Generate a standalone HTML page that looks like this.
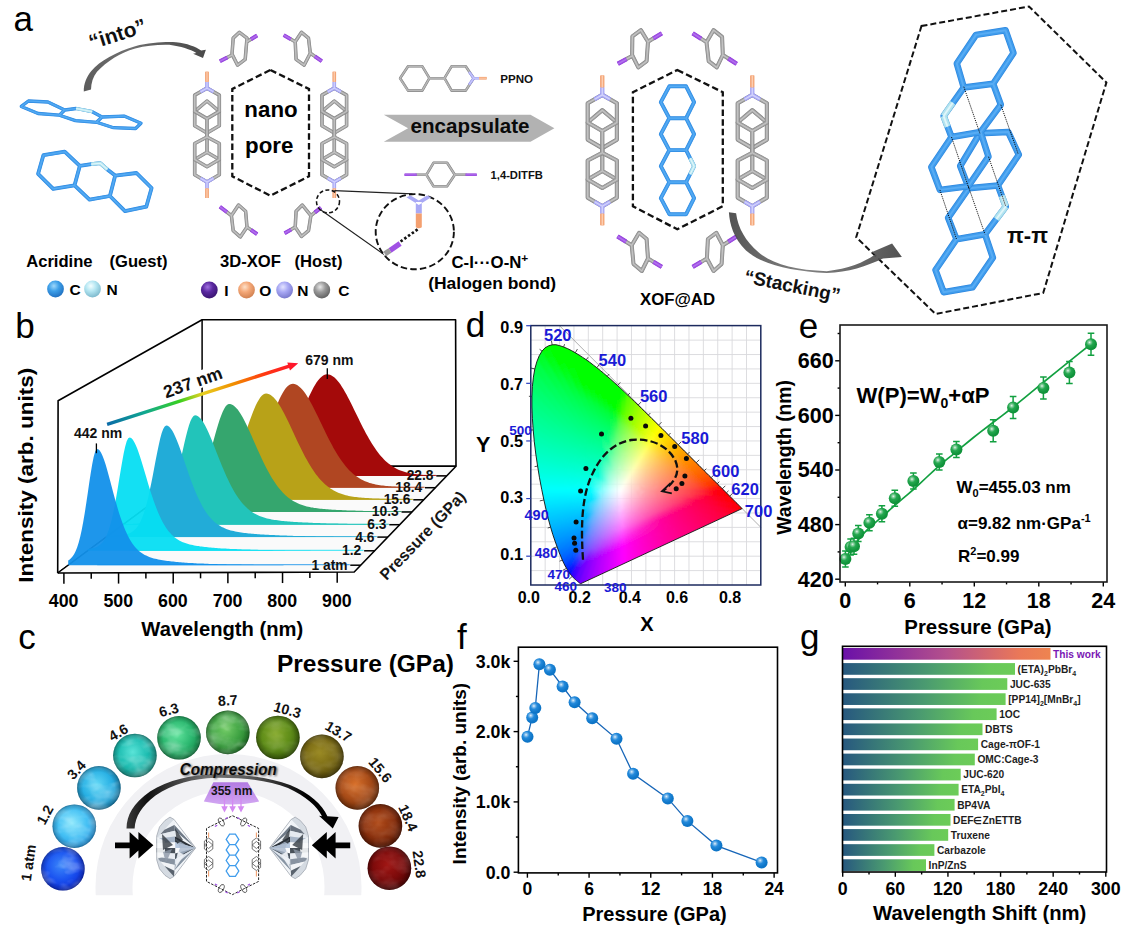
<!DOCTYPE html>
<html><head><meta charset="utf-8"><title>Figure</title><style>html,body{margin:0;padding:0;background:#fff}svg{display:block;font-family:'Liberation Sans', sans-serif}</style></head>
<body><svg width="1128" height="934" viewBox="0 0 1128 934" font-family="Liberation Sans, sans-serif">
<defs>
<radialGradient id="gb" cx="0.38" cy="0.34" r="0.55"><stop offset="0" stop-color="#fff" stop-opacity="0.9"/><stop offset="0.2" stop-color="#fff" stop-opacity="0.5"/><stop offset="0.5" stop-color="#fff" stop-opacity="0.08"/><stop offset="1" stop-color="#000" stop-opacity="0.08"/></radialGradient>
<linearGradient id="ag1" gradientUnits="userSpaceOnUse" x1="84" y1="90" x2="205" y2="52"><stop offset="0" stop-color="#5c5c5c"/><stop offset="0.45" stop-color="#707070"/><stop offset="0.8" stop-color="#555"/><stop offset="1" stop-color="#4a4a4a"/></linearGradient>
<radialGradient id="sC" cx="0.4" cy="0.32" r="0.7"><stop offset="0" stop-color="#9fd8fb"/><stop offset="0.45" stop-color="#3d9fe8"/><stop offset="1" stop-color="#1f6fc0"/></radialGradient>
<radialGradient id="sN" cx="0.4" cy="0.32" r="0.7"><stop offset="0" stop-color="#f4feff"/><stop offset="0.45" stop-color="#b4e6f2"/><stop offset="1" stop-color="#7cb8cc"/></radialGradient>
<radialGradient id="sI" cx="0.4" cy="0.32" r="0.7"><stop offset="0" stop-color="#a070e0"/><stop offset="0.45" stop-color="#5a28a0"/><stop offset="1" stop-color="#3a1470"/></radialGradient>
<radialGradient id="sO" cx="0.4" cy="0.32" r="0.7"><stop offset="0" stop-color="#fde0c8"/><stop offset="0.45" stop-color="#f4a878"/><stop offset="1" stop-color="#d08050"/></radialGradient>
<radialGradient id="sN2" cx="0.4" cy="0.32" r="0.7"><stop offset="0" stop-color="#e4e4ff"/><stop offset="0.45" stop-color="#a8a8f4"/><stop offset="1" stop-color="#7878cc"/></radialGradient>
<radialGradient id="sC2" cx="0.4" cy="0.32" r="0.7"><stop offset="0" stop-color="#e8e8e8"/><stop offset="0.45" stop-color="#9a9a9a"/><stop offset="1" stop-color="#606060"/></radialGradient>
<linearGradient id="ag2" gradientUnits="userSpaceOnUse" x1="729" y1="212" x2="900" y2="250"><stop offset="0" stop-color="#444"/><stop offset="0.5" stop-color="#777"/><stop offset="0.85" stop-color="#555"/><stop offset="1" stop-color="#444"/></linearGradient>
<linearGradient id="ba" gradientUnits="userSpaceOnUse" x1="107" y1="424.5" x2="298" y2="363.3"><stop offset="0" stop-color="#0a6aa8"/><stop offset="0.2" stop-color="#10a890"/><stop offset="0.38" stop-color="#38d020"/><stop offset="0.5" stop-color="#e8d020"/><stop offset="0.66" stop-color="#f09000"/><stop offset="0.82" stop-color="#ff3a10"/><stop offset="1" stop-color="#ff1030"/></linearGradient>
<clipPath id="cband"><rect x="80" y="740" width="300" height="155.2"/></clipPath>
<filter id="tx" x="0" y="0" width="1" height="1"><feTurbulence type="fractalNoise" baseFrequency="0.045 0.07" numOctaves="3" seed="7"/><feColorMatrix type="matrix" values="0 0 0 0 1  0 0 0 0 1  0 0 0 0 1  1.6 0 0 0 -0.62"/><feComposite in2="SourceGraphic" operator="in"/></filter>
<radialGradient id="brim" cx="0.5" cy="0.5" r="0.5"><stop offset="0.72" stop-color="#000" stop-opacity="0"/><stop offset="0.92" stop-color="#000" stop-opacity="0.16"/><stop offset="1" stop-color="#000" stop-opacity="0.34"/></radialGradient>
<radialGradient id="bl0" cx="0.45" cy="0.42" r="0.62"><stop offset="0" stop-color="#3a86fa"/><stop offset="0.55" stop-color="#1a52f0"/><stop offset="1" stop-color="#0c28d0"/></radialGradient>
<radialGradient id="bl1" cx="0.45" cy="0.42" r="0.62"><stop offset="0" stop-color="#8ee8fc"/><stop offset="0.55" stop-color="#44c0f4"/><stop offset="1" stop-color="#2090dc"/></radialGradient>
<radialGradient id="bl2" cx="0.45" cy="0.42" r="0.62"><stop offset="0" stop-color="#62d8f6"/><stop offset="0.55" stop-color="#28b0e4"/><stop offset="1" stop-color="#167eb0"/></radialGradient>
<radialGradient id="bl3" cx="0.45" cy="0.42" r="0.62"><stop offset="0" stop-color="#5ae4d8"/><stop offset="0.55" stop-color="#1cbcb0"/><stop offset="1" stop-color="#0e8478"/></radialGradient>
<radialGradient id="bl4" cx="0.45" cy="0.42" r="0.62"><stop offset="0" stop-color="#62e49e"/><stop offset="0.55" stop-color="#2cb870"/><stop offset="1" stop-color="#128244"/></radialGradient>
<radialGradient id="bl5" cx="0.45" cy="0.42" r="0.62"><stop offset="0" stop-color="#74cc68"/><stop offset="0.55" stop-color="#3ea242"/><stop offset="1" stop-color="#1c7024"/></radialGradient>
<radialGradient id="bl6" cx="0.45" cy="0.42" r="0.62"><stop offset="0" stop-color="#86aa2c"/><stop offset="0.55" stop-color="#5e8c18"/><stop offset="1" stop-color="#365808"/></radialGradient>
<radialGradient id="bl7" cx="0.45" cy="0.42" r="0.62"><stop offset="0" stop-color="#9a8a24"/><stop offset="0.55" stop-color="#7a6a14"/><stop offset="1" stop-color="#4a3e06"/></radialGradient>
<radialGradient id="bl8" cx="0.45" cy="0.42" r="0.62"><stop offset="0" stop-color="#d8702a"/><stop offset="0.55" stop-color="#a84c18"/><stop offset="1" stop-color="#6a2a06"/></radialGradient>
<radialGradient id="bl9" cx="0.45" cy="0.42" r="0.62"><stop offset="0" stop-color="#b04a18"/><stop offset="0.55" stop-color="#8a300c"/><stop offset="1" stop-color="#541604"/></radialGradient>
<radialGradient id="bl10" cx="0.45" cy="0.42" r="0.62"><stop offset="0" stop-color="#a01614"/><stop offset="0.55" stop-color="#7c0a0a"/><stop offset="1" stop-color="#4a0303"/></radialGradient>
<linearGradient id="cg" gradientUnits="userSpaceOnUse" x1="126" y1="0" x2="338" y2="0"><stop offset="0" stop-color="#3a3a3a"/><stop offset="0.1" stop-color="#111"/><stop offset="0.4" stop-color="#7a7a7a"/><stop offset="0.6" stop-color="#555"/><stop offset="0.85" stop-color="#000"/></linearGradient>
<filter id="sh" x="-10%" y="-30%" width="120%" height="170%"><feGaussianBlur stdDeviation="0.9"/></filter>
<linearGradient id="lp" x1="0" y1="0" x2="0" y2="1"><stop offset="0" stop-color="#b27ae2"/><stop offset="1" stop-color="#d2a6f2"/></linearGradient>
<clipPath id="cie"><polygon points="580.9,583.6 580.9,583.6 580.9,583.6 580.8,583.6 580.8,583.6 580.8,583.6 580.8,583.6 580.8,583.6 580.7,583.6 580.7,583.6 580.7,583.6 580.7,583.6 580.6,583.6 580.6,583.6 580.6,583.6 580.6,583.6 580.5,583.6 580.5,583.6 580.4,583.6 580.4,583.6 580.3,583.6 580.3,583.6 580.2,583.6 580.2,583.6 580.1,583.5 580.0,583.5 579.9,583.4 579.8,583.3 579.7,583.2 579.5,583.1 579.4,583.0 579.2,582.9 579.0,582.7 578.8,582.5 578.6,582.3 578.3,582.1 578.1,581.9 577.8,581.6 577.5,581.3 577.1,581.0 576.7,580.7 576.3,580.3 575.8,579.9 575.3,579.5 574.8,579.0 574.2,578.5 573.6,577.9 572.9,577.2 572.2,576.4 571.5,575.6 570.7,574.7 569.8,573.5 568.8,572.1 567.7,570.4 566.5,568.3 565.2,566.0 563.8,563.3 562.3,560.0 560.7,556.2 558.9,551.8 557.1,546.8 555.0,541.0 552.8,534.5 550.6,527.2 548.3,518.9 546.1,509.8 543.9,500.0 541.7,489.3 539.5,477.8 537.6,466.1 535.8,454.1 534.3,441.8 533.2,429.9 532.4,418.3 531.9,407.0 531.9,396.4 532.4,386.4 533.4,377.1 534.8,368.9 536.8,361.8 539.2,355.8 542.0,351.1 545.1,347.8 548.6,345.8 552.2,344.8 555.9,344.7 559.8,345.7 563.6,347.0 567.5,348.6 571.5,350.6 575.3,352.8 579.0,355.0 582.7,357.4 586.3,359.8 589.8,362.3 593.3,365.0 596.8,367.7 600.3,370.5 603.8,373.4 607.2,376.3 610.7,379.3 614.1,382.4 617.5,385.5 621.0,388.7 624.4,391.9 627.8,395.2 631.2,398.4 634.7,401.8 638.1,405.1 641.5,408.4 644.9,411.8 648.3,415.1 651.7,418.5 655.1,421.8 658.5,425.2 661.9,428.5 665.2,431.8 668.5,435.1 671.8,438.4 675.0,441.6 678.2,444.8 681.3,448.0 684.4,451.1 687.5,454.1 690.5,457.1 693.4,460.0 696.2,462.8 699.0,465.5 701.6,468.2 704.2,470.8 706.6,473.2 708.9,475.5 711.1,477.7 713.3,479.8 715.3,481.8 717.2,483.8 719.0,485.5 720.7,487.2 722.3,488.8 723.8,490.2 725.1,491.6 726.4,492.9 727.6,494.1 728.7,495.2 729.7,496.2 730.6,497.1 731.5,498.0 732.3,498.8 733.0,499.5 733.7,500.2 734.4,500.9 735.0,501.5 735.6,502.1 736.1,502.6 736.7,503.1 737.1,503.6 737.6,504.1 738.0,504.5 738.4,504.9 738.7,505.2 739.1,505.5 739.3,505.8 739.6,506.1 739.8,506.3 740.1,506.5 740.3,506.7 740.4,506.9 740.5,507.0 740.7,507.2 741.2,507.7 741.7,508.2 742.1,508.6"/></clipPath>
<filter id="cb" x="-5%" y="-5%" width="110%" height="110%"><feGaussianBlur stdDeviation="1.3"/></filter>
<linearGradient id="c0" gradientUnits="userSpaceOnUse" x1="620.7" y1="490.2" x2="736.0" y2="487.2"><stop offset="0.000" stop-color="#ffffff"/><stop offset="0.111" stop-color="#ffc8c7"/><stop offset="0.222" stop-color="#ffa4a2"/><stop offset="0.333" stop-color="#ff8784"/><stop offset="0.444" stop-color="#ff6f6b"/><stop offset="0.556" stop-color="#ff5953"/><stop offset="0.667" stop-color="#ff4238"/><stop offset="0.778" stop-color="#ff260e"/><stop offset="0.889" stop-color="#ff0000"/><stop offset="1.000" stop-color="#ff0000"/></linearGradient>
<linearGradient id="c1" gradientUnits="userSpaceOnUse" x1="620.7" y1="490.2" x2="730.5" y2="481.6"><stop offset="0.000" stop-color="#ffffff"/><stop offset="0.111" stop-color="#ffccc9"/><stop offset="0.222" stop-color="#ffaaa4"/><stop offset="0.333" stop-color="#ff8f86"/><stop offset="0.444" stop-color="#ff796c"/><stop offset="0.556" stop-color="#ff6653"/><stop offset="0.667" stop-color="#ff5338"/><stop offset="0.778" stop-color="#ff4006"/><stop offset="0.889" stop-color="#ff2900"/><stop offset="1.000" stop-color="#ff0000"/></linearGradient>
<linearGradient id="c2" gradientUnits="userSpaceOnUse" x1="620.7" y1="490.2" x2="725.4" y2="476.4"><stop offset="0.000" stop-color="#ffffff"/><stop offset="0.111" stop-color="#ffd0ca"/><stop offset="0.222" stop-color="#ffafa5"/><stop offset="0.333" stop-color="#ff9788"/><stop offset="0.444" stop-color="#ff826d"/><stop offset="0.556" stop-color="#ff7154"/><stop offset="0.667" stop-color="#ff6137"/><stop offset="0.778" stop-color="#ff5100"/><stop offset="0.889" stop-color="#ff4200"/><stop offset="1.000" stop-color="#ff3000"/></linearGradient>
<linearGradient id="c3" gradientUnits="userSpaceOnUse" x1="620.7" y1="490.2" x2="720.8" y2="471.6"><stop offset="0.000" stop-color="#ffffff"/><stop offset="0.111" stop-color="#ffd3cc"/><stop offset="0.222" stop-color="#ffb5a7"/><stop offset="0.333" stop-color="#ff9d89"/><stop offset="0.444" stop-color="#ff8b6e"/><stop offset="0.556" stop-color="#ff7b54"/><stop offset="0.667" stop-color="#ff6c36"/><stop offset="0.778" stop-color="#ff5f00"/><stop offset="0.889" stop-color="#ff5200"/><stop offset="1.000" stop-color="#ff4600"/></linearGradient>
<linearGradient id="c4" gradientUnits="userSpaceOnUse" x1="620.7" y1="490.2" x2="716.4" y2="467.2"><stop offset="0.000" stop-color="#ffffff"/><stop offset="0.111" stop-color="#ffd6cd"/><stop offset="0.222" stop-color="#ffbaa9"/><stop offset="0.333" stop-color="#ffa48b"/><stop offset="0.444" stop-color="#ff9270"/><stop offset="0.556" stop-color="#ff8455"/><stop offset="0.667" stop-color="#ff7735"/><stop offset="0.778" stop-color="#ff6b00"/><stop offset="0.889" stop-color="#ff6000"/><stop offset="1.000" stop-color="#ff5600"/></linearGradient>
<linearGradient id="c5" gradientUnits="userSpaceOnUse" x1="620.7" y1="490.2" x2="712.4" y2="463.0"><stop offset="0.000" stop-color="#ffffff"/><stop offset="0.111" stop-color="#ffd9cf"/><stop offset="0.222" stop-color="#ffbeab"/><stop offset="0.333" stop-color="#ffaa8c"/><stop offset="0.444" stop-color="#ff9a71"/><stop offset="0.556" stop-color="#ff8c55"/><stop offset="0.667" stop-color="#ff8034"/><stop offset="0.778" stop-color="#ff7600"/><stop offset="0.889" stop-color="#ff6c00"/><stop offset="1.000" stop-color="#ff6400"/></linearGradient>
<linearGradient id="c6" gradientUnits="userSpaceOnUse" x1="620.7" y1="490.2" x2="708.5" y2="459.1"><stop offset="0.000" stop-color="#ffffff"/><stop offset="0.111" stop-color="#ffdcd0"/><stop offset="0.222" stop-color="#ffc3ac"/><stop offset="0.333" stop-color="#ffb08e"/><stop offset="0.444" stop-color="#ffa172"/><stop offset="0.556" stop-color="#ff9456"/><stop offset="0.667" stop-color="#ff8934"/><stop offset="0.778" stop-color="#ff8000"/><stop offset="0.889" stop-color="#ff7700"/><stop offset="1.000" stop-color="#ff7000"/></linearGradient>
<linearGradient id="c7" gradientUnits="userSpaceOnUse" x1="620.7" y1="490.2" x2="704.8" y2="455.3"><stop offset="0.000" stop-color="#ffffff"/><stop offset="0.111" stop-color="#ffdfd1"/><stop offset="0.222" stop-color="#ffc8ae"/><stop offset="0.333" stop-color="#ffb690"/><stop offset="0.444" stop-color="#ffa873"/><stop offset="0.556" stop-color="#ff9c56"/><stop offset="0.667" stop-color="#ff9233"/><stop offset="0.778" stop-color="#ff8900"/><stop offset="0.889" stop-color="#ff8200"/><stop offset="1.000" stop-color="#ff7b00"/></linearGradient>
<linearGradient id="c8" gradientUnits="userSpaceOnUse" x1="620.7" y1="490.2" x2="701.3" y2="451.7"><stop offset="0.000" stop-color="#ffffff"/><stop offset="0.111" stop-color="#ffe1d3"/><stop offset="0.222" stop-color="#ffccb0"/><stop offset="0.333" stop-color="#ffbc91"/><stop offset="0.444" stop-color="#ffae75"/><stop offset="0.556" stop-color="#ffa457"/><stop offset="0.667" stop-color="#ff9a32"/><stop offset="0.778" stop-color="#ff9200"/><stop offset="0.889" stop-color="#ff8b00"/><stop offset="1.000" stop-color="#ff8500"/></linearGradient>
<linearGradient id="c9" gradientUnits="userSpaceOnUse" x1="620.7" y1="490.2" x2="697.9" y2="448.2"><stop offset="0.000" stop-color="#ffffff"/><stop offset="0.111" stop-color="#ffe4d4"/><stop offset="0.222" stop-color="#ffd0b1"/><stop offset="0.333" stop-color="#ffc193"/><stop offset="0.444" stop-color="#ffb576"/><stop offset="0.556" stop-color="#ffab58"/><stop offset="0.667" stop-color="#ffa331"/><stop offset="0.778" stop-color="#ff9b00"/><stop offset="0.889" stop-color="#ff9500"/><stop offset="1.000" stop-color="#ff8f00"/></linearGradient>
<linearGradient id="c10" gradientUnits="userSpaceOnUse" x1="620.7" y1="490.2" x2="694.6" y2="444.9"><stop offset="0.000" stop-color="#ffffff"/><stop offset="0.111" stop-color="#ffe7d5"/><stop offset="0.222" stop-color="#ffd5b3"/><stop offset="0.333" stop-color="#ffc794"/><stop offset="0.444" stop-color="#ffbc77"/><stop offset="0.556" stop-color="#ffb258"/><stop offset="0.667" stop-color="#ffab30"/><stop offset="0.778" stop-color="#ffa400"/><stop offset="0.889" stop-color="#ff9e00"/><stop offset="1.000" stop-color="#ff9900"/></linearGradient>
<linearGradient id="c11" gradientUnits="userSpaceOnUse" x1="620.7" y1="490.2" x2="691.3" y2="441.6"><stop offset="0.000" stop-color="#ffffff"/><stop offset="0.111" stop-color="#ffe9d6"/><stop offset="0.222" stop-color="#ffd9b5"/><stop offset="0.333" stop-color="#ffcc96"/><stop offset="0.444" stop-color="#ffc279"/><stop offset="0.556" stop-color="#ffba59"/><stop offset="0.667" stop-color="#ffb32f"/><stop offset="0.778" stop-color="#ffad00"/><stop offset="0.889" stop-color="#ffa700"/><stop offset="1.000" stop-color="#ffa300"/></linearGradient>
<linearGradient id="c12" gradientUnits="userSpaceOnUse" x1="620.7" y1="490.2" x2="688.2" y2="438.4"><stop offset="0.000" stop-color="#ffffff"/><stop offset="0.111" stop-color="#ffecd8"/><stop offset="0.222" stop-color="#ffddb6"/><stop offset="0.333" stop-color="#ffd298"/><stop offset="0.444" stop-color="#ffc97a"/><stop offset="0.556" stop-color="#ffc15a"/><stop offset="0.667" stop-color="#ffbb2e"/><stop offset="0.778" stop-color="#ffb500"/><stop offset="0.889" stop-color="#ffb100"/><stop offset="1.000" stop-color="#ffac00"/></linearGradient>
<linearGradient id="c13" gradientUnits="userSpaceOnUse" x1="620.7" y1="490.2" x2="685.0" y2="435.2"><stop offset="0.000" stop-color="#ffffff"/><stop offset="0.111" stop-color="#ffeed9"/><stop offset="0.222" stop-color="#ffe2b8"/><stop offset="0.333" stop-color="#ffd89a"/><stop offset="0.444" stop-color="#ffd07c"/><stop offset="0.556" stop-color="#ffc95b"/><stop offset="0.667" stop-color="#ffc32c"/><stop offset="0.778" stop-color="#ffbe00"/><stop offset="0.889" stop-color="#ffba00"/><stop offset="1.000" stop-color="#ffb600"/></linearGradient>
<linearGradient id="c14" gradientUnits="userSpaceOnUse" x1="620.7" y1="490.2" x2="681.9" y2="432.1"><stop offset="0.000" stop-color="#ffffff"/><stop offset="0.111" stop-color="#fff1da"/><stop offset="0.222" stop-color="#ffe6ba"/><stop offset="0.333" stop-color="#ffdd9c"/><stop offset="0.444" stop-color="#ffd67d"/><stop offset="0.556" stop-color="#ffd15c"/><stop offset="0.667" stop-color="#ffcc2b"/><stop offset="0.778" stop-color="#ffc700"/><stop offset="0.889" stop-color="#ffc400"/><stop offset="1.000" stop-color="#ffc000"/></linearGradient>
<linearGradient id="c15" gradientUnits="userSpaceOnUse" x1="620.7" y1="490.2" x2="678.8" y2="429.0"><stop offset="0.000" stop-color="#ffffff"/><stop offset="0.111" stop-color="#fff4dc"/><stop offset="0.222" stop-color="#ffebbc"/><stop offset="0.333" stop-color="#ffe39e"/><stop offset="0.444" stop-color="#ffde7f"/><stop offset="0.556" stop-color="#ffd95d"/><stop offset="0.667" stop-color="#ffd42a"/><stop offset="0.778" stop-color="#ffd100"/><stop offset="0.889" stop-color="#ffce00"/><stop offset="1.000" stop-color="#ffcb00"/></linearGradient>
<linearGradient id="c16" gradientUnits="userSpaceOnUse" x1="620.7" y1="490.2" x2="675.6" y2="425.8"><stop offset="0.000" stop-color="#ffffff"/><stop offset="0.111" stop-color="#fff6dd"/><stop offset="0.222" stop-color="#ffefbe"/><stop offset="0.333" stop-color="#ffeaa0"/><stop offset="0.444" stop-color="#ffe581"/><stop offset="0.556" stop-color="#ffe15e"/><stop offset="0.667" stop-color="#ffde28"/><stop offset="0.778" stop-color="#ffdb00"/><stop offset="0.889" stop-color="#ffd800"/><stop offset="1.000" stop-color="#ffd600"/></linearGradient>
<linearGradient id="c17" gradientUnits="userSpaceOnUse" x1="620.7" y1="490.2" x2="672.4" y2="422.7"><stop offset="0.000" stop-color="#ffffff"/><stop offset="0.111" stop-color="#fff9de"/><stop offset="0.222" stop-color="#fff4c0"/><stop offset="0.333" stop-color="#fff0a2"/><stop offset="0.444" stop-color="#ffed83"/><stop offset="0.556" stop-color="#ffea5f"/><stop offset="0.667" stop-color="#ffe826"/><stop offset="0.778" stop-color="#ffe600"/><stop offset="0.889" stop-color="#ffe400"/><stop offset="1.000" stop-color="#ffe200"/></linearGradient>
<linearGradient id="c18" gradientUnits="userSpaceOnUse" x1="620.7" y1="490.2" x2="669.2" y2="419.5"><stop offset="0.000" stop-color="#ffffff"/><stop offset="0.111" stop-color="#fffce0"/><stop offset="0.222" stop-color="#fff9c2"/><stop offset="0.333" stop-color="#fff7a4"/><stop offset="0.444" stop-color="#fff585"/><stop offset="0.556" stop-color="#fff460"/><stop offset="0.667" stop-color="#fff224"/><stop offset="0.778" stop-color="#fff100"/><stop offset="0.889" stop-color="#fff000"/><stop offset="1.000" stop-color="#ffef00"/></linearGradient>
<linearGradient id="c19" gradientUnits="userSpaceOnUse" x1="620.7" y1="490.2" x2="665.9" y2="416.3"><stop offset="0.000" stop-color="#ffffff"/><stop offset="0.111" stop-color="#ffffe1"/><stop offset="0.222" stop-color="#fffec4"/><stop offset="0.333" stop-color="#fffea7"/><stop offset="0.444" stop-color="#fffe88"/><stop offset="0.556" stop-color="#fffe62"/><stop offset="0.667" stop-color="#fffe21"/><stop offset="0.778" stop-color="#fffe00"/><stop offset="0.889" stop-color="#fffd00"/><stop offset="1.000" stop-color="#fffd00"/></linearGradient>
<linearGradient id="c20" gradientUnits="userSpaceOnUse" x1="620.7" y1="490.2" x2="662.6" y2="413.0"><stop offset="0.000" stop-color="#ffffff"/><stop offset="0.111" stop-color="#fcffe1"/><stop offset="0.222" stop-color="#faffc3"/><stop offset="0.333" stop-color="#f8ffa5"/><stop offset="0.444" stop-color="#f7ff86"/><stop offset="0.556" stop-color="#f5ff60"/><stop offset="0.667" stop-color="#f4ff1c"/><stop offset="0.778" stop-color="#f3ff00"/><stop offset="0.889" stop-color="#f2ff00"/><stop offset="1.000" stop-color="#f1ff00"/></linearGradient>
<linearGradient id="c21" gradientUnits="userSpaceOnUse" x1="620.7" y1="490.2" x2="659.1" y2="409.6"><stop offset="0.000" stop-color="#ffffff"/><stop offset="0.111" stop-color="#f9ffdf"/><stop offset="0.222" stop-color="#f4ffc1"/><stop offset="0.333" stop-color="#f0ffa3"/><stop offset="0.444" stop-color="#edff83"/><stop offset="0.556" stop-color="#eaff5d"/><stop offset="0.667" stop-color="#e8ff17"/><stop offset="0.778" stop-color="#e6ff00"/><stop offset="0.889" stop-color="#e4ff00"/><stop offset="1.000" stop-color="#e2ff00"/></linearGradient>
<linearGradient id="c22" gradientUnits="userSpaceOnUse" x1="620.7" y1="490.2" x2="655.5" y2="406.2"><stop offset="0.000" stop-color="#ffffff"/><stop offset="0.111" stop-color="#f6ffde"/><stop offset="0.222" stop-color="#efffbf"/><stop offset="0.333" stop-color="#e9ffa1"/><stop offset="0.444" stop-color="#e3ff81"/><stop offset="0.556" stop-color="#dfff5a"/><stop offset="0.667" stop-color="#dbff10"/><stop offset="0.778" stop-color="#d8ff00"/><stop offset="0.889" stop-color="#d5ff00"/><stop offset="1.000" stop-color="#d2ff00"/></linearGradient>
<linearGradient id="c23" gradientUnits="userSpaceOnUse" x1="620.7" y1="490.2" x2="651.7" y2="402.5"><stop offset="0.000" stop-color="#ffffff"/><stop offset="0.111" stop-color="#f3ffdd"/><stop offset="0.222" stop-color="#e9ffbe"/><stop offset="0.333" stop-color="#e0ff9f"/><stop offset="0.444" stop-color="#d9ff7e"/><stop offset="0.556" stop-color="#d3ff58"/><stop offset="0.667" stop-color="#ceff07"/><stop offset="0.778" stop-color="#c9ff00"/><stop offset="0.889" stop-color="#c5ff00"/><stop offset="1.000" stop-color="#c1ff00"/></linearGradient>
<linearGradient id="c24" gradientUnits="userSpaceOnUse" x1="620.7" y1="490.2" x2="647.8" y2="398.8"><stop offset="0.000" stop-color="#ffffff"/><stop offset="0.111" stop-color="#efffdc"/><stop offset="0.222" stop-color="#e2ffbc"/><stop offset="0.333" stop-color="#d8ff9c"/><stop offset="0.444" stop-color="#cfff7c"/><stop offset="0.556" stop-color="#c7ff55"/><stop offset="0.667" stop-color="#c0ff00"/><stop offset="0.778" stop-color="#baff00"/><stop offset="0.889" stop-color="#b4ff00"/><stop offset="1.000" stop-color="#afff00"/></linearGradient>
<linearGradient id="c25" gradientUnits="userSpaceOnUse" x1="620.7" y1="490.2" x2="643.6" y2="394.8"><stop offset="0.000" stop-color="#ffffff"/><stop offset="0.111" stop-color="#ecffdb"/><stop offset="0.222" stop-color="#dcffba"/><stop offset="0.333" stop-color="#cfff9a"/><stop offset="0.444" stop-color="#c3ff79"/><stop offset="0.556" stop-color="#b9ff52"/><stop offset="0.667" stop-color="#b1ff00"/><stop offset="0.778" stop-color="#a9ff00"/><stop offset="0.889" stop-color="#a2ff00"/><stop offset="1.000" stop-color="#9bff00"/></linearGradient>
<linearGradient id="c26" gradientUnits="userSpaceOnUse" x1="620.7" y1="490.2" x2="639.2" y2="390.6"><stop offset="0.000" stop-color="#ffffff"/><stop offset="0.111" stop-color="#e8ffd9"/><stop offset="0.222" stop-color="#d5ffb8"/><stop offset="0.333" stop-color="#c5ff98"/><stop offset="0.444" stop-color="#b7ff77"/><stop offset="0.556" stop-color="#abff4f"/><stop offset="0.667" stop-color="#a0ff00"/><stop offset="0.778" stop-color="#96ff00"/><stop offset="0.889" stop-color="#8dff00"/><stop offset="1.000" stop-color="#85ff00"/></linearGradient>
<linearGradient id="c27" gradientUnits="userSpaceOnUse" x1="620.7" y1="490.2" x2="634.4" y2="386.1"><stop offset="0.000" stop-color="#ffffff"/><stop offset="0.111" stop-color="#e4ffd8"/><stop offset="0.222" stop-color="#cdffb6"/><stop offset="0.333" stop-color="#baff95"/><stop offset="0.444" stop-color="#aaff74"/><stop offset="0.556" stop-color="#9bff4d"/><stop offset="0.667" stop-color="#8dff00"/><stop offset="0.778" stop-color="#80ff00"/><stop offset="0.889" stop-color="#74ff00"/><stop offset="1.000" stop-color="#68ff00"/></linearGradient>
<linearGradient id="c28" gradientUnits="userSpaceOnUse" x1="620.7" y1="490.2" x2="629.3" y2="381.3"><stop offset="0.000" stop-color="#ffffff"/><stop offset="0.111" stop-color="#dfffd7"/><stop offset="0.222" stop-color="#c5ffb4"/><stop offset="0.333" stop-color="#afff93"/><stop offset="0.444" stop-color="#9bff71"/><stop offset="0.556" stop-color="#88ff4a"/><stop offset="0.667" stop-color="#77ff00"/><stop offset="0.778" stop-color="#65ff00"/><stop offset="0.889" stop-color="#53ff00"/><stop offset="1.000" stop-color="#3eff00"/></linearGradient>
<linearGradient id="c29" gradientUnits="userSpaceOnUse" x1="620.7" y1="490.2" x2="623.7" y2="376.2"><stop offset="0.000" stop-color="#ffffff"/><stop offset="0.111" stop-color="#daffd5"/><stop offset="0.222" stop-color="#bcffb1"/><stop offset="0.333" stop-color="#a2ff90"/><stop offset="0.444" stop-color="#8aff6f"/><stop offset="0.556" stop-color="#72ff47"/><stop offset="0.667" stop-color="#59ff00"/><stop offset="0.778" stop-color="#3bff00"/><stop offset="0.889" stop-color="#00ff00"/><stop offset="1.000" stop-color="#00ff00"/></linearGradient>
<linearGradient id="c30" gradientUnits="userSpaceOnUse" x1="620.7" y1="490.2" x2="617.6" y2="370.6"><stop offset="0.000" stop-color="#ffffff"/><stop offset="0.111" stop-color="#d5ffd4"/><stop offset="0.222" stop-color="#b2ffaf"/><stop offset="0.333" stop-color="#93ff8e"/><stop offset="0.444" stop-color="#75ff6c"/><stop offset="0.556" stop-color="#54ff44"/><stop offset="0.667" stop-color="#23ff00"/><stop offset="0.778" stop-color="#00ff00"/><stop offset="0.889" stop-color="#00ff00"/><stop offset="1.000" stop-color="#00ff00"/></linearGradient>
<linearGradient id="c31" gradientUnits="userSpaceOnUse" x1="620.7" y1="490.2" x2="610.9" y2="364.7"><stop offset="0.000" stop-color="#ffffff"/><stop offset="0.111" stop-color="#cfffd2"/><stop offset="0.222" stop-color="#a7ffad"/><stop offset="0.333" stop-color="#82ff8b"/><stop offset="0.444" stop-color="#5aff6a"/><stop offset="0.556" stop-color="#16ff42"/><stop offset="0.667" stop-color="#00ff00"/><stop offset="0.778" stop-color="#00ff00"/><stop offset="0.889" stop-color="#00ff00"/><stop offset="1.000" stop-color="#00ff00"/></linearGradient>
<linearGradient id="c32" gradientUnits="userSpaceOnUse" x1="620.7" y1="490.2" x2="603.4" y2="358.3"><stop offset="0.000" stop-color="#ffffff"/><stop offset="0.111" stop-color="#c9ffd0"/><stop offset="0.222" stop-color="#9bffaa"/><stop offset="0.333" stop-color="#6cff89"/><stop offset="0.444" stop-color="#2bff67"/><stop offset="0.556" stop-color="#00ff3f"/><stop offset="0.667" stop-color="#00ff00"/><stop offset="0.778" stop-color="#00ff00"/><stop offset="0.889" stop-color="#00ff00"/><stop offset="1.000" stop-color="#00ff00"/></linearGradient>
<linearGradient id="c33" gradientUnits="userSpaceOnUse" x1="620.7" y1="490.2" x2="595.1" y2="351.5"><stop offset="0.000" stop-color="#ffffff"/><stop offset="0.111" stop-color="#c2ffcf"/><stop offset="0.222" stop-color="#8cffa8"/><stop offset="0.333" stop-color="#4fff86"/><stop offset="0.444" stop-color="#00ff65"/><stop offset="0.556" stop-color="#00ff3e"/><stop offset="0.667" stop-color="#00ff00"/><stop offset="0.778" stop-color="#00ff00"/><stop offset="0.889" stop-color="#00ff00"/><stop offset="1.000" stop-color="#00ff00"/></linearGradient>
<linearGradient id="c34" gradientUnits="userSpaceOnUse" x1="620.7" y1="490.2" x2="585.8" y2="344.6"><stop offset="0.000" stop-color="#ffffff"/><stop offset="0.111" stop-color="#bbffcd"/><stop offset="0.222" stop-color="#7bffa6"/><stop offset="0.333" stop-color="#0dff84"/><stop offset="0.444" stop-color="#00ff63"/><stop offset="0.556" stop-color="#00ff3d"/><stop offset="0.667" stop-color="#00ff00"/><stop offset="0.778" stop-color="#00ff00"/><stop offset="0.889" stop-color="#00ff00"/><stop offset="1.000" stop-color="#00ff00"/></linearGradient>
<linearGradient id="c35" gradientUnits="userSpaceOnUse" x1="620.7" y1="490.2" x2="575.7" y2="337.8"><stop offset="0.000" stop-color="#ffffff"/><stop offset="0.111" stop-color="#b2ffcb"/><stop offset="0.222" stop-color="#66ffa4"/><stop offset="0.333" stop-color="#00ff83"/><stop offset="0.444" stop-color="#00ff62"/><stop offset="0.556" stop-color="#00ff3e"/><stop offset="0.667" stop-color="#00ff00"/><stop offset="0.778" stop-color="#00ff00"/><stop offset="0.889" stop-color="#00ff00"/><stop offset="1.000" stop-color="#00ff00"/></linearGradient>
<linearGradient id="c36" gradientUnits="userSpaceOnUse" x1="620.7" y1="490.2" x2="564.6" y2="331.5"><stop offset="0.000" stop-color="#ffffff"/><stop offset="0.111" stop-color="#a9ffca"/><stop offset="0.222" stop-color="#49ffa3"/><stop offset="0.333" stop-color="#00ff82"/><stop offset="0.444" stop-color="#00ff63"/><stop offset="0.556" stop-color="#00ff40"/><stop offset="0.667" stop-color="#00ff00"/><stop offset="0.778" stop-color="#00ff00"/><stop offset="0.889" stop-color="#00ff00"/><stop offset="1.000" stop-color="#00ff00"/></linearGradient>
<linearGradient id="c37" gradientUnits="userSpaceOnUse" x1="620.7" y1="490.2" x2="553.1" y2="326.6"><stop offset="0.000" stop-color="#ffffff"/><stop offset="0.111" stop-color="#a0ffc9"/><stop offset="0.222" stop-color="#0dffa2"/><stop offset="0.333" stop-color="#00ff82"/><stop offset="0.444" stop-color="#00ff64"/><stop offset="0.556" stop-color="#00ff45"/><stop offset="0.667" stop-color="#00ff15"/><stop offset="0.778" stop-color="#00ff00"/><stop offset="0.889" stop-color="#00ff00"/><stop offset="1.000" stop-color="#00ff00"/></linearGradient>
<linearGradient id="c38" gradientUnits="userSpaceOnUse" x1="620.7" y1="490.2" x2="542.1" y2="325.1"><stop offset="0.000" stop-color="#ffffff"/><stop offset="0.111" stop-color="#98ffc9"/><stop offset="0.222" stop-color="#00ffa3"/><stop offset="0.333" stop-color="#00ff84"/><stop offset="0.444" stop-color="#00ff69"/><stop offset="0.556" stop-color="#00ff4d"/><stop offset="0.667" stop-color="#00ff2b"/><stop offset="0.778" stop-color="#00ff00"/><stop offset="0.889" stop-color="#00ff00"/><stop offset="1.000" stop-color="#00ff00"/></linearGradient>
<linearGradient id="c39" gradientUnits="userSpaceOnUse" x1="620.7" y1="490.2" x2="534.0" y2="330.1"><stop offset="0.000" stop-color="#ffffff"/><stop offset="0.111" stop-color="#93ffcb"/><stop offset="0.222" stop-color="#00ffa7"/><stop offset="0.333" stop-color="#00ff8a"/><stop offset="0.444" stop-color="#00ff71"/><stop offset="0.556" stop-color="#00ff59"/><stop offset="0.667" stop-color="#00ff41"/><stop offset="0.778" stop-color="#00ff1f"/><stop offset="0.889" stop-color="#00ff00"/><stop offset="1.000" stop-color="#00ff00"/></linearGradient>
<linearGradient id="c40" gradientUnits="userSpaceOnUse" x1="620.7" y1="490.2" x2="528.2" y2="338.9"><stop offset="0.000" stop-color="#ffffff"/><stop offset="0.111" stop-color="#91ffce"/><stop offset="0.222" stop-color="#00ffac"/><stop offset="0.333" stop-color="#00ff91"/><stop offset="0.444" stop-color="#00ff7b"/><stop offset="0.556" stop-color="#00ff66"/><stop offset="0.667" stop-color="#00ff53"/><stop offset="0.778" stop-color="#00ff3e"/><stop offset="0.889" stop-color="#00ff25"/><stop offset="1.000" stop-color="#00ff00"/></linearGradient>
<linearGradient id="c41" gradientUnits="userSpaceOnUse" x1="620.7" y1="490.2" x2="524.0" y2="349.2"><stop offset="0.000" stop-color="#ffffff"/><stop offset="0.111" stop-color="#91ffd1"/><stop offset="0.222" stop-color="#00ffb1"/><stop offset="0.333" stop-color="#00ff99"/><stop offset="0.444" stop-color="#00ff84"/><stop offset="0.556" stop-color="#00ff73"/><stop offset="0.667" stop-color="#00ff62"/><stop offset="0.778" stop-color="#00ff53"/><stop offset="0.889" stop-color="#00ff43"/><stop offset="1.000" stop-color="#00ff31"/></linearGradient>
<linearGradient id="c42" gradientUnits="userSpaceOnUse" x1="620.7" y1="490.2" x2="521.8" y2="361.0"><stop offset="0.000" stop-color="#ffffff"/><stop offset="0.111" stop-color="#93ffd5"/><stop offset="0.222" stop-color="#00ffb7"/><stop offset="0.333" stop-color="#00ffa1"/><stop offset="0.444" stop-color="#00ff8e"/><stop offset="0.556" stop-color="#00ff7f"/><stop offset="0.667" stop-color="#00ff71"/><stop offset="0.778" stop-color="#00ff64"/><stop offset="0.889" stop-color="#00ff58"/><stop offset="1.000" stop-color="#00ff4c"/></linearGradient>
<linearGradient id="c43" gradientUnits="userSpaceOnUse" x1="620.7" y1="490.2" x2="520.5" y2="372.6"><stop offset="0.000" stop-color="#ffffff"/><stop offset="0.111" stop-color="#96ffd8"/><stop offset="0.222" stop-color="#00ffbd"/><stop offset="0.333" stop-color="#00ffa8"/><stop offset="0.444" stop-color="#00ff98"/><stop offset="0.556" stop-color="#00ff89"/><stop offset="0.667" stop-color="#00ff7d"/><stop offset="0.778" stop-color="#00ff72"/><stop offset="0.889" stop-color="#00ff68"/><stop offset="1.000" stop-color="#00ff5f"/></linearGradient>
<linearGradient id="c44" gradientUnits="userSpaceOnUse" x1="620.7" y1="490.2" x2="519.3" y2="383.1"><stop offset="0.000" stop-color="#ffffff"/><stop offset="0.111" stop-color="#98ffdb"/><stop offset="0.222" stop-color="#00ffc2"/><stop offset="0.333" stop-color="#00ffaf"/><stop offset="0.444" stop-color="#00ffa0"/><stop offset="0.556" stop-color="#00ff93"/><stop offset="0.667" stop-color="#00ff88"/><stop offset="0.778" stop-color="#00ff7f"/><stop offset="0.889" stop-color="#00ff76"/><stop offset="1.000" stop-color="#00ff6e"/></linearGradient>
<linearGradient id="c45" gradientUnits="userSpaceOnUse" x1="620.7" y1="490.2" x2="519.6" y2="394.1"><stop offset="0.000" stop-color="#ffffff"/><stop offset="0.111" stop-color="#9cffdf"/><stop offset="0.222" stop-color="#00ffc8"/><stop offset="0.333" stop-color="#00ffb6"/><stop offset="0.444" stop-color="#00ffa8"/><stop offset="0.556" stop-color="#00ff9d"/><stop offset="0.667" stop-color="#00ff93"/><stop offset="0.778" stop-color="#00ff8a"/><stop offset="0.889" stop-color="#00ff83"/><stop offset="1.000" stop-color="#00ff7c"/></linearGradient>
<linearGradient id="c46" gradientUnits="userSpaceOnUse" x1="620.7" y1="490.2" x2="519.8" y2="403.9"><stop offset="0.000" stop-color="#ffffff"/><stop offset="0.111" stop-color="#9fffe2"/><stop offset="0.222" stop-color="#00ffcd"/><stop offset="0.333" stop-color="#00ffbd"/><stop offset="0.444" stop-color="#00ffb0"/><stop offset="0.556" stop-color="#00ffa5"/><stop offset="0.667" stop-color="#00ff9c"/><stop offset="0.778" stop-color="#00ff95"/><stop offset="0.889" stop-color="#00ff8e"/><stop offset="1.000" stop-color="#00ff88"/></linearGradient>
<linearGradient id="c47" gradientUnits="userSpaceOnUse" x1="620.7" y1="490.2" x2="520.1" y2="412.8"><stop offset="0.000" stop-color="#ffffff"/><stop offset="0.111" stop-color="#a2ffe5"/><stop offset="0.222" stop-color="#00ffd2"/><stop offset="0.333" stop-color="#00ffc3"/><stop offset="0.444" stop-color="#00ffb7"/><stop offset="0.556" stop-color="#00ffad"/><stop offset="0.667" stop-color="#00ffa5"/><stop offset="0.778" stop-color="#00ff9e"/><stop offset="0.889" stop-color="#00ff98"/><stop offset="1.000" stop-color="#00ff93"/></linearGradient>
<linearGradient id="c48" gradientUnits="userSpaceOnUse" x1="620.7" y1="490.2" x2="520.3" y2="421.1"><stop offset="0.000" stop-color="#ffffff"/><stop offset="0.111" stop-color="#a5ffe7"/><stop offset="0.222" stop-color="#00ffd6"/><stop offset="0.333" stop-color="#00ffc9"/><stop offset="0.444" stop-color="#00ffbe"/><stop offset="0.556" stop-color="#00ffb5"/><stop offset="0.667" stop-color="#00ffad"/><stop offset="0.778" stop-color="#00ffa7"/><stop offset="0.889" stop-color="#00ffa1"/><stop offset="1.000" stop-color="#00ff9d"/></linearGradient>
<linearGradient id="c49" gradientUnits="userSpaceOnUse" x1="620.7" y1="490.2" x2="521.2" y2="429.1"><stop offset="0.000" stop-color="#ffffff"/><stop offset="0.111" stop-color="#a8ffea"/><stop offset="0.222" stop-color="#00ffda"/><stop offset="0.333" stop-color="#00ffce"/><stop offset="0.444" stop-color="#00ffc4"/><stop offset="0.556" stop-color="#00ffbc"/><stop offset="0.667" stop-color="#00ffb5"/><stop offset="0.778" stop-color="#00ffb0"/><stop offset="0.889" stop-color="#00ffab"/><stop offset="1.000" stop-color="#00ffa6"/></linearGradient>
<linearGradient id="c50" gradientUnits="userSpaceOnUse" x1="620.7" y1="490.2" x2="522.0" y2="436.5"><stop offset="0.000" stop-color="#ffffff"/><stop offset="0.111" stop-color="#abffec"/><stop offset="0.222" stop-color="#04ffde"/><stop offset="0.333" stop-color="#00ffd3"/><stop offset="0.444" stop-color="#00ffcb"/><stop offset="0.556" stop-color="#00ffc3"/><stop offset="0.667" stop-color="#00ffbd"/><stop offset="0.778" stop-color="#00ffb8"/><stop offset="0.889" stop-color="#00ffb3"/><stop offset="1.000" stop-color="#00ffaf"/></linearGradient>
<linearGradient id="c51" gradientUnits="userSpaceOnUse" x1="620.7" y1="490.2" x2="522.7" y2="443.4"><stop offset="0.000" stop-color="#ffffff"/><stop offset="0.111" stop-color="#aeffef"/><stop offset="0.222" stop-color="#24ffe2"/><stop offset="0.333" stop-color="#00ffd8"/><stop offset="0.444" stop-color="#00ffd0"/><stop offset="0.556" stop-color="#00ffca"/><stop offset="0.667" stop-color="#00ffc4"/><stop offset="0.778" stop-color="#00ffc0"/><stop offset="0.889" stop-color="#00ffbc"/><stop offset="1.000" stop-color="#00ffb8"/></linearGradient>
<linearGradient id="c52" gradientUnits="userSpaceOnUse" x1="620.7" y1="490.2" x2="523.4" y2="449.8"><stop offset="0.000" stop-color="#ffffff"/><stop offset="0.111" stop-color="#b0fff1"/><stop offset="0.222" stop-color="#33ffe6"/><stop offset="0.333" stop-color="#00ffdd"/><stop offset="0.444" stop-color="#00ffd6"/><stop offset="0.556" stop-color="#00ffd0"/><stop offset="0.667" stop-color="#00ffcb"/><stop offset="0.778" stop-color="#00ffc7"/><stop offset="0.889" stop-color="#00ffc4"/><stop offset="1.000" stop-color="#00ffc0"/></linearGradient>
<linearGradient id="c53" gradientUnits="userSpaceOnUse" x1="620.7" y1="490.2" x2="524.1" y2="455.9"><stop offset="0.000" stop-color="#ffffff"/><stop offset="0.111" stop-color="#b3fff3"/><stop offset="0.222" stop-color="#3fffe9"/><stop offset="0.333" stop-color="#00ffe2"/><stop offset="0.444" stop-color="#00ffdc"/><stop offset="0.556" stop-color="#00ffd7"/><stop offset="0.667" stop-color="#00ffd2"/><stop offset="0.778" stop-color="#00ffcf"/><stop offset="0.889" stop-color="#00ffcb"/><stop offset="1.000" stop-color="#00ffc9"/></linearGradient>
<linearGradient id="c54" gradientUnits="userSpaceOnUse" x1="620.7" y1="490.2" x2="524.7" y2="461.7"><stop offset="0.000" stop-color="#ffffff"/><stop offset="0.111" stop-color="#b5fff5"/><stop offset="0.222" stop-color="#48ffed"/><stop offset="0.333" stop-color="#00ffe6"/><stop offset="0.444" stop-color="#00ffe1"/><stop offset="0.556" stop-color="#00ffdd"/><stop offset="0.667" stop-color="#00ffd9"/><stop offset="0.778" stop-color="#00ffd6"/><stop offset="0.889" stop-color="#00ffd3"/><stop offset="1.000" stop-color="#00ffd1"/></linearGradient>
<linearGradient id="c55" gradientUnits="userSpaceOnUse" x1="620.7" y1="490.2" x2="525.7" y2="467.4"><stop offset="0.000" stop-color="#ffffff"/><stop offset="0.111" stop-color="#b8fff7"/><stop offset="0.222" stop-color="#51fff0"/><stop offset="0.333" stop-color="#00ffeb"/><stop offset="0.444" stop-color="#00ffe7"/><stop offset="0.556" stop-color="#00ffe3"/><stop offset="0.667" stop-color="#00ffe0"/><stop offset="0.778" stop-color="#00ffdd"/><stop offset="0.889" stop-color="#00ffdb"/><stop offset="1.000" stop-color="#00ffd9"/></linearGradient>
<linearGradient id="c56" gradientUnits="userSpaceOnUse" x1="620.7" y1="490.2" x2="526.6" y2="472.7"><stop offset="0.000" stop-color="#ffffff"/><stop offset="0.111" stop-color="#bafff9"/><stop offset="0.222" stop-color="#59fff4"/><stop offset="0.333" stop-color="#00ffef"/><stop offset="0.444" stop-color="#00ffec"/><stop offset="0.556" stop-color="#00ffe9"/><stop offset="0.667" stop-color="#00ffe7"/><stop offset="0.778" stop-color="#00ffe4"/><stop offset="0.889" stop-color="#00ffe3"/><stop offset="1.000" stop-color="#00ffe1"/></linearGradient>
<linearGradient id="c57" gradientUnits="userSpaceOnUse" x1="620.7" y1="490.2" x2="527.5" y2="477.9"><stop offset="0.000" stop-color="#ffffff"/><stop offset="0.111" stop-color="#bdfffa"/><stop offset="0.222" stop-color="#61fff7"/><stop offset="0.333" stop-color="#00fff4"/><stop offset="0.444" stop-color="#00fff1"/><stop offset="0.556" stop-color="#00ffef"/><stop offset="0.667" stop-color="#00ffed"/><stop offset="0.778" stop-color="#00ffec"/><stop offset="0.889" stop-color="#00ffea"/><stop offset="1.000" stop-color="#00ffe9"/></linearGradient>
<linearGradient id="c58" gradientUnits="userSpaceOnUse" x1="620.7" y1="490.2" x2="528.4" y2="482.9"><stop offset="0.000" stop-color="#ffffff"/><stop offset="0.111" stop-color="#bffffc"/><stop offset="0.222" stop-color="#68fffa"/><stop offset="0.333" stop-color="#00fff8"/><stop offset="0.444" stop-color="#00fff7"/><stop offset="0.556" stop-color="#00fff5"/><stop offset="0.667" stop-color="#00fff4"/><stop offset="0.778" stop-color="#00fff3"/><stop offset="0.889" stop-color="#00fff2"/><stop offset="1.000" stop-color="#00fff2"/></linearGradient>
<linearGradient id="c59" gradientUnits="userSpaceOnUse" x1="620.7" y1="490.2" x2="529.3" y2="487.8"><stop offset="0.000" stop-color="#ffffff"/><stop offset="0.111" stop-color="#c1fffe"/><stop offset="0.222" stop-color="#6efffd"/><stop offset="0.333" stop-color="#00fffd"/><stop offset="0.444" stop-color="#00fffc"/><stop offset="0.556" stop-color="#00fffc"/><stop offset="0.667" stop-color="#00fffb"/><stop offset="0.778" stop-color="#00fffb"/><stop offset="0.889" stop-color="#00fffa"/><stop offset="1.000" stop-color="#00fffa"/></linearGradient>
<linearGradient id="c60" gradientUnits="userSpaceOnUse" x1="620.7" y1="490.2" x2="530.1" y2="492.6"><stop offset="0.000" stop-color="#ffffff"/><stop offset="0.111" stop-color="#c3feff"/><stop offset="0.222" stop-color="#73feff"/><stop offset="0.333" stop-color="#00fdff"/><stop offset="0.444" stop-color="#00fdff"/><stop offset="0.556" stop-color="#00fcff"/><stop offset="0.667" stop-color="#00fcff"/><stop offset="0.778" stop-color="#00fcff"/><stop offset="0.889" stop-color="#00fbff"/><stop offset="1.000" stop-color="#00fbff"/></linearGradient>
<linearGradient id="c61" gradientUnits="userSpaceOnUse" x1="620.7" y1="490.2" x2="531.0" y2="497.3"><stop offset="0.000" stop-color="#ffffff"/><stop offset="0.111" stop-color="#c4fdff"/><stop offset="0.222" stop-color="#77faff"/><stop offset="0.333" stop-color="#00f9ff"/><stop offset="0.444" stop-color="#00f7ff"/><stop offset="0.556" stop-color="#00f6ff"/><stop offset="0.667" stop-color="#00f5ff"/><stop offset="0.778" stop-color="#00f4ff"/><stop offset="0.889" stop-color="#00f3ff"/><stop offset="1.000" stop-color="#00f2ff"/></linearGradient>
<linearGradient id="c62" gradientUnits="userSpaceOnUse" x1="620.7" y1="490.2" x2="531.9" y2="501.9"><stop offset="0.000" stop-color="#ffffff"/><stop offset="0.111" stop-color="#c5fbff"/><stop offset="0.222" stop-color="#7bf7ff"/><stop offset="0.333" stop-color="#00f4ff"/><stop offset="0.444" stop-color="#00f2ff"/><stop offset="0.556" stop-color="#00f0ff"/><stop offset="0.667" stop-color="#00eeff"/><stop offset="0.778" stop-color="#00edff"/><stop offset="0.889" stop-color="#00ebff"/><stop offset="1.000" stop-color="#00eaff"/></linearGradient>
<linearGradient id="c63" gradientUnits="userSpaceOnUse" x1="620.7" y1="490.2" x2="533.0" y2="506.5"><stop offset="0.000" stop-color="#ffffff"/><stop offset="0.111" stop-color="#c6f9ff"/><stop offset="0.222" stop-color="#80f4ff"/><stop offset="0.333" stop-color="#00f0ff"/><stop offset="0.444" stop-color="#00edff"/><stop offset="0.556" stop-color="#00eaff"/><stop offset="0.667" stop-color="#00e7ff"/><stop offset="0.778" stop-color="#00e5ff"/><stop offset="0.889" stop-color="#00e3ff"/><stop offset="1.000" stop-color="#00e1ff"/></linearGradient>
<linearGradient id="c64" gradientUnits="userSpaceOnUse" x1="620.7" y1="490.2" x2="534.1" y2="511.0"><stop offset="0.000" stop-color="#ffffff"/><stop offset="0.111" stop-color="#c7f7ff"/><stop offset="0.222" stop-color="#84f1ff"/><stop offset="0.333" stop-color="#00ecff"/><stop offset="0.444" stop-color="#00e8ff"/><stop offset="0.556" stop-color="#00e4ff"/><stop offset="0.667" stop-color="#00e1ff"/><stop offset="0.778" stop-color="#00deff"/><stop offset="0.889" stop-color="#00dbff"/><stop offset="1.000" stop-color="#00d9ff"/></linearGradient>
<linearGradient id="c65" gradientUnits="userSpaceOnUse" x1="620.7" y1="490.2" x2="535.2" y2="515.6"><stop offset="0.000" stop-color="#ffffff"/><stop offset="0.111" stop-color="#c8f6ff"/><stop offset="0.222" stop-color="#87eeff"/><stop offset="0.333" stop-color="#00e8ff"/><stop offset="0.444" stop-color="#00e3ff"/><stop offset="0.556" stop-color="#00deff"/><stop offset="0.667" stop-color="#00daff"/><stop offset="0.778" stop-color="#00d6ff"/><stop offset="0.889" stop-color="#00d3ff"/><stop offset="1.000" stop-color="#00d1ff"/></linearGradient>
<linearGradient id="c66" gradientUnits="userSpaceOnUse" x1="620.7" y1="490.2" x2="536.4" y2="520.1"><stop offset="0.000" stop-color="#ffffff"/><stop offset="0.111" stop-color="#c9f4ff"/><stop offset="0.222" stop-color="#8bebff"/><stop offset="0.333" stop-color="#00e4ff"/><stop offset="0.444" stop-color="#00ddff"/><stop offset="0.556" stop-color="#00d8ff"/><stop offset="0.667" stop-color="#00d3ff"/><stop offset="0.778" stop-color="#00cfff"/><stop offset="0.889" stop-color="#00cbff"/><stop offset="1.000" stop-color="#00c8ff"/></linearGradient>
<linearGradient id="c67" gradientUnits="userSpaceOnUse" x1="620.7" y1="490.2" x2="537.5" y2="524.7"><stop offset="0.000" stop-color="#ffffff"/><stop offset="0.111" stop-color="#caf2ff"/><stop offset="0.222" stop-color="#8ee8ff"/><stop offset="0.333" stop-color="#27e0ff"/><stop offset="0.444" stop-color="#00d8ff"/><stop offset="0.556" stop-color="#00d2ff"/><stop offset="0.667" stop-color="#00ccff"/><stop offset="0.778" stop-color="#00c7ff"/><stop offset="0.889" stop-color="#00c3ff"/><stop offset="1.000" stop-color="#00bfff"/></linearGradient>
<linearGradient id="c68" gradientUnits="userSpaceOnUse" x1="620.7" y1="490.2" x2="538.7" y2="529.4"><stop offset="0.000" stop-color="#ffffff"/><stop offset="0.111" stop-color="#cbf1ff"/><stop offset="0.222" stop-color="#92e5ff"/><stop offset="0.333" stop-color="#3adbff"/><stop offset="0.444" stop-color="#00d3ff"/><stop offset="0.556" stop-color="#00ccff"/><stop offset="0.667" stop-color="#00c5ff"/><stop offset="0.778" stop-color="#00c0ff"/><stop offset="0.889" stop-color="#00bbff"/><stop offset="1.000" stop-color="#00b6ff"/></linearGradient>
<linearGradient id="c69" gradientUnits="userSpaceOnUse" x1="620.7" y1="490.2" x2="540.0" y2="534.1"><stop offset="0.000" stop-color="#ffffff"/><stop offset="0.111" stop-color="#ccefff"/><stop offset="0.222" stop-color="#95e2ff"/><stop offset="0.333" stop-color="#48d7ff"/><stop offset="0.444" stop-color="#00cdff"/><stop offset="0.556" stop-color="#00c5ff"/><stop offset="0.667" stop-color="#00beff"/><stop offset="0.778" stop-color="#00b8ff"/><stop offset="0.889" stop-color="#00b2ff"/><stop offset="1.000" stop-color="#00acff"/></linearGradient>
<linearGradient id="c70" gradientUnits="userSpaceOnUse" x1="620.7" y1="490.2" x2="541.6" y2="538.8"><stop offset="0.000" stop-color="#ffffff"/><stop offset="0.111" stop-color="#cdedff"/><stop offset="0.222" stop-color="#99dfff"/><stop offset="0.333" stop-color="#55d2ff"/><stop offset="0.444" stop-color="#00c8ff"/><stop offset="0.556" stop-color="#00bfff"/><stop offset="0.667" stop-color="#00b7ff"/><stop offset="0.778" stop-color="#00afff"/><stop offset="0.889" stop-color="#00a9ff"/><stop offset="1.000" stop-color="#00a3ff"/></linearGradient>
<linearGradient id="c71" gradientUnits="userSpaceOnUse" x1="620.7" y1="490.2" x2="543.2" y2="543.6"><stop offset="0.000" stop-color="#ffffff"/><stop offset="0.111" stop-color="#ceecff"/><stop offset="0.222" stop-color="#9ddcff"/><stop offset="0.333" stop-color="#5fceff"/><stop offset="0.444" stop-color="#00c2ff"/><stop offset="0.556" stop-color="#00b8ff"/><stop offset="0.667" stop-color="#00afff"/><stop offset="0.778" stop-color="#00a6ff"/><stop offset="0.889" stop-color="#009fff"/><stop offset="1.000" stop-color="#0098ff"/></linearGradient>
<linearGradient id="c72" gradientUnits="userSpaceOnUse" x1="620.7" y1="490.2" x2="544.9" y2="548.5"><stop offset="0.000" stop-color="#ffffff"/><stop offset="0.111" stop-color="#d0eaff"/><stop offset="0.222" stop-color="#a0d8ff"/><stop offset="0.333" stop-color="#69c9ff"/><stop offset="0.444" stop-color="#00bcff"/><stop offset="0.556" stop-color="#00b1ff"/><stop offset="0.667" stop-color="#00a7ff"/><stop offset="0.778" stop-color="#009dff"/><stop offset="0.889" stop-color="#0095ff"/><stop offset="1.000" stop-color="#008dff"/></linearGradient>
<linearGradient id="c73" gradientUnits="userSpaceOnUse" x1="620.7" y1="490.2" x2="546.6" y2="553.6"><stop offset="0.000" stop-color="#ffffff"/><stop offset="0.111" stop-color="#d1e8ff"/><stop offset="0.222" stop-color="#a4d5ff"/><stop offset="0.333" stop-color="#71c4ff"/><stop offset="0.444" stop-color="#0db6ff"/><stop offset="0.556" stop-color="#00a9ff"/><stop offset="0.667" stop-color="#009eff"/><stop offset="0.778" stop-color="#0093ff"/><stop offset="0.889" stop-color="#0089ff"/><stop offset="1.000" stop-color="#0080ff"/></linearGradient>
<linearGradient id="c74" gradientUnits="userSpaceOnUse" x1="620.7" y1="490.2" x2="548.6" y2="558.8"><stop offset="0.000" stop-color="#ffffff"/><stop offset="0.111" stop-color="#d2e6ff"/><stop offset="0.222" stop-color="#a7d1ff"/><stop offset="0.333" stop-color="#79bfff"/><stop offset="0.444" stop-color="#37b0ff"/><stop offset="0.556" stop-color="#00a1ff"/><stop offset="0.667" stop-color="#0094ff"/><stop offset="0.778" stop-color="#0088ff"/><stop offset="0.889" stop-color="#007cff"/><stop offset="1.000" stop-color="#0071ff"/></linearGradient>
<linearGradient id="c75" gradientUnits="userSpaceOnUse" x1="620.7" y1="490.2" x2="550.8" y2="564.1"><stop offset="0.000" stop-color="#ffffff"/><stop offset="0.111" stop-color="#d4e4ff"/><stop offset="0.222" stop-color="#abcdff"/><stop offset="0.333" stop-color="#81baff"/><stop offset="0.444" stop-color="#4da9ff"/><stop offset="0.556" stop-color="#0099ff"/><stop offset="0.667" stop-color="#008aff"/><stop offset="0.778" stop-color="#007cff"/><stop offset="0.889" stop-color="#006eff"/><stop offset="1.000" stop-color="#0060ff"/></linearGradient>
<linearGradient id="c76" gradientUnits="userSpaceOnUse" x1="620.7" y1="490.2" x2="553.1" y2="569.6"><stop offset="0.000" stop-color="#ffffff"/><stop offset="0.111" stop-color="#d5e2ff"/><stop offset="0.222" stop-color="#afcaff"/><stop offset="0.333" stop-color="#89b4ff"/><stop offset="0.444" stop-color="#5da1ff"/><stop offset="0.556" stop-color="#008fff"/><stop offset="0.667" stop-color="#007eff"/><stop offset="0.778" stop-color="#006eff"/><stop offset="0.889" stop-color="#005cff"/><stop offset="1.000" stop-color="#0049ff"/></linearGradient>
<linearGradient id="c77" gradientUnits="userSpaceOnUse" x1="620.7" y1="490.2" x2="555.8" y2="575.0"><stop offset="0.000" stop-color="#ffffff"/><stop offset="0.111" stop-color="#d7e0ff"/><stop offset="0.222" stop-color="#b3c6ff"/><stop offset="0.333" stop-color="#91afff"/><stop offset="0.444" stop-color="#6c99ff"/><stop offset="0.556" stop-color="#3c85ff"/><stop offset="0.667" stop-color="#0071ff"/><stop offset="0.778" stop-color="#005dff"/><stop offset="0.889" stop-color="#0045ff"/><stop offset="1.000" stop-color="#0025ff"/></linearGradient>
<linearGradient id="c78" gradientUnits="userSpaceOnUse" x1="620.7" y1="490.2" x2="558.7" y2="580.6"><stop offset="0.000" stop-color="#ffffff"/><stop offset="0.111" stop-color="#d9deff"/><stop offset="0.222" stop-color="#b8c2ff"/><stop offset="0.333" stop-color="#99a8ff"/><stop offset="0.444" stop-color="#7991ff"/><stop offset="0.556" stop-color="#567aff"/><stop offset="0.667" stop-color="#1c62ff"/><stop offset="0.778" stop-color="#0047ff"/><stop offset="0.889" stop-color="#001eff"/><stop offset="1.000" stop-color="#0000ff"/></linearGradient>
<linearGradient id="c79" gradientUnits="userSpaceOnUse" x1="620.7" y1="490.2" x2="562.2" y2="586.0"><stop offset="0.000" stop-color="#ffffff"/><stop offset="0.111" stop-color="#dbdcff"/><stop offset="0.222" stop-color="#bcbdff"/><stop offset="0.333" stop-color="#a1a2ff"/><stop offset="0.444" stop-color="#8688ff"/><stop offset="0.556" stop-color="#6a6eff"/><stop offset="0.667" stop-color="#4a50ff"/><stop offset="0.778" stop-color="#1325ff"/><stop offset="0.889" stop-color="#0000ff"/><stop offset="1.000" stop-color="#0000ff"/></linearGradient>
<linearGradient id="c80" gradientUnits="userSpaceOnUse" x1="620.7" y1="490.2" x2="566.3" y2="590.6"><stop offset="0.000" stop-color="#ffffff"/><stop offset="0.111" stop-color="#dedaff"/><stop offset="0.222" stop-color="#c2baff"/><stop offset="0.333" stop-color="#a99cff"/><stop offset="0.444" stop-color="#927fff"/><stop offset="0.556" stop-color="#7c60ff"/><stop offset="0.667" stop-color="#6639ff"/><stop offset="0.778" stop-color="#4d00ff"/><stop offset="0.889" stop-color="#2b00ff"/><stop offset="1.000" stop-color="#0000ff"/></linearGradient>
<linearGradient id="c81" gradientUnits="userSpaceOnUse" x1="620.7" y1="490.2" x2="570.9" y2="594.8"><stop offset="0.000" stop-color="#ffffff"/><stop offset="0.111" stop-color="#e0d8ff"/><stop offset="0.222" stop-color="#c7b6ff"/><stop offset="0.333" stop-color="#b296ff"/><stop offset="0.444" stop-color="#9e76ff"/><stop offset="0.556" stop-color="#8c51ff"/><stop offset="0.667" stop-color="#7b08ff"/><stop offset="0.778" stop-color="#6a00ff"/><stop offset="0.889" stop-color="#5900ff"/><stop offset="1.000" stop-color="#2c00ff"/></linearGradient>
<linearGradient id="c82" gradientUnits="userSpaceOnUse" x1="620.7" y1="490.2" x2="576.7" y2="596.6"><stop offset="0.000" stop-color="#ffffff"/><stop offset="0.111" stop-color="#e4d7ff"/><stop offset="0.222" stop-color="#ceb4ff"/><stop offset="0.333" stop-color="#bb92ff"/><stop offset="0.444" stop-color="#ab6fff"/><stop offset="0.556" stop-color="#9c44ff"/><stop offset="0.667" stop-color="#8f00ff"/><stop offset="0.778" stop-color="#8200ff"/><stop offset="0.889" stop-color="#7700ff"/><stop offset="1.000" stop-color="#5d00ff"/></linearGradient>
<linearGradient id="c83" gradientUnits="userSpaceOnUse" x1="620.7" y1="490.2" x2="584.3" y2="593.2"><stop offset="0.000" stop-color="#ffffff"/><stop offset="0.111" stop-color="#e8d8ff"/><stop offset="0.222" stop-color="#d6b5ff"/><stop offset="0.333" stop-color="#c693ff"/><stop offset="0.444" stop-color="#b970ff"/><stop offset="0.556" stop-color="#ad42ff"/><stop offset="0.667" stop-color="#a300ff"/><stop offset="0.778" stop-color="#9900ff"/><stop offset="0.889" stop-color="#9100ff"/><stop offset="1.000" stop-color="#8300ff"/></linearGradient>
<linearGradient id="c84" gradientUnits="userSpaceOnUse" x1="620.7" y1="490.2" x2="591.2" y2="590.1"><stop offset="0.000" stop-color="#ffffff"/><stop offset="0.111" stop-color="#ecd9ff"/><stop offset="0.222" stop-color="#ddb6ff"/><stop offset="0.333" stop-color="#d094ff"/><stop offset="0.444" stop-color="#c570ff"/><stop offset="0.556" stop-color="#bc41ff"/><stop offset="0.667" stop-color="#b400ff"/><stop offset="0.778" stop-color="#ac00ff"/><stop offset="0.889" stop-color="#a600ff"/><stop offset="1.000" stop-color="#9d00ff"/></linearGradient>
<linearGradient id="c85" gradientUnits="userSpaceOnUse" x1="620.7" y1="490.2" x2="597.5" y2="587.3"><stop offset="0.000" stop-color="#ffffff"/><stop offset="0.111" stop-color="#f0daff"/><stop offset="0.222" stop-color="#e3b7ff"/><stop offset="0.333" stop-color="#d995ff"/><stop offset="0.444" stop-color="#d071ff"/><stop offset="0.556" stop-color="#c940ff"/><stop offset="0.667" stop-color="#c200ff"/><stop offset="0.778" stop-color="#bd00ff"/><stop offset="0.889" stop-color="#b800ff"/><stop offset="1.000" stop-color="#b200ff"/></linearGradient>
<linearGradient id="c86" gradientUnits="userSpaceOnUse" x1="620.7" y1="490.2" x2="603.2" y2="584.7"><stop offset="0.000" stop-color="#ffffff"/><stop offset="0.111" stop-color="#f3daff"/><stop offset="0.222" stop-color="#e9b8ff"/><stop offset="0.333" stop-color="#e196ff"/><stop offset="0.444" stop-color="#da71ff"/><stop offset="0.556" stop-color="#d43eff"/><stop offset="0.667" stop-color="#cf00ff"/><stop offset="0.778" stop-color="#cb00ff"/><stop offset="0.889" stop-color="#c700ff"/><stop offset="1.000" stop-color="#c400ff"/></linearGradient>
<linearGradient id="c87" gradientUnits="userSpaceOnUse" x1="620.7" y1="490.2" x2="608.6" y2="582.3"><stop offset="0.000" stop-color="#ffffff"/><stop offset="0.111" stop-color="#f6dbff"/><stop offset="0.222" stop-color="#efb9ff"/><stop offset="0.333" stop-color="#e997ff"/><stop offset="0.444" stop-color="#e371ff"/><stop offset="0.556" stop-color="#df3dff"/><stop offset="0.667" stop-color="#db00ff"/><stop offset="0.778" stop-color="#d800ff"/><stop offset="0.889" stop-color="#d500ff"/><stop offset="1.000" stop-color="#d300ff"/></linearGradient>
<linearGradient id="c88" gradientUnits="userSpaceOnUse" x1="620.7" y1="490.2" x2="613.7" y2="580.0"><stop offset="0.000" stop-color="#ffffff"/><stop offset="0.111" stop-color="#f9dcff"/><stop offset="0.222" stop-color="#f4baff"/><stop offset="0.333" stop-color="#f098ff"/><stop offset="0.444" stop-color="#ec72ff"/><stop offset="0.556" stop-color="#e93cff"/><stop offset="0.667" stop-color="#e700ff"/><stop offset="0.778" stop-color="#e400ff"/><stop offset="0.889" stop-color="#e200ff"/><stop offset="1.000" stop-color="#e100ff"/></linearGradient>
<linearGradient id="c89" gradientUnits="userSpaceOnUse" x1="620.7" y1="490.2" x2="618.4" y2="577.9"><stop offset="0.000" stop-color="#ffffff"/><stop offset="0.111" stop-color="#fbdcff"/><stop offset="0.222" stop-color="#f9bbff"/><stop offset="0.333" stop-color="#f699ff"/><stop offset="0.444" stop-color="#f472ff"/><stop offset="0.556" stop-color="#f33aff"/><stop offset="0.667" stop-color="#f100ff"/><stop offset="0.778" stop-color="#f000ff"/><stop offset="0.889" stop-color="#ef00ff"/><stop offset="1.000" stop-color="#ee00ff"/></linearGradient>
<linearGradient id="c90" gradientUnits="userSpaceOnUse" x1="620.7" y1="490.2" x2="623.0" y2="575.9"><stop offset="0.000" stop-color="#ffffff"/><stop offset="0.111" stop-color="#feddff"/><stop offset="0.222" stop-color="#fdbcff"/><stop offset="0.333" stop-color="#fd99ff"/><stop offset="0.444" stop-color="#fc72ff"/><stop offset="0.556" stop-color="#fc39ff"/><stop offset="0.667" stop-color="#fb00ff"/><stop offset="0.778" stop-color="#fb00ff"/><stop offset="0.889" stop-color="#fa00ff"/><stop offset="1.000" stop-color="#fa00ff"/></linearGradient>
<linearGradient id="c91" gradientUnits="userSpaceOnUse" x1="620.7" y1="490.2" x2="627.3" y2="573.9"><stop offset="0.000" stop-color="#ffffff"/><stop offset="0.111" stop-color="#ffdcfe"/><stop offset="0.222" stop-color="#ffbbfc"/><stop offset="0.333" stop-color="#ff98fb"/><stop offset="0.444" stop-color="#ff70fb"/><stop offset="0.556" stop-color="#ff36fa"/><stop offset="0.667" stop-color="#ff00f9"/><stop offset="0.778" stop-color="#ff00f9"/><stop offset="0.889" stop-color="#ff00f8"/><stop offset="1.000" stop-color="#ff00f8"/></linearGradient>
<linearGradient id="c92" gradientUnits="userSpaceOnUse" x1="620.7" y1="490.2" x2="631.5" y2="572.0"><stop offset="0.000" stop-color="#ffffff"/><stop offset="0.111" stop-color="#ffdbfb"/><stop offset="0.222" stop-color="#ffb8f8"/><stop offset="0.333" stop-color="#ff95f6"/><stop offset="0.444" stop-color="#ff6ef4"/><stop offset="0.556" stop-color="#ff33f2"/><stop offset="0.667" stop-color="#ff00f1"/><stop offset="0.778" stop-color="#ff00ef"/><stop offset="0.889" stop-color="#ff00ee"/><stop offset="1.000" stop-color="#ff00ed"/></linearGradient>
<linearGradient id="c93" gradientUnits="userSpaceOnUse" x1="620.7" y1="490.2" x2="635.5" y2="570.2"><stop offset="0.000" stop-color="#ffffff"/><stop offset="0.111" stop-color="#ffd9f9"/><stop offset="0.222" stop-color="#ffb6f4"/><stop offset="0.333" stop-color="#ff93f1"/><stop offset="0.444" stop-color="#ff6bee"/><stop offset="0.556" stop-color="#ff2feb"/><stop offset="0.667" stop-color="#ff00e9"/><stop offset="0.778" stop-color="#ff00e7"/><stop offset="0.889" stop-color="#ff00e5"/><stop offset="1.000" stop-color="#ff00e4"/></linearGradient>
<linearGradient id="c94" gradientUnits="userSpaceOnUse" x1="620.7" y1="490.2" x2="639.5" y2="568.4"><stop offset="0.000" stop-color="#ffffff"/><stop offset="0.111" stop-color="#ffd8f7"/><stop offset="0.222" stop-color="#ffb4f1"/><stop offset="0.333" stop-color="#ff90ec"/><stop offset="0.444" stop-color="#ff68e8"/><stop offset="0.556" stop-color="#ff2ce4"/><stop offset="0.667" stop-color="#ff00e1"/><stop offset="0.778" stop-color="#ff00df"/><stop offset="0.889" stop-color="#ff00dd"/><stop offset="1.000" stop-color="#ff00db"/></linearGradient>
<linearGradient id="c95" gradientUnits="userSpaceOnUse" x1="620.7" y1="490.2" x2="643.3" y2="566.6"><stop offset="0.000" stop-color="#ffffff"/><stop offset="0.111" stop-color="#ffd7f5"/><stop offset="0.222" stop-color="#ffb2ed"/><stop offset="0.333" stop-color="#ff8ee7"/><stop offset="0.444" stop-color="#ff66e2"/><stop offset="0.556" stop-color="#ff2ade"/><stop offset="0.667" stop-color="#ff00db"/><stop offset="0.778" stop-color="#ff00d8"/><stop offset="0.889" stop-color="#ff00d5"/><stop offset="1.000" stop-color="#ff00d3"/></linearGradient>
<linearGradient id="c96" gradientUnits="userSpaceOnUse" x1="620.7" y1="490.2" x2="647.1" y2="564.9"><stop offset="0.000" stop-color="#ffffff"/><stop offset="0.111" stop-color="#ffd6f3"/><stop offset="0.222" stop-color="#ffb0ea"/><stop offset="0.333" stop-color="#ff8ce2"/><stop offset="0.444" stop-color="#ff64dd"/><stop offset="0.556" stop-color="#ff27d8"/><stop offset="0.667" stop-color="#ff00d4"/><stop offset="0.778" stop-color="#ff00d1"/><stop offset="0.889" stop-color="#ff00ce"/><stop offset="1.000" stop-color="#ff00cb"/></linearGradient>
<linearGradient id="c97" gradientUnits="userSpaceOnUse" x1="620.7" y1="490.2" x2="650.9" y2="563.1"><stop offset="0.000" stop-color="#ffffff"/><stop offset="0.111" stop-color="#ffd4f1"/><stop offset="0.222" stop-color="#ffafe6"/><stop offset="0.333" stop-color="#ff8ade"/><stop offset="0.444" stop-color="#ff62d8"/><stop offset="0.556" stop-color="#ff24d2"/><stop offset="0.667" stop-color="#ff00ce"/><stop offset="0.778" stop-color="#ff00ca"/><stop offset="0.889" stop-color="#ff00c7"/><stop offset="1.000" stop-color="#ff00c4"/></linearGradient>
<linearGradient id="c98" gradientUnits="userSpaceOnUse" x1="620.7" y1="490.2" x2="654.6" y2="561.4"><stop offset="0.000" stop-color="#ffffff"/><stop offset="0.111" stop-color="#ffd3ef"/><stop offset="0.222" stop-color="#ffade3"/><stop offset="0.333" stop-color="#ff88da"/><stop offset="0.444" stop-color="#ff60d3"/><stop offset="0.556" stop-color="#ff21cd"/><stop offset="0.667" stop-color="#ff00c8"/><stop offset="0.778" stop-color="#ff00c4"/><stop offset="0.889" stop-color="#ff00c0"/><stop offset="1.000" stop-color="#ff00bd"/></linearGradient>
<linearGradient id="c99" gradientUnits="userSpaceOnUse" x1="620.7" y1="490.2" x2="658.4" y2="559.7"><stop offset="0.000" stop-color="#ffffff"/><stop offset="0.111" stop-color="#ffd2ed"/><stop offset="0.222" stop-color="#ffabe0"/><stop offset="0.333" stop-color="#ff86d6"/><stop offset="0.444" stop-color="#ff5ece"/><stop offset="0.556" stop-color="#ff1fc8"/><stop offset="0.667" stop-color="#ff00c2"/><stop offset="0.778" stop-color="#ff00be"/><stop offset="0.889" stop-color="#ff00ba"/><stop offset="1.000" stop-color="#ff00b6"/></linearGradient>
<linearGradient id="c100" gradientUnits="userSpaceOnUse" x1="620.7" y1="490.2" x2="662.1" y2="557.9"><stop offset="0.000" stop-color="#ffffff"/><stop offset="0.111" stop-color="#ffd1eb"/><stop offset="0.222" stop-color="#ffaadd"/><stop offset="0.333" stop-color="#ff84d2"/><stop offset="0.444" stop-color="#ff5cc9"/><stop offset="0.556" stop-color="#ff1cc2"/><stop offset="0.667" stop-color="#ff00bd"/><stop offset="0.778" stop-color="#ff00b8"/><stop offset="0.889" stop-color="#ff00b3"/><stop offset="1.000" stop-color="#ff00b0"/></linearGradient>
<linearGradient id="c101" gradientUnits="userSpaceOnUse" x1="620.7" y1="490.2" x2="665.9" y2="556.1"><stop offset="0.000" stop-color="#ffffff"/><stop offset="0.111" stop-color="#ffd0e9"/><stop offset="0.222" stop-color="#ffa8da"/><stop offset="0.333" stop-color="#ff83ce"/><stop offset="0.444" stop-color="#ff5bc5"/><stop offset="0.556" stop-color="#ff19bd"/><stop offset="0.667" stop-color="#ff00b7"/><stop offset="0.778" stop-color="#ff00b2"/><stop offset="0.889" stop-color="#ff00ad"/><stop offset="1.000" stop-color="#ff00a9"/></linearGradient>
<linearGradient id="c102" gradientUnits="userSpaceOnUse" x1="620.7" y1="490.2" x2="669.8" y2="554.3"><stop offset="0.000" stop-color="#ffffff"/><stop offset="0.111" stop-color="#ffcfe7"/><stop offset="0.222" stop-color="#ffa6d7"/><stop offset="0.333" stop-color="#ff81ca"/><stop offset="0.444" stop-color="#ff59c0"/><stop offset="0.556" stop-color="#ff16b8"/><stop offset="0.667" stop-color="#ff00b2"/><stop offset="0.778" stop-color="#ff00ac"/><stop offset="0.889" stop-color="#ff00a7"/><stop offset="1.000" stop-color="#ff00a3"/></linearGradient>
<linearGradient id="c103" gradientUnits="userSpaceOnUse" x1="620.7" y1="490.2" x2="673.7" y2="552.4"><stop offset="0.000" stop-color="#ffffff"/><stop offset="0.111" stop-color="#ffcee5"/><stop offset="0.222" stop-color="#ffa5d4"/><stop offset="0.333" stop-color="#ff7fc6"/><stop offset="0.444" stop-color="#ff57bc"/><stop offset="0.556" stop-color="#ff13b3"/><stop offset="0.667" stop-color="#ff00ac"/><stop offset="0.778" stop-color="#ff00a6"/><stop offset="0.889" stop-color="#ff00a1"/><stop offset="1.000" stop-color="#ff009d"/></linearGradient>
<linearGradient id="c104" gradientUnits="userSpaceOnUse" x1="620.7" y1="490.2" x2="677.8" y2="550.5"><stop offset="0.000" stop-color="#ffffff"/><stop offset="0.111" stop-color="#ffcce4"/><stop offset="0.222" stop-color="#ffa3d0"/><stop offset="0.333" stop-color="#ff7ec2"/><stop offset="0.444" stop-color="#ff55b7"/><stop offset="0.556" stop-color="#ff10ae"/><stop offset="0.667" stop-color="#ff00a7"/><stop offset="0.778" stop-color="#ff00a0"/><stop offset="0.889" stop-color="#ff009b"/><stop offset="1.000" stop-color="#ff0096"/></linearGradient>
<linearGradient id="c105" gradientUnits="userSpaceOnUse" x1="620.7" y1="490.2" x2="682.0" y2="548.5"><stop offset="0.000" stop-color="#ffffff"/><stop offset="0.111" stop-color="#ffcbe2"/><stop offset="0.222" stop-color="#ffa2cd"/><stop offset="0.333" stop-color="#ff7cbe"/><stop offset="0.444" stop-color="#ff54b2"/><stop offset="0.556" stop-color="#ff0da9"/><stop offset="0.667" stop-color="#ff00a1"/><stop offset="0.778" stop-color="#ff009a"/><stop offset="0.889" stop-color="#ff0095"/><stop offset="1.000" stop-color="#ff0090"/></linearGradient>
<linearGradient id="c106" gradientUnits="userSpaceOnUse" x1="620.7" y1="490.2" x2="686.4" y2="546.4"><stop offset="0.000" stop-color="#ffffff"/><stop offset="0.111" stop-color="#ffcadf"/><stop offset="0.222" stop-color="#ffa0ca"/><stop offset="0.333" stop-color="#ff7aba"/><stop offset="0.444" stop-color="#ff52ae"/><stop offset="0.556" stop-color="#ff08a4"/><stop offset="0.667" stop-color="#ff009b"/><stop offset="0.778" stop-color="#ff0094"/><stop offset="0.889" stop-color="#ff008e"/><stop offset="1.000" stop-color="#ff0089"/></linearGradient>
<linearGradient id="c107" gradientUnits="userSpaceOnUse" x1="620.7" y1="490.2" x2="690.9" y2="544.2"><stop offset="0.000" stop-color="#ffffff"/><stop offset="0.111" stop-color="#ffc9dd"/><stop offset="0.222" stop-color="#ff9ec7"/><stop offset="0.333" stop-color="#ff79b6"/><stop offset="0.444" stop-color="#ff51a9"/><stop offset="0.556" stop-color="#ff049e"/><stop offset="0.667" stop-color="#ff0096"/><stop offset="0.778" stop-color="#ff008e"/><stop offset="0.889" stop-color="#ff0088"/><stop offset="1.000" stop-color="#ff0082"/></linearGradient>
<linearGradient id="c108" gradientUnits="userSpaceOnUse" x1="620.7" y1="490.2" x2="695.7" y2="541.8"><stop offset="0.000" stop-color="#ffffff"/><stop offset="0.111" stop-color="#ffc8db"/><stop offset="0.222" stop-color="#ff9dc3"/><stop offset="0.333" stop-color="#ff77b2"/><stop offset="0.444" stop-color="#ff4fa4"/><stop offset="0.556" stop-color="#ff0099"/><stop offset="0.667" stop-color="#ff0090"/><stop offset="0.778" stop-color="#ff0088"/><stop offset="0.889" stop-color="#ff0081"/><stop offset="1.000" stop-color="#ff007b"/></linearGradient>
<linearGradient id="c109" gradientUnits="userSpaceOnUse" x1="620.7" y1="490.2" x2="700.8" y2="539.4"><stop offset="0.000" stop-color="#ffffff"/><stop offset="0.111" stop-color="#ffc6d9"/><stop offset="0.222" stop-color="#ff9bc0"/><stop offset="0.333" stop-color="#ff75ad"/><stop offset="0.444" stop-color="#ff4d9f"/><stop offset="0.556" stop-color="#ff0093"/><stop offset="0.667" stop-color="#ff0089"/><stop offset="0.778" stop-color="#ff0081"/><stop offset="0.889" stop-color="#ff007a"/><stop offset="1.000" stop-color="#ff0073"/></linearGradient>
<linearGradient id="c110" gradientUnits="userSpaceOnUse" x1="620.7" y1="490.2" x2="706.3" y2="536.7"><stop offset="0.000" stop-color="#ffffff"/><stop offset="0.111" stop-color="#ffc5d7"/><stop offset="0.222" stop-color="#ff99bc"/><stop offset="0.333" stop-color="#ff73a8"/><stop offset="0.444" stop-color="#ff4b99"/><stop offset="0.556" stop-color="#ff008d"/><stop offset="0.667" stop-color="#ff0083"/><stop offset="0.778" stop-color="#ff007a"/><stop offset="0.889" stop-color="#ff0072"/><stop offset="1.000" stop-color="#ff006b"/></linearGradient>
<linearGradient id="c111" gradientUnits="userSpaceOnUse" x1="620.7" y1="490.2" x2="712.2" y2="533.9"><stop offset="0.000" stop-color="#ffffff"/><stop offset="0.111" stop-color="#ffc3d4"/><stop offset="0.222" stop-color="#ff98b8"/><stop offset="0.333" stop-color="#ff71a3"/><stop offset="0.444" stop-color="#ff4993"/><stop offset="0.556" stop-color="#ff0086"/><stop offset="0.667" stop-color="#ff007b"/><stop offset="0.778" stop-color="#ff0072"/><stop offset="0.889" stop-color="#ff0069"/><stop offset="1.000" stop-color="#ff0061"/></linearGradient>
<linearGradient id="c112" gradientUnits="userSpaceOnUse" x1="620.7" y1="490.2" x2="718.6" y2="530.8"><stop offset="0.000" stop-color="#ffffff"/><stop offset="0.111" stop-color="#ffc2d1"/><stop offset="0.222" stop-color="#ff96b4"/><stop offset="0.333" stop-color="#ff6f9e"/><stop offset="0.444" stop-color="#ff488d"/><stop offset="0.556" stop-color="#ff007f"/><stop offset="0.667" stop-color="#ff0073"/><stop offset="0.778" stop-color="#ff0069"/><stop offset="0.889" stop-color="#ff0060"/><stop offset="1.000" stop-color="#ff0057"/></linearGradient>
<linearGradient id="c113" gradientUnits="userSpaceOnUse" x1="620.7" y1="490.2" x2="725.6" y2="527.4"><stop offset="0.000" stop-color="#ffffff"/><stop offset="0.111" stop-color="#ffc0ce"/><stop offset="0.222" stop-color="#ff93af"/><stop offset="0.333" stop-color="#ff6d98"/><stop offset="0.444" stop-color="#ff4587"/><stop offset="0.556" stop-color="#ff0078"/><stop offset="0.667" stop-color="#ff006b"/><stop offset="0.778" stop-color="#ff005f"/><stop offset="0.889" stop-color="#ff0055"/><stop offset="1.000" stop-color="#ff004a"/></linearGradient>
<linearGradient id="c114" gradientUnits="userSpaceOnUse" x1="620.7" y1="490.2" x2="733.5" y2="523.7"><stop offset="0.000" stop-color="#ffffff"/><stop offset="0.111" stop-color="#ffbecb"/><stop offset="0.222" stop-color="#ff91aa"/><stop offset="0.333" stop-color="#ff6b92"/><stop offset="0.444" stop-color="#ff437f"/><stop offset="0.556" stop-color="#ff006f"/><stop offset="0.667" stop-color="#ff0061"/><stop offset="0.778" stop-color="#ff0054"/><stop offset="0.889" stop-color="#ff0047"/><stop offset="1.000" stop-color="#ff003b"/></linearGradient>
<linearGradient id="c115" gradientUnits="userSpaceOnUse" x1="620.7" y1="490.2" x2="742.3" y2="519.4"><stop offset="0.000" stop-color="#ffffff"/><stop offset="0.111" stop-color="#ffbcc7"/><stop offset="0.222" stop-color="#ff8fa5"/><stop offset="0.333" stop-color="#ff698b"/><stop offset="0.444" stop-color="#ff4177"/><stop offset="0.556" stop-color="#ff0065"/><stop offset="0.667" stop-color="#ff0055"/><stop offset="0.778" stop-color="#ff0046"/><stop offset="0.889" stop-color="#ff0036"/><stop offset="1.000" stop-color="#ff0023"/></linearGradient>
<linearGradient id="c116" gradientUnits="userSpaceOnUse" x1="620.7" y1="490.2" x2="752.3" y2="514.6"><stop offset="0.000" stop-color="#ffffff"/><stop offset="0.111" stop-color="#ffbac3"/><stop offset="0.222" stop-color="#ff8c9f"/><stop offset="0.333" stop-color="#ff6683"/><stop offset="0.444" stop-color="#ff3e6d"/><stop offset="0.556" stop-color="#ff0059"/><stop offset="0.667" stop-color="#ff0047"/><stop offset="0.778" stop-color="#ff0032"/><stop offset="0.889" stop-color="#ff0017"/><stop offset="1.000" stop-color="#ff0000"/></linearGradient>
<linearGradient id="c117" gradientUnits="userSpaceOnUse" x1="620.7" y1="490.2" x2="756.5" y2="508.1"><stop offset="0.000" stop-color="#ffffff"/><stop offset="0.111" stop-color="#ffbbc1"/><stop offset="0.222" stop-color="#ff8e9b"/><stop offset="0.333" stop-color="#ff697f"/><stop offset="0.444" stop-color="#ff4467"/><stop offset="0.556" stop-color="#ff0251"/><stop offset="0.667" stop-color="#ff003a"/><stop offset="0.778" stop-color="#ff001e"/><stop offset="0.889" stop-color="#ff0000"/><stop offset="1.000" stop-color="#ff0000"/></linearGradient>
<linearGradient id="c118" gradientUnits="userSpaceOnUse" x1="620.7" y1="490.2" x2="748.8" y2="500.3"><stop offset="0.000" stop-color="#ffffff"/><stop offset="0.111" stop-color="#ffc0c4"/><stop offset="0.222" stop-color="#ff969d"/><stop offset="0.333" stop-color="#ff7480"/><stop offset="0.444" stop-color="#ff5668"/><stop offset="0.556" stop-color="#ff3451"/><stop offset="0.667" stop-color="#ff003a"/><stop offset="0.778" stop-color="#ff0019"/><stop offset="0.889" stop-color="#ff0000"/><stop offset="1.000" stop-color="#ff0000"/></linearGradient>
<linearGradient id="c119" gradientUnits="userSpaceOnUse" x1="620.7" y1="490.2" x2="742.1" y2="493.4"><stop offset="0.000" stop-color="#ffffff"/><stop offset="0.111" stop-color="#ffc4c5"/><stop offset="0.222" stop-color="#ff9da0"/><stop offset="0.333" stop-color="#ff7e82"/><stop offset="0.444" stop-color="#ff6469"/><stop offset="0.556" stop-color="#ff4952"/><stop offset="0.667" stop-color="#ff2939"/><stop offset="0.778" stop-color="#ff0014"/><stop offset="0.889" stop-color="#ff0000"/><stop offset="1.000" stop-color="#ff0000"/></linearGradient>
</defs>
<rect width="1128" height="934" fill="#fff"/>
<text x="13.5" y="31" font-size="35" font-weight="normal" text-anchor="start" fill="#000">a</text>
<path d="M83.8 91.6C83.5 84 87 76 91.3 71.1C100 60.5 116 52 135.2 46.2C150 42.6 166 41.6 176 42.3C187 43.2 196 47 201.2 50.5L205.9 49.8L203 58L193.1 53.8L196.4 52.9C190 49.5 181 46.3 169.3 44.8C158 44.4 146 45.8 135.2 48.4C120 52.8 107 61 97 71.8C93 77 91.2 83 91 89.5Z" fill="url(#ag1)"/>
<text x="91.5" y="49.6" font-size="20.8" font-weight="bold" text-anchor="start" fill="#111" transform="rotate(-17.5 91.5 49.6)">“into”</text>
<g fill="none" stroke-linecap="round" stroke-linejoin="round"><path d="M21.3 106.4L28.4 101.0L47.9 102.0L64.7 110.0L59.4 115.2L38.1 113.5ZM64.7 110.0L76.2 108.5L92.2 111.7L102.0 117.0L96.6 122.3L75.4 120.6L59.4 115.2ZM102.0 117.0L124.1 116.1L141.0 123.2L135.6 128.5L113.5 127.7L96.6 122.3Z" stroke="#2f88e0" stroke-width="3.3"/><path d="M21.3 106.4L28.4 101.0L47.9 102.0L64.7 110.0L59.4 115.2L38.1 113.5ZM64.7 110.0L76.2 108.5L92.2 111.7L102.0 117.0L96.6 122.3L75.4 120.6L59.4 115.2ZM102.0 117.0L124.1 116.1L141.0 123.2L135.6 128.5L113.5 127.7L96.6 122.3Z" stroke="#3f9cec" stroke-width="2.57"/><path d="M21.3 106.4L28.4 101.0L47.9 102.0L64.7 110.0L59.4 115.2L38.1 113.5ZM64.7 110.0L76.2 108.5L92.2 111.7L102.0 117.0L96.6 122.3L75.4 120.6L59.4 115.2ZM102.0 117.0L124.1 116.1L141.0 123.2L135.6 128.5L113.5 127.7L96.6 122.3Z" stroke="#58acf4" stroke-width="0.99"/></g>
<g fill="none" stroke-linecap="butt" stroke-linejoin="round"><path d="M76.2 108.5L92.2 111.7" stroke="#9ad4e6" stroke-width="3.3"/><path d="M76.2 108.5L92.2 111.7" stroke="#b4e4f0" stroke-width="2.57"/><path d="M76.2 108.5L92.2 111.7" stroke="#e0f6fa" stroke-width="0.99"/></g>
<g fill="none" stroke-linecap="round" stroke-linejoin="round"><path d="M38.1 173.8L43.4 155.2L64.7 151.7L79.8 165.9L74.5 185.4L53.2 188.9ZM79.8 165.9L91.3 164.1L100.2 163.2L107.3 169.4L115.2 175.6L109.9 196.0L89.5 199.6L74.5 185.4ZM115.2 175.6L136.5 173.0L151.6 188.0L146.3 206.7L125.0 211.1L109.9 196.0Z" stroke="#2f88e0" stroke-width="3.8"/><path d="M38.1 173.8L43.4 155.2L64.7 151.7L79.8 165.9L74.5 185.4L53.2 188.9ZM79.8 165.9L91.3 164.1L100.2 163.2L107.3 169.4L115.2 175.6L109.9 196.0L89.5 199.6L74.5 185.4ZM115.2 175.6L136.5 173.0L151.6 188.0L146.3 206.7L125.0 211.1L109.9 196.0Z" stroke="#3f9cec" stroke-width="2.96"/><path d="M38.1 173.8L43.4 155.2L64.7 151.7L79.8 165.9L74.5 185.4L53.2 188.9ZM79.8 165.9L91.3 164.1L100.2 163.2L107.3 169.4L115.2 175.6L109.9 196.0L89.5 199.6L74.5 185.4ZM115.2 175.6L136.5 173.0L151.6 188.0L146.3 206.7L125.0 211.1L109.9 196.0Z" stroke="#58acf4" stroke-width="1.14"/></g>
<g fill="none" stroke-linecap="butt" stroke-linejoin="round"><path d="M91.3 164.1L100.2 163.2L107.3 169.4" stroke="#9ad4e6" stroke-width="3.8"/><path d="M91.3 164.1L100.2 163.2L107.3 169.4" stroke="#b4e4f0" stroke-width="2.96"/><path d="M91.3 164.1L100.2 163.2L107.3 169.4" stroke="#e0f6fa" stroke-width="1.14"/></g>
<text x="26.2" y="267" font-size="16.6" font-weight="bold" text-anchor="start" fill="#000">Acridine</text>
<text x="109.5" y="267" font-size="16.6" font-weight="bold" text-anchor="start" fill="#000">(Guest)</text>
<circle cx="55.5" cy="289" r="8.4" fill="url(#sC)"/>
<circle cx="92.5" cy="289" r="8.4" fill="url(#sN)"/>
<text x="69.5" y="295" font-size="15.5" font-weight="bold" text-anchor="start" fill="#000">C</text>
<text x="106.5" y="295" font-size="15.5" font-weight="bold" text-anchor="start" fill="#000">N</text>
<g fill="none" stroke-linecap="round" stroke-linejoin="round"><path d="M207.0 182.0L219.3 174.8L219.3 159.5L207.0 152.3L194.7 159.5L194.7 174.8ZM207.0 133.0L219.3 125.8L219.3 111.4L207.0 101.0L194.7 111.4L194.7 125.8ZM207.0 152.3L207.0 133.0" stroke="#808080" stroke-width="3.6"/><path d="M207.0 182.0L219.3 174.8L219.3 159.5L207.0 152.3L194.7 159.5L194.7 174.8ZM207.0 133.0L219.3 125.8L219.3 111.4L207.0 101.0L194.7 111.4L194.7 125.8ZM207.0 152.3L207.0 133.0" stroke="#a2a2a2" stroke-width="2.81"/><path d="M207.0 182.0L219.3 174.8L219.3 159.5L207.0 152.3L194.7 159.5L194.7 174.8ZM207.0 133.0L219.3 125.8L219.3 111.4L207.0 101.0L194.7 111.4L194.7 125.8ZM207.0 152.3L207.0 133.0" stroke="#c4c4c4" stroke-width="1.08"/></g><g fill="none" stroke-linecap="round" stroke-linejoin="round"><path d="M207.0 88.1L219.3 95.1L219.3 111.4L207.0 118.6L194.7 111.4L194.7 95.1ZM207.0 137.0L219.3 143.5L219.3 159.5L207.0 166.7L194.7 159.5L194.7 143.5ZM207.0 118.6L207.0 137.0" stroke="#808080" stroke-width="3.6"/><path d="M207.0 88.1L219.3 95.1L219.3 111.4L207.0 118.6L194.7 111.4L194.7 95.1ZM207.0 137.0L219.3 143.5L219.3 159.5L207.0 166.7L194.7 159.5L194.7 143.5ZM207.0 118.6L207.0 137.0" stroke="#a2a2a2" stroke-width="2.81"/><path d="M207.0 88.1L219.3 95.1L219.3 111.4L207.0 118.6L194.7 111.4L194.7 95.1ZM207.0 137.0L219.3 143.5L219.3 159.5L207.0 166.7L194.7 159.5L194.7 143.5ZM207.0 118.6L207.0 137.0" stroke="#c4c4c4" stroke-width="1.08"/></g><g fill="none" stroke-linecap="butt" stroke-linejoin="round"><path d="M207.0 81.7L207.0 88.1M207.0 88.1L213.5 91.8M207.0 88.1L200.5 91.8M207.0 188.4L207.0 182.0M207.0 182.0L213.5 178.3M207.0 182.0L200.5 178.3" stroke="#9a9aee" stroke-width="3.6"/><path d="M207.0 81.7L207.0 88.1M207.0 88.1L213.5 91.8M207.0 88.1L200.5 91.8M207.0 188.4L207.0 182.0M207.0 182.0L213.5 178.3M207.0 182.0L200.5 178.3" stroke="#aeaef6" stroke-width="2.81"/><path d="M207.0 81.7L207.0 88.1M207.0 88.1L213.5 91.8M207.0 88.1L200.5 91.8M207.0 188.4L207.0 182.0M207.0 182.0L213.5 178.3M207.0 182.0L200.5 178.3" stroke="#d4d4fc" stroke-width="1.08"/></g><g fill="none" stroke-linecap="butt" stroke-linejoin="round"><path d="M207.0 71.8L207.0 81.7M207.0 188.4L207.0 198.1" stroke="#ee9766" stroke-width="3.6"/><path d="M207.0 71.8L207.0 81.7M207.0 188.4L207.0 198.1" stroke="#f6aa7c" stroke-width="2.81"/><path d="M207.0 71.8L207.0 81.7M207.0 188.4L207.0 198.1" stroke="#fcd0b4" stroke-width="1.08"/></g>
<g fill="none" stroke-linecap="round" stroke-linejoin="round"><path d="M334.3 182.0L346.6 174.8L346.6 159.5L334.3 152.3L322.0 159.5L322.0 174.8ZM334.3 133.0L346.6 125.8L346.6 111.4L334.3 101.0L322.0 111.4L322.0 125.8ZM334.3 152.3L334.3 133.0" stroke="#808080" stroke-width="3.6"/><path d="M334.3 182.0L346.6 174.8L346.6 159.5L334.3 152.3L322.0 159.5L322.0 174.8ZM334.3 133.0L346.6 125.8L346.6 111.4L334.3 101.0L322.0 111.4L322.0 125.8ZM334.3 152.3L334.3 133.0" stroke="#a2a2a2" stroke-width="2.81"/><path d="M334.3 182.0L346.6 174.8L346.6 159.5L334.3 152.3L322.0 159.5L322.0 174.8ZM334.3 133.0L346.6 125.8L346.6 111.4L334.3 101.0L322.0 111.4L322.0 125.8ZM334.3 152.3L334.3 133.0" stroke="#c4c4c4" stroke-width="1.08"/></g><g fill="none" stroke-linecap="round" stroke-linejoin="round"><path d="M334.3 88.1L346.6 95.1L346.6 111.4L334.3 118.6L322.0 111.4L322.0 95.1ZM334.3 137.0L346.6 143.5L346.6 159.5L334.3 166.7L322.0 159.5L322.0 143.5ZM334.3 118.6L334.3 137.0" stroke="#808080" stroke-width="3.6"/><path d="M334.3 88.1L346.6 95.1L346.6 111.4L334.3 118.6L322.0 111.4L322.0 95.1ZM334.3 137.0L346.6 143.5L346.6 159.5L334.3 166.7L322.0 159.5L322.0 143.5ZM334.3 118.6L334.3 137.0" stroke="#a2a2a2" stroke-width="2.81"/><path d="M334.3 88.1L346.6 95.1L346.6 111.4L334.3 118.6L322.0 111.4L322.0 95.1ZM334.3 137.0L346.6 143.5L346.6 159.5L334.3 166.7L322.0 159.5L322.0 143.5ZM334.3 118.6L334.3 137.0" stroke="#c4c4c4" stroke-width="1.08"/></g><g fill="none" stroke-linecap="butt" stroke-linejoin="round"><path d="M334.3 81.7L334.3 88.1M334.3 88.1L340.8 91.8M334.3 88.1L327.8 91.8M334.3 188.4L334.3 182.0M334.3 182.0L340.8 178.3M334.3 182.0L327.8 178.3" stroke="#9a9aee" stroke-width="3.6"/><path d="M334.3 81.7L334.3 88.1M334.3 88.1L340.8 91.8M334.3 88.1L327.8 91.8M334.3 188.4L334.3 182.0M334.3 182.0L340.8 178.3M334.3 182.0L327.8 178.3" stroke="#aeaef6" stroke-width="2.81"/><path d="M334.3 81.7L334.3 88.1M334.3 88.1L340.8 91.8M334.3 88.1L327.8 91.8M334.3 188.4L334.3 182.0M334.3 182.0L340.8 178.3M334.3 182.0L327.8 178.3" stroke="#d4d4fc" stroke-width="1.08"/></g><g fill="none" stroke-linecap="butt" stroke-linejoin="round"><path d="M334.3 71.8L334.3 81.7M334.3 188.4L334.3 198.1" stroke="#ee9766" stroke-width="3.6"/><path d="M334.3 71.8L334.3 81.7M334.3 188.4L334.3 198.1" stroke="#f6aa7c" stroke-width="2.81"/><path d="M334.3 71.8L334.3 81.7M334.3 188.4L334.3 198.1" stroke="#fcd0b4" stroke-width="1.08"/></g>
<g fill="none" stroke-linecap="round" stroke-linejoin="round"><path d="M239.4 32.3L247.0 38.1L245.2 59.4L237.6 65.2L232.0 54.1L233.2 38.1ZM247.0 41.7L251.0 39.2M232.0 55.0L227.2 57.5" stroke="#808080" stroke-width="3.5"/><path d="M239.4 32.3L247.0 38.1L245.2 59.4L237.6 65.2L232.0 54.1L233.2 38.1ZM247.0 41.7L251.0 39.2M232.0 55.0L227.2 57.5" stroke="#a2a2a2" stroke-width="2.73"/><path d="M239.4 32.3L247.0 38.1L245.2 59.4L237.6 65.2L232.0 54.1L233.2 38.1ZM247.0 41.7L251.0 39.2M232.0 55.0L227.2 57.5" stroke="#c4c4c4" stroke-width="1.05"/></g><g fill="none" stroke-linecap="butt" stroke-linejoin="round"><path d="M251.0 39.2L257.1 35.5M227.2 57.5L219.9 61.2" stroke="#8f3ad8" stroke-width="3.9200000000000004"/><path d="M251.0 39.2L257.1 35.5M227.2 57.5L219.9 61.2" stroke="#a050e4" stroke-width="3.06"/><path d="M251.0 39.2L257.1 35.5M227.2 57.5L219.9 61.2" stroke="#b274ee" stroke-width="1.18"/></g>
<g fill="none" stroke-linecap="round" stroke-linejoin="round"><path d="M301.5 32.3L308.5 38.1L310.3 53.2L304.1 65.2L296.1 59.4L295.2 41.7ZM295.2 41.7L290.6 39.1M310.3 53.2L314.9 56.4" stroke="#808080" stroke-width="3.5"/><path d="M301.5 32.3L308.5 38.1L310.3 53.2L304.1 65.2L296.1 59.4L295.2 41.7ZM295.2 41.7L290.6 39.1M310.3 53.2L314.9 56.4" stroke="#a2a2a2" stroke-width="2.73"/><path d="M301.5 32.3L308.5 38.1L310.3 53.2L304.1 65.2L296.1 59.4L295.2 41.7ZM295.2 41.7L290.6 39.1M310.3 53.2L314.9 56.4" stroke="#c4c4c4" stroke-width="1.05"/></g><g fill="none" stroke-linecap="butt" stroke-linejoin="round"><path d="M290.6 39.1L283.7 35.1M314.9 56.4L321.8 61.2" stroke="#8f3ad8" stroke-width="3.9200000000000004"/><path d="M290.6 39.1L283.7 35.1M314.9 56.4L321.8 61.2" stroke="#a050e4" stroke-width="3.06"/><path d="M290.6 39.1L283.7 35.1M314.9 56.4L321.8 61.2" stroke="#b274ee" stroke-width="1.18"/></g>
<g fill="none" stroke-linecap="round" stroke-linejoin="round"><path d="M238.5 205.0L245.6 211.2L247.0 227.1L240.3 236.9L233.2 230.7L231.4 215.6ZM231.4 215.6L226.8 212.0M247.0 227.1L251.0 229.9" stroke="#808080" stroke-width="3.5"/><path d="M238.5 205.0L245.6 211.2L247.0 227.1L240.3 236.9L233.2 230.7L231.4 215.6ZM231.4 215.6L226.8 212.0M247.0 227.1L251.0 229.9" stroke="#a2a2a2" stroke-width="2.73"/><path d="M238.5 205.0L245.6 211.2L247.0 227.1L240.3 236.9L233.2 230.7L231.4 215.6ZM231.4 215.6L226.8 212.0M247.0 227.1L251.0 229.9" stroke="#c4c4c4" stroke-width="1.05"/></g><g fill="none" stroke-linecap="butt" stroke-linejoin="round"><path d="M226.8 212.0L219.9 206.7M251.0 229.9L257.1 234.2" stroke="#8f3ad8" stroke-width="3.9200000000000004"/><path d="M226.8 212.0L219.9 206.7M251.0 229.9L257.1 234.2" stroke="#a050e4" stroke-width="3.06"/><path d="M226.8 212.0L219.9 206.7M251.0 229.9L257.1 234.2" stroke="#b274ee" stroke-width="1.18"/></g>
<g fill="none" stroke-linecap="round" stroke-linejoin="round"><path d="M302.3 205.0L310.9 215.6L308.5 230.7L301.5 236.5L295.2 227.1L296.1 211.2ZM310.9 215.6L314.9 212.4M295.2 227.1L291.0 229.6" stroke="#808080" stroke-width="3.5"/><path d="M302.3 205.0L310.9 215.6L308.5 230.7L301.5 236.5L295.2 227.1L296.1 211.2ZM310.9 215.6L314.9 212.4M295.2 227.1L291.0 229.6" stroke="#a2a2a2" stroke-width="2.73"/><path d="M302.3 205.0L310.9 215.6L308.5 230.7L301.5 236.5L295.2 227.1L296.1 211.2ZM310.9 215.6L314.9 212.4M295.2 227.1L291.0 229.6" stroke="#c4c4c4" stroke-width="1.05"/></g><g fill="none" stroke-linecap="butt" stroke-linejoin="round"><path d="M314.9 212.4L321.0 207.6M291.0 229.6L284.6 233.3" stroke="#8f3ad8" stroke-width="3.9200000000000004"/><path d="M314.9 212.4L321.0 207.6M291.0 229.6L284.6 233.3" stroke="#a050e4" stroke-width="3.06"/><path d="M314.9 212.4L321.0 207.6M291.0 229.6L284.6 233.3" stroke="#b274ee" stroke-width="1.18"/></g>
<polygon points="270.4,70 309,89 309,176.3 270.4,195.7 232.3,176.3 232.3,89" fill="none" stroke="#111" stroke-width="2.3" stroke-dasharray="6.5 3.2"/>
<text x="271" y="117.3" font-size="22.3" font-weight="bold" text-anchor="middle" fill="#000">nano</text>
<text x="269.2" y="152.6" font-size="22.3" font-weight="bold" text-anchor="middle" fill="#000">pore</text>
<text x="220" y="267" font-size="16.6" font-weight="bold" text-anchor="start" fill="#000">3D-XOF</text>
<text x="294.5" y="267" font-size="16.6" font-weight="bold" text-anchor="start" fill="#000">(Host)</text>
<circle cx="209.3" cy="290" r="8.4" fill="url(#sI)"/>
<circle cx="246.5" cy="290" r="8.4" fill="url(#sO)"/>
<circle cx="284.6" cy="290" r="8.4" fill="url(#sN2)"/>
<circle cx="321.8" cy="290" r="8.4" fill="url(#sC2)"/>
<text x="224.3" y="295.7" font-size="15.5" font-weight="bold" text-anchor="start" fill="#000">I</text>
<text x="259.3" y="295.7" font-size="15.5" font-weight="bold" text-anchor="start" fill="#000">O</text>
<text x="297.3" y="295.7" font-size="15.5" font-weight="bold" text-anchor="start" fill="#000">N</text>
<text x="338.3" y="295.7" font-size="15.5" font-weight="bold" text-anchor="start" fill="#000">C</text>
<circle cx="328" cy="201.4" r="11.5" fill="none" stroke="#111" stroke-width="1.5" stroke-dasharray="4 2.4"/>
<path d="M334.3 190.6L412.5 193.8M320.2 209.6L386.8 256.4" stroke="#222" stroke-width="1.2" fill="none"/>
<ellipse cx="414.8" cy="231.7" rx="39.1" ry="37.6" fill="#fff" stroke="#111" stroke-width="1.9" stroke-dasharray="6.5 3.2"/>
<path d="M406.4 197.2L418.8 205L431.2 197.2L427 195.4L418.8 200.4L410.6 195.4ZM415.8 202H421.8V213.6H415.8Z" fill="#a9a9f5"/>
<path d="M415.8 213.6H421.8V227.2Q418.8 229.4 415.8 227.2Z" fill="#f4a070"/>
<path d="M417.6 229.4L399.6 242.2" stroke="#111" stroke-width="2.7" stroke-dasharray="2.5 2.1" fill="none"/>
<path d="M398.6 241.2L388.6 248.2L391.4 252.8L401.6 245.8Z" fill="#a050e4"/><path d="M388.6 248.2L383.4 251.6L386.2 256.2L391.4 252.8Z" fill="#9a9a9a"/>
<text x="451.5" y="268.4" font-size="15.6" font-weight="bold" text-anchor="start" fill="#000" textLength="76.8" lengthAdjust="spacingAndGlyphs">C-I···O-N<tspan font-size="11" dy="-6">+</tspan></text>
<text x="428.2" y="288.7" font-size="15.6" font-weight="bold" text-anchor="start" fill="#000" textLength="128" lengthAdjust="spacingAndGlyphs">(Halogen bond)</text>
<g fill="none" stroke-linecap="round" stroke-linejoin="round"><path d="M400.1 78.2L408.1 66.3L422.3 66.3L429.4 78.2L422.3 90.6L408.1 90.6ZM444.5 78.2L451.6 66.3L465.7 66.3L473.7 78.2L465.7 90.6L451.6 90.6ZM429.4 78.2L444.5 78.2" stroke="#808080" stroke-width="2.6"/><path d="M400.1 78.2L408.1 66.3L422.3 66.3L429.4 78.2L422.3 90.6L408.1 90.6ZM444.5 78.2L451.6 66.3L465.7 66.3L473.7 78.2L465.7 90.6L451.6 90.6ZM429.4 78.2L444.5 78.2" stroke="#a2a2a2" stroke-width="2.03"/><path d="M400.1 78.2L408.1 66.3L422.3 66.3L429.4 78.2L422.3 90.6L408.1 90.6ZM444.5 78.2L451.6 66.3L465.7 66.3L473.7 78.2L465.7 90.6L451.6 90.6ZM429.4 78.2L444.5 78.2" stroke="#c4c4c4" stroke-width="0.78"/></g>
<g fill="none" stroke-linecap="butt" stroke-linejoin="round"><path d="M469.2 72L473.7 78.2L469.2 84.6M473.7 78.2H479" stroke="#9a9aee" stroke-width="2.6"/><path d="M469.2 72L473.7 78.2L469.2 84.6M473.7 78.2H479" stroke="#aeaef6" stroke-width="2.03"/><path d="M469.2 72L473.7 78.2L469.2 84.6M473.7 78.2H479" stroke="#d4d4fc" stroke-width="0.78"/></g>
<g fill="none" stroke-linecap="butt" stroke-linejoin="round"><path d="M479 78.2H486.6" stroke="#ee9766" stroke-width="2.6"/><path d="M479 78.2H486.6" stroke="#f6aa7c" stroke-width="2.03"/><path d="M479 78.2H486.6" stroke="#fcd0b4" stroke-width="0.78"/></g>
<text x="500.2" y="83.3" font-size="11.6" font-weight="bold" text-anchor="start" fill="#111">PPNO</text>
<polygon points="383.8,114.8 530.5,114.8 554.4,128.2 530.5,141.7 383.8,141.7 408.1,128.2" fill="#b2b2b2"/>
<text x="470" y="133" font-size="20.6" font-weight="bold" text-anchor="middle" fill="#0a0a0a">encapsulate</text>
<g fill="none" stroke-linecap="round" stroke-linejoin="round"><path d="M426.4 174.8L433.5 162.8L447.1 162.8L454.8 174.8L447.1 186.3L433.5 186.3ZM426.4 174.8H416.5M454.8 174.8H465.7" stroke="#808080" stroke-width="2.6"/><path d="M426.4 174.8L433.5 162.8L447.1 162.8L454.8 174.8L447.1 186.3L433.5 186.3ZM426.4 174.8H416.5M454.8 174.8H465.7" stroke="#a2a2a2" stroke-width="2.03"/><path d="M426.4 174.8L433.5 162.8L447.1 162.8L454.8 174.8L447.1 186.3L433.5 186.3ZM426.4 174.8H416.5M454.8 174.8H465.7" stroke="#c4c4c4" stroke-width="0.78"/></g>
<g fill="none" stroke-linecap="butt" stroke-linejoin="round"><path d="M404.6 174.8H416.5M465.7 174.8H476.7" stroke="#8f3ad8" stroke-width="2.6"/><path d="M404.6 174.8H416.5M465.7 174.8H476.7" stroke="#a050e4" stroke-width="2.03"/><path d="M404.6 174.8H416.5M465.7 174.8H476.7" stroke="#b274ee" stroke-width="0.78"/></g>
<text x="490.6" y="179.3" font-size="11.2" font-weight="bold" text-anchor="start" fill="#111">1,4-DITFB</text>
<g fill="none" stroke-linecap="round" stroke-linejoin="round"><path d="M602.3 206.2L616.9 197.6L616.9 179.5L602.3 171.0L587.7 179.5L587.7 197.6ZM602.3 148.1L616.9 139.6L616.9 122.5L602.3 110.2L587.7 122.5L587.7 139.6ZM602.3 171.0L602.3 148.1" stroke="#808080" stroke-width="4.194198842717905"/><path d="M602.3 206.2L616.9 197.6L616.9 179.5L602.3 171.0L587.7 179.5L587.7 197.6ZM602.3 148.1L616.9 139.6L616.9 122.5L602.3 110.2L587.7 122.5L587.7 139.6ZM602.3 171.0L602.3 148.1" stroke="#a2a2a2" stroke-width="3.27"/><path d="M602.3 206.2L616.9 197.6L616.9 179.5L602.3 171.0L587.7 179.5L587.7 197.6ZM602.3 148.1L616.9 139.6L616.9 122.5L602.3 110.2L587.7 122.5L587.7 139.6ZM602.3 171.0L602.3 148.1" stroke="#c4c4c4" stroke-width="1.26"/></g><g fill="none" stroke-linecap="round" stroke-linejoin="round"><path d="M602.3 94.9L616.9 103.2L616.9 122.5L602.3 131.0L587.7 122.5L587.7 103.2ZM602.3 152.8L616.9 160.5L616.9 179.5L602.3 188.0L587.7 179.5L587.7 160.5ZM602.3 131.0L602.3 152.8" stroke="#808080" stroke-width="4.194198842717905"/><path d="M602.3 94.9L616.9 103.2L616.9 122.5L602.3 131.0L587.7 122.5L587.7 103.2ZM602.3 152.8L616.9 160.5L616.9 179.5L602.3 188.0L587.7 179.5L587.7 160.5ZM602.3 131.0L602.3 152.8" stroke="#a2a2a2" stroke-width="3.27"/><path d="M602.3 94.9L616.9 103.2L616.9 122.5L602.3 131.0L587.7 122.5L587.7 103.2ZM602.3 152.8L616.9 160.5L616.9 179.5L602.3 188.0L587.7 179.5L587.7 160.5ZM602.3 131.0L602.3 152.8" stroke="#c4c4c4" stroke-width="1.26"/></g><g fill="none" stroke-linecap="butt" stroke-linejoin="round"><path d="M602.3 87.3L602.3 94.9M602.3 94.9L610.0 99.3M602.3 94.9L594.6 99.3M602.3 213.8L602.3 206.2M602.3 206.2L610.0 201.8M602.3 206.2L594.6 201.8" stroke="#9a9aee" stroke-width="4.194198842717905"/><path d="M602.3 87.3L602.3 94.9M602.3 94.9L610.0 99.3M602.3 94.9L594.6 99.3M602.3 213.8L602.3 206.2M602.3 206.2L610.0 201.8M602.3 206.2L594.6 201.8" stroke="#aeaef6" stroke-width="3.27"/><path d="M602.3 87.3L602.3 94.9M602.3 94.9L610.0 99.3M602.3 94.9L594.6 99.3M602.3 213.8L602.3 206.2M602.3 206.2L610.0 201.8M602.3 206.2L594.6 201.8" stroke="#d4d4fc" stroke-width="1.26"/></g><g fill="none" stroke-linecap="butt" stroke-linejoin="round"><path d="M602.3 75.6L602.3 87.3M602.3 213.8L602.3 225.2" stroke="#ee9766" stroke-width="4.194198842717905"/><path d="M602.3 75.6L602.3 87.3M602.3 213.8L602.3 225.2" stroke="#f6aa7c" stroke-width="3.27"/><path d="M602.3 75.6L602.3 87.3M602.3 213.8L602.3 225.2" stroke="#fcd0b4" stroke-width="1.26"/></g>
<g fill="none" stroke-linecap="round" stroke-linejoin="round"><path d="M752.3 206.2L766.9 197.6L766.9 179.5L752.3 171.0L737.7 179.5L737.7 197.6ZM752.3 148.1L766.9 139.6L766.9 122.5L752.3 110.2L737.7 122.5L737.7 139.6ZM752.3 171.0L752.3 148.1" stroke="#808080" stroke-width="4.194198842717905"/><path d="M752.3 206.2L766.9 197.6L766.9 179.5L752.3 171.0L737.7 179.5L737.7 197.6ZM752.3 148.1L766.9 139.6L766.9 122.5L752.3 110.2L737.7 122.5L737.7 139.6ZM752.3 171.0L752.3 148.1" stroke="#a2a2a2" stroke-width="3.27"/><path d="M752.3 206.2L766.9 197.6L766.9 179.5L752.3 171.0L737.7 179.5L737.7 197.6ZM752.3 148.1L766.9 139.6L766.9 122.5L752.3 110.2L737.7 122.5L737.7 139.6ZM752.3 171.0L752.3 148.1" stroke="#c4c4c4" stroke-width="1.26"/></g><g fill="none" stroke-linecap="round" stroke-linejoin="round"><path d="M752.3 94.9L766.9 103.2L766.9 122.5L752.3 131.0L737.7 122.5L737.7 103.2ZM752.3 152.8L766.9 160.5L766.9 179.5L752.3 188.0L737.7 179.5L737.7 160.5ZM752.3 131.0L752.3 152.8" stroke="#808080" stroke-width="4.194198842717905"/><path d="M752.3 94.9L766.9 103.2L766.9 122.5L752.3 131.0L737.7 122.5L737.7 103.2ZM752.3 152.8L766.9 160.5L766.9 179.5L752.3 188.0L737.7 179.5L737.7 160.5ZM752.3 131.0L752.3 152.8" stroke="#a2a2a2" stroke-width="3.27"/><path d="M752.3 94.9L766.9 103.2L766.9 122.5L752.3 131.0L737.7 122.5L737.7 103.2ZM752.3 152.8L766.9 160.5L766.9 179.5L752.3 188.0L737.7 179.5L737.7 160.5ZM752.3 131.0L752.3 152.8" stroke="#c4c4c4" stroke-width="1.26"/></g><g fill="none" stroke-linecap="butt" stroke-linejoin="round"><path d="M752.3 87.3L752.3 94.9M752.3 94.9L760.0 99.3M752.3 94.9L744.6 99.3M752.3 213.8L752.3 206.2M752.3 206.2L760.0 201.8M752.3 206.2L744.6 201.8" stroke="#9a9aee" stroke-width="4.194198842717905"/><path d="M752.3 87.3L752.3 94.9M752.3 94.9L760.0 99.3M752.3 94.9L744.6 99.3M752.3 213.8L752.3 206.2M752.3 206.2L760.0 201.8M752.3 206.2L744.6 201.8" stroke="#aeaef6" stroke-width="3.27"/><path d="M752.3 87.3L752.3 94.9M752.3 94.9L760.0 99.3M752.3 94.9L744.6 99.3M752.3 213.8L752.3 206.2M752.3 206.2L760.0 201.8M752.3 206.2L744.6 201.8" stroke="#d4d4fc" stroke-width="1.26"/></g><g fill="none" stroke-linecap="butt" stroke-linejoin="round"><path d="M752.3 75.6L752.3 87.3M752.3 213.8L752.3 225.2" stroke="#ee9766" stroke-width="4.194198842717905"/><path d="M752.3 75.6L752.3 87.3M752.3 213.8L752.3 225.2" stroke="#f6aa7c" stroke-width="3.27"/><path d="M752.3 75.6L752.3 87.3M752.3 213.8L752.3 225.2" stroke="#fcd0b4" stroke-width="1.26"/></g>
<g fill="none" stroke-linecap="round" stroke-linejoin="round"><path d="M640.9 30.1L648.0 41.7L646.6 61.2L638.3 67.4L632.1 55.0L632.4 36.3ZM648.0 41.7L653.5 38.3M632.1 55.9L626.4 59.1" stroke="#808080" stroke-width="4.0"/><path d="M640.9 30.1L648.0 41.7L646.6 61.2L638.3 67.4L632.1 55.0L632.4 36.3ZM648.0 41.7L653.5 38.3M632.1 55.9L626.4 59.1" stroke="#a2a2a2" stroke-width="3.12"/><path d="M640.9 30.1L648.0 41.7L646.6 61.2L638.3 67.4L632.1 55.0L632.4 36.3ZM648.0 41.7L653.5 38.3M632.1 55.9L626.4 59.1" stroke="#c4c4c4" stroke-width="1.20"/></g><g fill="none" stroke-linecap="butt" stroke-linejoin="round"><path d="M653.5 38.3L661.8 33.3M626.4 59.1L617.9 63.8" stroke="#8f3ad8" stroke-width="4.48"/><path d="M653.5 38.3L661.8 33.3M626.4 59.1L617.9 63.8" stroke="#a050e4" stroke-width="3.49"/><path d="M653.5 38.3L661.8 33.3M626.4 59.1L617.9 63.8" stroke="#b274ee" stroke-width="1.34"/></g>
<g fill="none" stroke-linecap="round" stroke-linejoin="round"><path d="M713.6 30.1L722.1 36.9L722.8 55.0L716.8 67.4L708.7 61.2L706.5 42.2ZM706.5 42.2L701.0 38.6M722.8 55.0L728.4 58.5" stroke="#808080" stroke-width="4.0"/><path d="M713.6 30.1L722.1 36.9L722.8 55.0L716.8 67.4L708.7 61.2L706.5 42.2ZM706.5 42.2L701.0 38.6M722.8 55.0L728.4 58.5" stroke="#a2a2a2" stroke-width="3.12"/><path d="M713.6 30.1L722.1 36.9L722.8 55.0L716.8 67.4L708.7 61.2L706.5 42.2ZM706.5 42.2L701.0 38.6M722.8 55.0L728.4 58.5" stroke="#c4c4c4" stroke-width="1.20"/></g><g fill="none" stroke-linecap="butt" stroke-linejoin="round"><path d="M701.0 38.6L692.7 33.3M728.4 58.5L736.7 63.8" stroke="#8f3ad8" stroke-width="4.48"/><path d="M701.0 38.6L692.7 33.3M728.4 58.5L736.7 63.8" stroke="#a050e4" stroke-width="3.49"/><path d="M701.0 38.6L692.7 33.3M728.4 58.5L736.7 63.8" stroke="#b274ee" stroke-width="1.34"/></g>
<g fill="none" stroke-linecap="round" stroke-linejoin="round"><path d="M639.1 232.8L646.6 239.0L648.0 258.5L641.8 271.0L633.5 263.9L631.7 245.2ZM631.7 245.2L626.0 241.7M648.0 258.5L653.5 261.9" stroke="#808080" stroke-width="4.0"/><path d="M639.1 232.8L646.6 239.0L648.0 258.5L641.8 271.0L633.5 263.9L631.7 245.2ZM631.7 245.2L626.0 241.7M648.0 258.5L653.5 261.9" stroke="#a2a2a2" stroke-width="3.12"/><path d="M639.1 232.8L646.6 239.0L648.0 258.5L641.8 271.0L633.5 263.9L631.7 245.2ZM631.7 245.2L626.0 241.7M648.0 258.5L653.5 261.9" stroke="#c4c4c4" stroke-width="1.20"/></g><g fill="none" stroke-linecap="butt" stroke-linejoin="round"><path d="M626.0 241.7L617.5 236.4M653.5 261.9L661.8 266.9" stroke="#8f3ad8" stroke-width="4.48"/><path d="M626.0 241.7L617.5 236.4M653.5 261.9L661.8 266.9" stroke="#a050e4" stroke-width="3.49"/><path d="M626.0 241.7L617.5 236.4M653.5 261.9L661.8 266.9" stroke="#b274ee" stroke-width="1.34"/></g>
<g fill="none" stroke-linecap="round" stroke-linejoin="round"><path d="M716.3 232.8L722.8 245.2L721.6 263.9L713.6 271.0L706.9 258.5L707.9 239.0ZM722.8 245.2L728.4 241.7M706.9 258.5L701.2 261.9" stroke="#808080" stroke-width="4.0"/><path d="M716.3 232.8L722.8 245.2L721.6 263.9L713.6 271.0L706.9 258.5L707.9 239.0ZM722.8 245.2L728.4 241.7M706.9 258.5L701.2 261.9" stroke="#a2a2a2" stroke-width="3.12"/><path d="M716.3 232.8L722.8 245.2L721.6 263.9L713.6 271.0L706.9 258.5L707.9 239.0ZM722.8 245.2L728.4 241.7M706.9 258.5L701.2 261.9" stroke="#c4c4c4" stroke-width="1.20"/></g><g fill="none" stroke-linecap="butt" stroke-linejoin="round"><path d="M728.4 241.7L736.7 236.4M701.2 261.9L692.7 266.9" stroke="#8f3ad8" stroke-width="4.48"/><path d="M728.4 241.7L736.7 236.4M701.2 261.9L692.7 266.9" stroke="#a050e4" stroke-width="3.49"/><path d="M728.4 241.7L736.7 236.4M701.2 261.9L692.7 266.9" stroke="#b274ee" stroke-width="1.34"/></g>
<polygon points="677.3,70 722.8,92.2 722.8,206.2 677.3,229.3 632.9,206.2 632.9,92.2" fill="none" stroke="#111" stroke-width="2.3" stroke-dasharray="6.5 3.2"/>
<g fill="none" stroke-linecap="round" stroke-linejoin="round"><path d="M669.3 86.3L686.1 86.3L694.1 102.2L686.1 118.2L669.3 118.2L660.8 102.2ZM669.3 118.2L686.1 118.2L694.1 134.2L686.1 150.1L669.3 150.1L660.8 134.2ZM669.3 150.1L686.1 150.1L694.1 166.1L686.1 182.2L669.3 182.2L660.8 166.1ZM669.3 182.2L686.1 182.2L694.1 198.2L686.1 214.2L669.3 214.2L660.8 198.2Z" stroke="#2f88e0" stroke-width="3.9"/><path d="M669.3 86.3L686.1 86.3L694.1 102.2L686.1 118.2L669.3 118.2L660.8 102.2ZM669.3 118.2L686.1 118.2L694.1 134.2L686.1 150.1L669.3 150.1L660.8 134.2ZM669.3 150.1L686.1 150.1L694.1 166.1L686.1 182.2L669.3 182.2L660.8 166.1ZM669.3 182.2L686.1 182.2L694.1 198.2L686.1 214.2L669.3 214.2L660.8 198.2Z" stroke="#3f9cec" stroke-width="3.04"/><path d="M669.3 86.3L686.1 86.3L694.1 102.2L686.1 118.2L669.3 118.2L660.8 102.2ZM669.3 118.2L686.1 118.2L694.1 134.2L686.1 150.1L669.3 150.1L660.8 134.2ZM669.3 150.1L686.1 150.1L694.1 166.1L686.1 182.2L669.3 182.2L660.8 166.1ZM669.3 182.2L686.1 182.2L694.1 198.2L686.1 214.2L669.3 214.2L660.8 198.2Z" stroke="#58acf4" stroke-width="1.17"/></g>
<g fill="none" stroke-linecap="butt" stroke-linejoin="round"><path d="M690.2 158.3L694.1 166.2L690.2 174.2" stroke="#9ad4e6" stroke-width="3.9"/><path d="M690.2 158.3L694.1 166.2L690.2 174.2" stroke="#b4e4f0" stroke-width="3.04"/><path d="M690.2 158.3L694.1 166.2L690.2 174.2" stroke="#e0f6fa" stroke-width="1.17"/></g>
<text x="640" y="304.8" font-size="16.8" font-weight="bold" text-anchor="start" fill="#000">XOF@AD</text>
<polygon points="921.5,26 1029,6.5 1106.4,82.5 1043.2,293 935.5,314 856.2,237.2" fill="none" stroke="#111" stroke-width="2" stroke-dasharray="6 3"/>
<path d="M728.9 212.2C729.6 224 733.5 238 746 250.5C761 264 790 271 826.8 273C848 272.6 867 266 883 258.5L901.9 257L892.1 243.4L871.6 252.2L875 254.6C864 262.5 848 269 826.8 271.2C795 270 772 264 758.5 252.2C745.5 241 738 228 736.1 213.2Z" fill="url(#ag2)" fill-opacity="0.92"/>
<text x="743.2" y="282.4" font-size="18.9" font-weight="bold" text-anchor="start" fill="#111" transform="rotate(11.5 743.2 282.4)">“Stacking”</text>
<g fill="none" stroke-linecap="round" stroke-linejoin="round"><path d="M979.9 133.3L1008.2 132.0L1018.8 154.7L997.9 185.5L968.8 188.2L960.2 166.0ZM968.8 188.2L997.9 185.5L1005.8 206.5L985.0 234.3L956.5 239.2L948.1 217.8ZM956.5 239.2L985.0 234.3L992.9 257.7L972.5 287.3L943.6 292.2L935.5 270.0Z" stroke="#2f88e0" stroke-width="6.5"/><path d="M979.9 133.3L1008.2 132.0L1018.8 154.7L997.9 185.5L968.8 188.2L960.2 166.0ZM968.8 188.2L997.9 185.5L1005.8 206.5L985.0 234.3L956.5 239.2L948.1 217.8ZM956.5 239.2L985.0 234.3L992.9 257.7L972.5 287.3L943.6 292.2L935.5 270.0Z" stroke="#3f9cec" stroke-width="5.07"/><path d="M979.9 133.3L1008.2 132.0L1018.8 154.7L997.9 185.5L968.8 188.2L960.2 166.0ZM968.8 188.2L997.9 185.5L1005.8 206.5L985.0 234.3L956.5 239.2L948.1 217.8ZM956.5 239.2L985.0 234.3L992.9 257.7L972.5 287.3L943.6 292.2L935.5 270.0Z" stroke="#58acf4" stroke-width="1.95"/></g>
<g fill="none" stroke-linecap="butt" stroke-linejoin="round"><path d="M1001.8 196.0L1005.8 206.5M1005.8 206.5L996.4 219.0" stroke="#9ad4e6" stroke-width="6.5"/><path d="M1001.8 196.0L1005.8 206.5M1005.8 206.5L996.4 219.0" stroke="#b4e4f0" stroke-width="5.07"/><path d="M1001.8 196.0L1005.8 206.5M1005.8 206.5L996.4 219.0" stroke="#e0f6fa" stroke-width="1.95"/></g>
<g fill="none" stroke-linecap="round" stroke-linejoin="round"><path d="M976.0 34.9L1005.5 30.2L1013.5 53.0L993.2 83.8L963.8 87.5L956.8 63.5ZM963.8 87.5L993.2 83.8L1000.8 104.7L980.6 132.0L951.5 137.0L943.6 116.0ZM951.5 137.0L980.6 132.0L988.5 156.7L968.3 186.2L939.9 189.9L931.3 167.0Z" stroke="#2f88e0" stroke-width="6.5"/><path d="M976.0 34.9L1005.5 30.2L1013.5 53.0L993.2 83.8L963.8 87.5L956.8 63.5ZM963.8 87.5L993.2 83.8L1000.8 104.7L980.6 132.0L951.5 137.0L943.6 116.0ZM951.5 137.0L980.6 132.0L988.5 156.7L968.3 186.2L939.9 189.9L931.3 167.0Z" stroke="#3f9cec" stroke-width="5.07"/><path d="M976.0 34.9L1005.5 30.2L1013.5 53.0L993.2 83.8L963.8 87.5L956.8 63.5ZM963.8 87.5L993.2 83.8L1000.8 104.7L980.6 132.0L951.5 137.0L943.6 116.0ZM951.5 137.0L980.6 132.0L988.5 156.7L968.3 186.2L939.9 189.9L931.3 167.0Z" stroke="#58acf4" stroke-width="1.95"/></g>
<g fill="none" stroke-linecap="butt" stroke-linejoin="round"><path d="M952.7 102.8L943.6 116.0M943.6 116.0L947.5 126.5" stroke="#9ad4e6" stroke-width="6.5"/><path d="M952.7 102.8L943.6 116.0M943.6 116.0L947.5 126.5" stroke="#b4e4f0" stroke-width="5.07"/><path d="M952.7 102.8L943.6 116.0M943.6 116.0L947.5 126.5" stroke="#e0f6fa" stroke-width="1.95"/></g>
<path d="M963.8 86.7L979.9 133.3M1000.8 104.7L1018.2 154.0M951.5 137.0L968.8 188.2M988.5 156.7L1005.8 206.5M939.9 189.9L956.5 239.2M968.3 186.2L985.0 234.3" stroke="#000" stroke-width="0.9" stroke-dasharray="1.2 1" fill="none"/>
<text x="1007" y="243" font-size="22" font-weight="bold" text-anchor="start" fill="#0a0a0a">π-π</text>
<text x="15.2" y="337.6" font-size="35" font-weight="normal" text-anchor="start" fill="#000">b</text>
<path d="M202.1 319.8V466.2H456.1M57.7 573L202.1 466.2" fill="none" stroke="#000" stroke-width="1.5"/>
<polygon points="57.7,573 354.2,572 456.1,466.2 202.1,466.2" fill="#fafafa"/>
<path d="M202.1 466.2H456.1M57.7 573L202.1 466.2" fill="none" stroke="#000" stroke-width="1.4"/>
<line x1="327.1" y1="475.4" x2="435.8" y2="475.4" stroke="#a40a0a" stroke-width="1" stroke-opacity="0.85"/>
<polygon points="189.0,475.9 189.0,475.9 190.5,475.9 192.0,475.9 193.5,475.9 195.0,475.9 196.5,475.9 198.0,475.9 199.5,475.9 201.0,475.9 202.5,475.9 204.0,475.9 205.5,475.9 207.0,475.9 208.5,475.9 210.0,475.9 211.5,475.9 213.0,475.9 214.5,475.9 216.0,475.9 217.5,475.9 219.0,475.9 220.5,475.9 222.0,475.9 223.5,475.9 225.0,475.9 226.5,475.9 228.0,475.9 229.5,475.9 231.0,475.9 232.5,475.9 234.0,475.9 235.5,475.8 237.0,475.7 238.5,475.7 240.0,475.6 241.5,475.5 243.0,475.4 244.5,475.3 246.0,475.1 247.5,475.0 249.0,474.8 250.5,474.5 252.0,474.3 253.5,474.0 255.0,473.7 256.5,473.3 258.0,472.8 259.5,472.3 261.0,471.8 262.5,471.2 264.0,470.4 265.5,469.6 267.0,468.8 268.5,467.8 270.0,466.7 271.5,465.5 273.0,464.1 274.5,462.7 276.0,461.1 277.5,459.4 279.0,457.5 280.5,455.5 282.0,453.4 283.5,451.1 285.0,448.6 286.5,446.0 288.0,443.3 289.5,440.4 291.0,437.4 292.5,434.3 294.0,431.0 295.5,427.7 297.0,424.3 298.5,420.8 300.0,417.3 301.5,413.8 303.0,410.2 304.5,406.7 306.0,403.2 307.5,399.9 309.0,396.6 310.5,393.4 312.0,390.4 313.5,387.6 315.0,385.0 316.5,382.6 318.0,380.5 319.5,378.7 321.0,377.2 322.5,375.9 324.0,375.0 325.5,374.5 327.0,374.3 328.5,374.4 330.0,374.8 331.5,375.5 333.0,376.4 334.5,377.6 336.0,379.0 337.5,380.7 339.0,382.5 340.5,384.6 342.0,386.9 343.5,389.3 345.0,391.9 346.5,394.6 348.0,397.4 349.5,400.3 351.0,403.3 352.5,406.3 354.0,409.4 355.5,412.5 357.0,415.6 358.5,418.6 360.0,421.7 361.5,424.7 363.0,427.7 364.5,430.6 366.0,433.4 367.5,436.1 369.0,438.8 370.5,441.3 372.0,443.8 373.5,446.1 375.0,448.3 376.5,450.5 378.0,452.5 379.5,454.4 381.0,456.2 382.5,457.8 384.0,459.4 385.5,460.9 387.0,462.2 388.5,463.5 390.0,464.6 391.5,465.7 393.0,466.7 394.5,467.6 396.0,468.4 397.5,469.2 399.0,469.9 400.5,470.5 402.0,471.0 403.5,471.5 405.0,472.0 406.5,472.4 408.0,472.8 409.5,473.1 411.0,473.4 412.5,473.7 414.0,473.9 415.5,474.1 417.0,474.3 418.5,474.5 420.0,474.6 421.5,474.7 423.0,474.9 424.5,475.0 426.0,475.1 427.5,475.1 429.0,475.2 430.5,475.3 432.0,475.3 433.5,475.4 435.0,475.4 436.5,475.5 438.0,475.5 439.5,475.6 441.0,475.6 442.5,475.6 444.0,475.6 445.5,475.7 446.8,475.9" fill="#a40a0a"/>
<line x1="292.6" y1="487.2" x2="424.5" y2="487.2" stroke="#b04622" stroke-width="1" stroke-opacity="0.85"/>
<polygon points="173.0,487.7 173.0,487.7 174.5,487.7 176.0,487.7 177.5,487.7 179.0,487.7 180.5,487.7 182.0,487.7 183.5,487.7 185.0,487.7 186.5,487.7 188.0,487.7 189.5,487.7 191.0,487.7 192.5,487.7 194.0,487.7 195.5,487.7 197.0,487.7 198.5,487.7 200.0,487.7 201.5,487.7 203.0,487.6 204.5,487.6 206.0,487.5 207.5,487.5 209.0,487.4 210.5,487.4 212.0,487.3 213.5,487.2 215.0,487.1 216.5,487.0 218.0,486.8 219.5,486.6 221.0,486.4 222.5,486.2 224.0,485.9 225.5,485.6 227.0,485.2 228.5,484.8 230.0,484.3 231.5,483.8 233.0,483.1 234.5,482.4 236.0,481.6 237.5,480.6 239.0,479.6 240.5,478.4 242.0,477.0 243.5,475.6 245.0,474.0 246.5,472.2 248.0,470.2 249.5,468.1 251.0,465.8 252.5,463.3 254.0,460.6 255.5,457.7 257.0,454.7 258.5,451.4 260.0,448.1 261.5,444.5 263.0,440.9 264.5,437.1 266.0,433.2 267.5,429.3 269.0,425.3 270.5,421.3 272.0,417.4 273.5,413.4 275.0,409.6 276.5,405.9 278.0,402.4 279.5,399.1 281.0,396.0 282.5,393.2 284.0,390.7 285.5,388.6 287.0,386.8 288.5,385.4 290.0,384.4 291.5,383.9 293.0,383.8 294.5,384.0 296.0,384.5 297.5,385.3 299.0,386.4 300.5,387.7 302.0,389.3 303.5,391.1 305.0,393.1 306.5,395.3 308.0,397.7 309.5,400.3 311.0,402.9 312.5,405.8 314.0,408.7 315.5,411.7 317.0,414.7 318.5,417.8 320.0,421.0 321.5,424.1 323.0,427.2 324.5,430.3 326.0,433.4 327.5,436.5 329.0,439.4 330.5,442.3 332.0,445.1 333.5,447.9 335.0,450.5 336.5,453.0 338.0,455.5 339.5,457.8 341.0,460.0 342.5,462.1 344.0,464.1 345.5,465.9 347.0,467.7 348.5,469.4 350.0,470.9 351.5,472.3 353.0,473.7 354.5,474.9 356.0,476.0 357.5,477.1 359.0,478.1 360.5,479.0 362.0,479.8 363.5,480.5 365.0,481.2 366.5,481.8 368.0,482.3 369.5,482.9 371.0,483.3 372.5,483.7 374.0,484.1 375.5,484.4 377.0,484.7 378.5,485.0 380.0,485.2 381.5,485.4 383.0,485.6 384.5,485.8 386.0,486.0 387.5,486.1 389.0,486.2 390.5,486.3 392.0,486.4 393.5,486.5 395.0,486.6 396.5,486.7 398.0,486.7 399.5,486.8 401.0,486.9 402.5,486.9 404.0,487.0 405.5,487.0 407.0,487.0 408.5,487.1 410.0,487.1 411.5,487.2 413.0,487.2 414.5,487.2 416.0,487.2 417.5,487.3 419.0,487.3 420.5,487.3 422.0,487.3 423.5,487.4 425.0,487.4 426.5,487.4 428.0,487.4 429.5,487.4 431.0,487.5 432.5,487.5 434.0,487.5 435.5,487.7" fill="#b04622"/>
<line x1="266.0" y1="499.3" x2="412.8" y2="499.3" stroke="#b8a218" stroke-width="1" stroke-opacity="0.85"/>
<polygon points="156.7,499.8 156.7,499.8 158.2,499.8 159.7,499.8 161.2,499.8 162.7,499.8 164.2,499.8 165.7,499.8 167.2,499.8 168.7,499.8 170.2,499.7 171.7,499.7 173.2,499.7 174.7,499.7 176.2,499.6 177.7,499.6 179.2,499.6 180.7,499.5 182.2,499.5 183.7,499.5 185.2,499.4 186.7,499.3 188.2,499.3 189.7,499.2 191.2,499.1 192.7,499.0 194.2,498.9 195.7,498.8 197.2,498.6 198.7,498.4 200.2,498.2 201.7,497.9 203.2,497.6 204.7,497.2 206.2,496.8 207.7,496.3 209.2,495.8 210.7,495.1 212.2,494.3 213.7,493.4 215.2,492.4 216.7,491.3 218.2,490.0 219.7,488.6 221.2,486.9 222.7,485.1 224.2,483.1 225.7,480.9 227.2,478.4 228.7,475.8 230.2,472.9 231.7,469.8 233.2,466.5 234.7,463.0 236.2,459.3 237.7,455.3 239.2,451.3 240.7,447.1 242.2,442.8 243.7,438.4 245.2,433.9 246.7,429.5 248.2,425.1 249.7,420.8 251.2,416.7 252.7,412.7 254.2,409.0 255.7,405.6 257.2,402.5 258.7,399.9 260.2,397.6 261.7,395.8 263.2,394.6 264.7,393.8 266.2,393.6 267.7,393.8 269.2,394.3 270.7,395.1 272.2,396.2 273.7,397.6 275.2,399.2 276.7,401.1 278.2,403.2 279.7,405.5 281.2,408.0 282.7,410.7 284.2,413.5 285.7,416.5 287.2,419.5 288.7,422.6 290.2,425.8 291.7,429.0 293.2,432.2 294.7,435.5 296.2,438.7 297.7,441.9 299.2,445.0 300.7,448.1 302.2,451.1 303.7,454.0 305.2,456.9 306.7,459.6 308.2,462.3 309.7,464.8 311.2,467.3 312.7,469.6 314.2,471.8 315.7,473.9 317.2,475.8 318.7,477.7 320.2,479.4 321.7,481.1 323.2,482.6 324.7,484.0 326.2,485.3 327.7,486.5 329.2,487.6 330.7,488.7 332.2,489.6 333.7,490.5 335.2,491.3 336.7,492.0 338.2,492.7 339.7,493.3 341.2,493.8 342.7,494.3 344.2,494.8 345.7,495.2 347.2,495.5 348.7,495.9 350.2,496.2 351.7,496.4 353.2,496.7 354.7,496.9 356.2,497.1 357.7,497.3 359.2,497.4 360.7,497.6 362.2,497.7 363.7,497.8 365.2,497.9 366.7,498.0 368.2,498.1 369.7,498.2 371.2,498.3 372.7,498.4 374.2,498.4 375.7,498.5 377.2,498.5 378.7,498.6 380.2,498.7 381.7,498.7 383.2,498.7 384.7,498.8 386.2,498.8 387.7,498.9 389.2,498.9 390.7,498.9 392.2,499.0 393.7,499.0 395.2,499.0 396.7,499.1 398.2,499.1 399.7,499.1 401.2,499.2 402.7,499.2 404.2,499.2 405.7,499.2 407.2,499.3 408.7,499.3 410.2,499.3 411.7,499.3 413.2,499.4 414.7,499.4 416.2,499.4 417.7,499.4 419.2,499.4 420.7,499.4 422.2,499.5 423.7,499.5 423.8,499.8" fill="#b8a218"/>
<line x1="229.2" y1="511.5" x2="401.0" y2="511.5" stroke="#35a66e" stroke-width="1" stroke-opacity="0.85"/>
<polygon points="140.2,512.0 140.2,511.8 141.7,511.8 143.2,511.8 144.7,511.7 146.2,511.7 147.7,511.7 149.2,511.6 150.7,511.6 152.2,511.6 153.7,511.5 155.2,511.5 156.7,511.4 158.2,511.4 159.7,511.3 161.2,511.2 162.7,511.2 164.2,511.1 165.7,511.0 167.2,510.9 168.7,510.7 170.2,510.6 171.7,510.4 173.2,510.2 174.7,509.9 176.2,509.6 177.7,509.2 179.2,508.7 180.7,508.2 182.2,507.5 183.7,506.8 185.2,505.8 186.7,504.7 188.2,503.5 189.7,502.0 191.2,500.2 192.7,498.3 194.2,496.0 195.7,493.4 197.2,490.6 198.7,487.4 200.2,483.9 201.7,480.0 203.2,475.8 204.7,471.3 206.2,466.6 207.7,461.5 209.2,456.3 210.7,450.9 212.2,445.4 213.7,440.0 215.2,434.5 216.7,429.3 218.2,424.3 219.7,419.6 221.2,415.4 222.7,411.7 224.2,408.7 225.7,406.3 227.2,404.8 228.7,404.1 230.2,404.1 231.7,404.5 233.2,405.3 234.7,406.4 236.2,407.9 237.7,409.6 239.2,411.7 240.7,414.0 242.2,416.5 243.7,419.3 245.2,422.2 246.7,425.3 248.2,428.4 249.7,431.7 251.2,435.1 252.7,438.5 254.2,441.9 255.7,445.3 257.2,448.7 258.7,452.0 260.2,455.3 261.7,458.5 263.2,461.7 264.7,464.7 266.2,467.7 267.7,470.6 269.2,473.3 270.7,475.9 272.2,478.4 273.7,480.8 275.2,483.0 276.7,485.2 278.2,487.2 279.7,489.0 281.2,490.8 282.7,492.4 284.2,493.9 285.7,495.4 287.2,496.7 288.7,497.9 290.2,499.0 291.7,500.0 293.2,500.9 294.7,501.8 296.2,502.6 297.7,503.3 299.2,503.9 300.7,504.5 302.2,505.0 303.7,505.5 305.2,506.0 306.7,506.4 308.2,506.7 309.7,507.1 311.2,507.4 312.7,507.6 314.2,507.9 315.7,508.1 317.2,508.3 318.7,508.5 320.2,508.7 321.7,508.8 323.2,509.0 324.7,509.1 326.2,509.2 327.7,509.3 329.2,509.5 330.7,509.6 332.2,509.7 333.7,509.7 335.2,509.8 336.7,509.9 338.2,510.0 339.7,510.1 341.2,510.1 342.7,510.2 344.2,510.2 345.7,510.3 347.2,510.4 348.7,510.4 350.2,510.5 351.7,510.5 353.2,510.6 354.7,510.6 356.2,510.7 357.7,510.7 359.2,510.7 360.7,510.8 362.2,510.8 363.7,510.9 365.2,510.9 366.7,510.9 368.2,511.0 369.7,511.0 371.2,511.0 372.7,511.1 374.2,511.1 375.7,511.1 377.2,511.2 378.7,511.2 380.2,511.2 381.7,511.2 383.2,511.3 384.7,511.3 386.2,511.3 387.7,511.3 389.2,511.4 390.7,511.4 392.2,511.4 393.7,511.4 395.2,511.5 396.7,511.5 398.2,511.5 399.7,511.5 401.2,511.5 402.7,511.6 404.2,511.6 405.7,511.6 407.2,511.6 408.7,511.6 410.2,511.6 411.7,511.7 412.0,512.0" fill="#35a66e"/>
<line x1="195.0" y1="524.2" x2="388.8" y2="524.2" stroke="#22c4ba" stroke-width="1" stroke-opacity="0.85"/>
<polygon points="123.0,524.7 123.0,524.2 124.5,524.2 126.0,524.1 127.5,524.1 129.0,524.0 130.5,524.0 132.0,523.9 133.5,523.8 135.0,523.8 136.5,523.7 138.0,523.6 139.5,523.5 141.0,523.4 142.5,523.2 144.0,523.1 145.5,522.9 147.0,522.7 148.5,522.4 150.0,522.1 151.5,521.7 153.0,521.2 154.5,520.6 156.0,519.9 157.5,519.0 159.0,517.9 160.5,516.6 162.0,514.9 163.5,513.0 165.0,510.7 166.5,508.0 168.0,504.8 169.5,501.2 171.0,497.1 172.5,492.4 174.0,487.3 175.5,481.7 177.0,475.7 178.5,469.4 180.0,462.8 181.5,456.0 183.0,449.2 184.5,442.6 186.0,436.3 187.5,430.4 189.0,425.3 190.5,421.1 192.0,417.9 193.5,416.0 195.0,415.3 196.5,415.5 198.0,416.3 199.5,417.5 201.0,419.1 202.5,421.1 204.0,423.5 205.5,426.3 207.0,429.3 208.5,432.5 210.0,436.0 211.5,439.6 213.0,443.3 214.5,447.0 216.0,450.9 217.5,454.7 219.0,458.5 220.5,462.2 222.0,465.9 223.5,469.5 225.0,473.0 226.5,476.4 228.0,479.6 229.5,482.8 231.0,485.7 232.5,488.5 234.0,491.2 235.5,493.7 237.0,496.1 238.5,498.3 240.0,500.3 241.5,502.2 243.0,504.0 244.5,505.6 246.0,507.1 247.5,508.5 249.0,509.8 250.5,510.9 252.0,512.0 253.5,512.9 255.0,513.8 256.5,514.6 258.0,515.3 259.5,516.0 261.0,516.6 262.5,517.1 264.0,517.6 265.5,518.0 267.0,518.4 268.5,518.8 270.0,519.1 271.5,519.4 273.0,519.7 274.5,519.9 276.0,520.1 277.5,520.3 279.0,520.5 280.5,520.7 282.0,520.9 283.5,521.0 285.0,521.2 286.5,521.3 288.0,521.5 289.5,521.6 291.0,521.7 292.5,521.8 294.0,521.9 295.5,522.0 297.0,522.1 298.5,522.2 300.0,522.3 301.5,522.3 303.0,522.4 304.5,522.5 306.0,522.6 307.5,522.6 309.0,522.7 310.5,522.8 312.0,522.8 313.5,522.9 315.0,523.0 316.5,523.0 318.0,523.1 319.5,523.1 321.0,523.2 322.5,523.2 324.0,523.3 325.5,523.3 327.0,523.4 328.5,523.4 330.0,523.4 331.5,523.5 333.0,523.5 334.5,523.6 336.0,523.6 337.5,523.6 339.0,523.7 340.5,523.7 342.0,523.7 343.5,523.8 345.0,523.8 346.5,523.8 348.0,523.9 349.5,523.9 351.0,523.9 352.5,523.9 354.0,524.0 355.5,524.0 357.0,524.0 358.5,524.0 360.0,524.1 361.5,524.1 363.0,524.1 364.5,524.1 366.0,524.1 367.5,524.2 369.0,524.2 370.5,524.2 372.0,524.2 373.5,524.2 375.0,524.3 376.5,524.3 378.0,524.3 379.5,524.3 381.0,524.3 382.5,524.3 384.0,524.4 385.5,524.4 387.0,524.4 388.5,524.4 390.0,524.4 391.5,524.4 393.0,524.4 394.5,524.5 396.0,524.5 397.5,524.5 399.0,524.5 399.8,524.7" fill="#22c4ba"/>
<line x1="166.2" y1="536.6" x2="376.8" y2="536.6" stroke="#22acd8" stroke-width="1" stroke-opacity="0.85"/>
<polygon points="106.2,537.1 106.2,536.4 107.7,536.3 109.2,536.2 110.7,536.1 112.2,536.0 113.7,535.9 115.2,535.8 116.7,535.7 118.2,535.6 119.7,535.4 121.2,535.2 122.7,535.0 124.2,534.8 125.7,534.4 127.2,534.0 128.7,533.5 130.2,532.9 131.7,532.1 133.2,531.1 134.7,529.8 136.2,528.2 137.7,526.3 139.2,523.9 140.7,521.0 142.2,517.5 143.7,513.4 145.2,508.7 146.7,503.3 148.2,497.3 149.7,490.6 151.2,483.4 152.7,475.9 154.2,468.0 155.7,460.1 157.2,452.4 158.7,445.2 160.2,438.6 161.7,433.1 163.2,428.9 164.7,426.4 166.2,425.5 167.7,425.8 169.2,426.8 170.7,428.4 172.2,430.6 173.7,433.3 175.2,436.4 176.7,440.0 178.2,443.8 179.7,447.8 181.2,452.1 182.7,456.4 184.2,460.8 185.7,465.3 187.2,469.6 188.7,473.9 190.2,478.2 191.7,482.2 193.2,486.2 194.7,489.9 196.2,493.5 197.7,496.9 199.2,500.1 200.7,503.1 202.2,505.9 203.7,508.5 205.2,510.9 206.7,513.2 208.2,515.2 209.7,517.1 211.2,518.8 212.7,520.3 214.2,521.7 215.7,523.0 217.2,524.1 218.7,525.1 220.2,526.1 221.7,526.9 223.2,527.6 224.7,528.3 226.2,528.9 227.7,529.4 229.2,529.9 230.7,530.4 232.2,530.8 233.7,531.1 235.2,531.4 236.7,531.7 238.2,532.0 239.7,532.2 241.2,532.5 242.7,532.7 244.2,532.9 245.7,533.1 247.2,533.2 248.7,533.4 250.2,533.5 251.7,533.7 253.2,533.8 254.7,533.9 256.2,534.1 257.7,534.2 259.2,534.3 260.7,534.4 262.2,534.5 263.7,534.6 265.2,534.7 266.7,534.8 268.2,534.8 269.7,534.9 271.2,535.0 272.7,535.1 274.2,535.1 275.7,535.2 277.2,535.3 278.7,535.3 280.2,535.4 281.7,535.5 283.2,535.5 284.7,535.6 286.2,535.6 287.7,535.7 289.2,535.7 290.7,535.8 292.2,535.8 293.7,535.9 295.2,535.9 296.7,535.9 298.2,536.0 299.7,536.0 301.2,536.1 302.7,536.1 304.2,536.1 305.7,536.2 307.2,536.2 308.7,536.2 310.2,536.3 311.7,536.3 313.2,536.3 314.7,536.3 316.2,536.4 317.7,536.4 319.2,536.4 320.7,536.5 322.2,536.5 323.7,536.5 325.2,536.5 326.7,536.5 328.2,536.6 329.7,536.6 331.2,536.6 332.7,536.6 334.2,536.7 335.7,536.7 337.2,536.7 338.7,536.7 340.2,536.7 341.7,536.7 343.2,536.8 344.7,536.8 346.2,536.8 347.7,536.8 349.2,536.8 350.7,536.8 352.2,536.9 353.7,536.9 355.2,536.9 356.7,536.9 358.2,536.9 359.7,536.9 361.2,536.9 362.7,536.9 364.2,537.0 365.7,537.0 367.2,537.0 368.7,537.0 370.2,537.0 371.7,537.0 373.2,537.0 374.7,537.0 376.2,537.1 377.7,537.1 379.2,537.1 380.7,537.1 382.2,537.1 383.7,537.1 385.2,537.1 386.7,537.1 387.8,537.1" fill="#22acd8"/>
<line x1="129.4" y1="550.3" x2="363.6" y2="550.3" stroke="#06def2" stroke-width="1" stroke-opacity="0.85"/>
<polygon points="87.7,550.8 87.7,549.0 89.2,548.8 90.7,548.6 92.2,548.3 93.7,547.9 95.2,547.5 96.7,546.9 98.2,546.1 99.7,545.1 101.2,543.8 102.7,542.2 104.2,540.1 105.7,537.4 107.2,534.1 108.7,530.0 110.2,525.1 111.7,519.4 113.2,512.8 114.7,505.4 116.2,497.2 117.7,488.4 119.2,479.3 120.7,470.2 122.2,461.4 123.7,453.3 125.2,446.5 126.7,441.3 128.2,438.3 129.7,437.5 131.2,438.1 132.7,439.6 134.2,441.9 135.7,444.9 137.2,448.5 138.7,452.7 140.2,457.2 141.7,462.0 143.2,467.0 144.7,472.0 146.2,477.1 147.7,482.2 149.2,487.2 150.7,492.0 152.2,496.6 153.7,501.0 155.2,505.1 156.7,509.1 158.2,512.7 159.7,516.1 161.2,519.3 162.7,522.2 164.2,524.8 165.7,527.2 167.2,529.4 168.7,531.4 170.2,533.1 171.7,534.7 173.2,536.1 174.7,537.4 176.2,538.5 177.7,539.5 179.2,540.4 180.7,541.2 182.2,541.9 183.7,542.5 185.2,543.0 186.7,543.5 188.2,544.0 189.7,544.4 191.2,544.8 192.7,545.1 194.2,545.4 195.7,545.7 197.2,545.9 198.7,546.1 200.2,546.4 201.7,546.6 203.2,546.8 204.7,546.9 206.2,547.1 207.7,547.3 209.2,547.4 210.7,547.5 212.2,547.7 213.7,547.8 215.2,547.9 216.7,548.0 218.2,548.2 219.7,548.3 221.2,548.4 222.7,548.4 224.2,548.5 225.7,548.6 227.2,548.7 228.7,548.8 230.2,548.9 231.7,548.9 233.2,549.0 234.7,549.1 236.2,549.1 237.7,549.2 239.2,549.3 240.7,549.3 242.2,549.4 243.7,549.4 245.2,549.5 246.7,549.5 248.2,549.6 249.7,549.6 251.2,549.7 252.7,549.7 254.2,549.7 255.7,549.8 257.2,549.8 258.7,549.9 260.2,549.9 261.7,549.9 263.2,550.0 264.7,550.0 266.2,550.0 267.7,550.1 269.2,550.1 270.7,550.1 272.2,550.1 273.7,550.2 275.2,550.2 276.7,550.2 278.2,550.3 279.7,550.3 281.2,550.3 282.7,550.3 284.2,550.3 285.7,550.4 287.2,550.4 288.7,550.4 290.2,550.4 291.7,550.4 293.2,550.5 294.7,550.5 296.2,550.5 297.7,550.5 299.2,550.5 300.7,550.5 302.2,550.6 303.7,550.6 305.2,550.6 306.7,550.6 308.2,550.6 309.7,550.6 311.2,550.7 312.7,550.7 314.2,550.7 315.7,550.7 317.2,550.7 318.7,550.7 320.2,550.7 321.7,550.7 323.2,550.8 324.7,550.8 326.2,550.8 327.7,550.8 329.2,550.8 330.7,550.8 332.2,550.8 333.7,550.8 335.2,550.8 336.7,550.8 338.2,550.8 339.7,550.8 341.2,550.8 342.7,550.8 344.2,550.8 345.7,550.8 347.2,550.8 348.7,550.8 350.2,550.8 351.7,550.8 353.2,550.8 354.7,550.8 356.2,550.8 357.7,550.8 359.2,550.8 360.7,550.8 362.2,550.8 363.7,550.8 365.2,550.8 366.7,550.8 368.2,550.8 369.7,550.8 371.2,550.8 372.7,550.8 374.2,550.8 374.6,550.8" fill="#06def2" fill-opacity="0.95"/>
<line x1="97.2" y1="564.7" x2="349.8" y2="564.7" stroke="#1290ea" stroke-width="1" stroke-opacity="0.85"/>
<polygon points="68.2,565.2 68.2,560.4 69.7,559.4 71.2,558.1 72.7,556.3 74.2,554.0 75.7,551.0 77.2,547.2 78.7,542.5 80.2,536.8 81.7,530.0 83.2,522.1 84.7,513.3 86.2,503.6 87.7,493.5 89.2,483.1 90.7,473.2 92.2,464.2 93.7,456.8 95.2,451.6 96.7,449.1 98.2,449.3 99.7,450.6 101.2,452.9 102.7,456.2 104.2,460.2 105.7,464.8 107.2,470.0 108.7,475.4 110.2,481.0 111.7,486.7 113.2,492.4 114.7,497.9 116.2,503.3 117.7,508.5 119.2,513.4 120.7,518.0 122.2,522.3 123.7,526.3 125.2,530.0 126.7,533.3 128.2,536.4 129.7,539.2 131.2,541.7 132.7,543.9 134.2,545.9 135.7,547.7 137.2,549.3 138.7,550.7 140.2,552.0 141.7,553.1 143.2,554.0 144.7,554.9 146.2,555.6 147.7,556.3 149.2,556.9 150.7,557.4 152.2,557.9 153.7,558.4 155.2,558.8 156.7,559.1 158.2,559.4 159.7,559.7 161.2,560.0 162.7,560.3 164.2,560.5 165.7,560.7 167.2,560.9 168.7,561.1 170.2,561.3 171.7,561.5 173.2,561.6 174.7,561.8 176.2,561.9 177.7,562.1 179.2,562.2 180.7,562.3 182.2,562.5 183.7,562.6 185.2,562.7 186.7,562.8 188.2,562.9 189.7,563.0 191.2,563.1 192.7,563.1 194.2,563.2 195.7,563.3 197.2,563.4 198.7,563.4 200.2,563.5 201.7,563.6 203.2,563.6 204.7,563.7 206.2,563.8 207.7,563.8 209.2,563.9 210.7,563.9 212.2,564.0 213.7,564.0 215.2,564.1 216.7,564.1 218.2,564.2 219.7,564.2 221.2,564.2 222.7,564.3 224.2,564.3 225.7,564.3 227.2,564.4 228.7,564.4 230.2,564.4 231.7,564.5 233.2,564.5 234.7,564.5 236.2,564.6 237.7,564.6 239.2,564.6 240.7,564.6 242.2,564.7 243.7,564.7 245.2,564.7 246.7,564.7 248.2,564.8 249.7,564.8 251.2,564.8 252.7,564.8 254.2,564.9 255.7,564.9 257.2,564.9 258.7,564.9 260.2,564.9 261.7,564.9 263.2,565.0 264.7,565.0 266.2,565.0 267.7,565.0 269.2,565.0 270.7,565.0 272.2,565.1 273.7,565.1 275.2,565.1 276.7,565.1 278.2,565.1 279.7,565.1 281.2,565.1 282.7,565.1 284.2,565.2 285.7,565.2 287.2,565.2 288.7,565.2 290.2,565.2 291.7,565.2 293.2,565.2 294.7,565.2 296.2,565.2 297.7,565.2 299.2,565.2 300.7,565.2 302.2,565.2 303.7,565.2 305.2,565.2 306.7,565.2 308.2,565.2 309.7,565.2 311.2,565.2 312.7,565.2 314.2,565.2 315.7,565.2 317.2,565.2 318.7,565.2 320.2,565.2 321.7,565.2 323.2,565.2 324.7,565.2 326.2,565.2 327.7,565.2 329.2,565.2 330.7,565.2 332.2,565.2 333.7,565.2 335.2,565.2 336.7,565.2 338.2,565.2 339.7,565.2 341.2,565.2 342.7,565.2 344.2,565.2 345.7,565.2 347.2,565.2 348.7,565.2 350.2,565.2 351.7,565.2 353.2,565.2 354.7,565.2 356.2,565.2 357.7,565.2 359.2,565.2 360.7,565.2 360.8,565.2" fill="#1290ea" fill-opacity="0.95"/>
<path d="M57.7 573L58.1 400.8L202.1 319.8L455.6 319.7L456 466.2L354.2 572L57.7 573" fill="none" stroke="#000" stroke-width="1.6" stroke-linejoin="round"/>
<line x1="63.90" y1="572.98" x2="63.90" y2="583.78" stroke="#000" stroke-width="1.5"/>
<line x1="91.23" y1="572.89" x2="91.23" y2="578.69" stroke="#000" stroke-width="1.5"/>
<line x1="118.56" y1="572.79" x2="118.56" y2="583.59" stroke="#000" stroke-width="1.5"/>
<line x1="145.89" y1="572.70" x2="145.89" y2="578.50" stroke="#000" stroke-width="1.5"/>
<line x1="173.22" y1="572.61" x2="173.22" y2="583.41" stroke="#000" stroke-width="1.5"/>
<line x1="200.55" y1="572.52" x2="200.55" y2="578.32" stroke="#000" stroke-width="1.5"/>
<line x1="227.88" y1="572.43" x2="227.88" y2="583.23" stroke="#000" stroke-width="1.5"/>
<line x1="255.21" y1="572.33" x2="255.21" y2="578.13" stroke="#000" stroke-width="1.5"/>
<line x1="282.54" y1="572.24" x2="282.54" y2="583.04" stroke="#000" stroke-width="1.5"/>
<line x1="309.87" y1="572.15" x2="309.87" y2="577.95" stroke="#000" stroke-width="1.5"/>
<line x1="337.20" y1="572.06" x2="337.20" y2="582.86" stroke="#000" stroke-width="1.5"/>
<text x="63.6" y="606.8" font-size="17.8" font-weight="bold" text-anchor="middle" fill="#000">400</text>
<text x="118.3" y="606.8" font-size="17.8" font-weight="bold" text-anchor="middle" fill="#000">500</text>
<text x="172.9" y="606.8" font-size="17.8" font-weight="bold" text-anchor="middle" fill="#000">600</text>
<text x="227.6" y="606.8" font-size="17.8" font-weight="bold" text-anchor="middle" fill="#000">700</text>
<text x="282.2" y="606.8" font-size="17.8" font-weight="bold" text-anchor="middle" fill="#000">800</text>
<text x="336.9" y="606.8" font-size="17.8" font-weight="bold" text-anchor="middle" fill="#000">900</text>
<text x="222.3" y="636" font-size="20.2" font-weight="bold" text-anchor="middle" fill="#000">Wavelength (nm)</text>
<text x="32.7" y="475.3" font-size="21" font-weight="bold" text-anchor="middle" fill="#000" transform="rotate(-90 32.7 475.3)" textLength="215" lengthAdjust="spacingAndGlyphs">Intensity (arb. units)</text>
<line x1="350.26" y1="565.20" x2="360.76" y2="565.20" stroke="#000" stroke-width="1.5"/>
<text x="347.5" y="569.6" font-size="13.8" font-weight="bold" text-anchor="end" fill="#111">1 atm</text>
<line x1="364.14" y1="550.80" x2="374.64" y2="550.80" stroke="#000" stroke-width="1.5"/>
<text x="361.3" y="555.2" font-size="13.8" font-weight="bold" text-anchor="end" fill="#111">1.2</text>
<line x1="377.34" y1="537.10" x2="387.84" y2="537.10" stroke="#000" stroke-width="1.5"/>
<text x="374.5" y="541.5" font-size="13.8" font-weight="bold" text-anchor="end" fill="#111">4.6</text>
<line x1="389.30" y1="524.70" x2="399.80" y2="524.70" stroke="#000" stroke-width="1.5"/>
<text x="386.5" y="529.1" font-size="13.8" font-weight="bold" text-anchor="end" fill="#111">6.3</text>
<line x1="401.54" y1="512.00" x2="412.04" y2="512.00" stroke="#000" stroke-width="1.5"/>
<text x="398.7" y="516.4" font-size="13.8" font-weight="bold" text-anchor="end" fill="#111">10.3</text>
<line x1="413.30" y1="499.80" x2="423.80" y2="499.80" stroke="#000" stroke-width="1.5"/>
<text x="410.5" y="504.2" font-size="13.8" font-weight="bold" text-anchor="end" fill="#111">15.6</text>
<line x1="424.97" y1="487.70" x2="435.47" y2="487.70" stroke="#000" stroke-width="1.5"/>
<text x="422.2" y="492.1" font-size="13.8" font-weight="bold" text-anchor="end" fill="#111">18.4</text>
<line x1="436.34" y1="475.90" x2="446.84" y2="475.90" stroke="#000" stroke-width="1.5"/>
<text x="433.5" y="480.3" font-size="13.8" font-weight="bold" text-anchor="end" fill="#111">22.8</text>
<text x="386.6" y="581" font-size="16" font-weight="bold" text-anchor="start" fill="#161616" transform="rotate(-46.2 386.6 581)">Pressure (GPa)</text>
<text x="74" y="438.4" font-size="14" font-weight="bold" text-anchor="start" fill="#111">442 nm</text>
<line x1="96.40" y1="443.40" x2="96.40" y2="453.20" stroke="#000" stroke-width="1.3"/>
<text x="305.3" y="365" font-size="14" font-weight="bold" text-anchor="start" fill="#111">679 nm</text>
<line x1="327.30" y1="368.20" x2="327.30" y2="379.00" stroke="#000" stroke-width="1.3"/>
<rect x="164" y="383.5" width="62" height="17" fill="#fff" transform="rotate(-19.5 165.5 398.8)"/>
<path d="M106.6 422.7L288 364.7L287.3 362.4L298.2 363.2L290 370.4L289.1 368L107.6 426Z" fill="url(#ba)"/>
<text x="166" y="398.4" font-size="17.8" font-weight="bold" text-anchor="start" fill="#111" transform="rotate(-19.5 166 398.4)">237 nm</text>
<text x="18.3" y="649.3" font-size="35" font-weight="normal" text-anchor="start" fill="#000">c</text>
<text x="277" y="671.6" font-size="24" font-weight="bold" text-anchor="start" fill="#000" textLength="177" lengthAdjust="spacingAndGlyphs">Pressure (GPa)</text>
<g clip-path="url(#cband)"><circle cx="228.5" cy="887" r="114.5" fill="none" stroke="#f1f1f4" stroke-width="37"/></g>
<circle cx="62.9" cy="868.8" r="21.8" fill="url(#bl0)"/><circle cx="62.9" cy="868.8" r="21.8" fill="#fff" fill-opacity="0.5" filter="url(#tx)"/><circle cx="62.9" cy="868.8" r="21.8" fill="url(#brim)"/>
<text x="28.5" y="862.8" font-size="14.2" font-weight="bold" text-anchor="middle" fill="#111" transform="rotate(-82 28.5 862.8)" dy="5">1 atm</text>
<circle cx="74.3" cy="826.2" r="21.8" fill="url(#bl1)"/><circle cx="74.3" cy="826.2" r="21.8" fill="#fff" fill-opacity="0.5" filter="url(#tx)"/><circle cx="74.3" cy="826.2" r="21.8" fill="url(#brim)"/>
<text x="45" y="814.8" font-size="14.2" font-weight="bold" text-anchor="middle" fill="#111" transform="rotate(-62 45 814.8)" dy="5">1.2</text>
<circle cx="98.9" cy="787.9" r="21.8" fill="url(#bl2)"/><circle cx="98.9" cy="787.9" r="21.8" fill="#fff" fill-opacity="0.5" filter="url(#tx)"/><circle cx="98.9" cy="787.9" r="21.8" fill="url(#brim)"/>
<text x="76.4" y="769.9" font-size="14.2" font-weight="bold" text-anchor="middle" fill="#111" transform="rotate(-47 76.4 769.9)" dy="5">3.4</text>
<circle cx="134.9" cy="755.5" r="21.8" fill="url(#bl3)"/><circle cx="134.9" cy="755.5" r="21.8" fill="#fff" fill-opacity="0.5" filter="url(#tx)"/><circle cx="134.9" cy="755.5" r="21.8" fill="url(#brim)"/>
<text x="118.4" y="732.4" font-size="14.2" font-weight="bold" text-anchor="middle" fill="#111" transform="rotate(-30 118.4 732.4)" dy="5">4.6</text>
<circle cx="179" cy="737.8" r="21.8" fill="url(#bl4)"/><circle cx="179" cy="737.8" r="21.8" fill="#fff" fill-opacity="0.5" filter="url(#tx)"/><circle cx="179" cy="737.8" r="21.8" fill="url(#brim)"/>
<text x="168.8" y="709.9" font-size="14.2" font-weight="bold" text-anchor="middle" fill="#111" transform="rotate(-15 168.8 709.9)" dy="5">6.3</text>
<circle cx="227.8" cy="732.4" r="21.8" fill="url(#bl5)"/><circle cx="227.8" cy="732.4" r="21.8" fill="#fff" fill-opacity="0.5" filter="url(#tx)"/><circle cx="227.8" cy="732.4" r="21.8" fill="url(#brim)"/>
<text x="227.8" y="700.3" font-size="14.2" font-weight="bold" text-anchor="middle" fill="#111" transform="rotate(-4 227.8 700.3)" dy="5">8.7</text>
<circle cx="277.9" cy="737.5" r="21.8" fill="url(#bl6)"/><circle cx="277.9" cy="737.5" r="21.8" fill="#fff" fill-opacity="0.22" filter="url(#tx)"/><circle cx="277.9" cy="737.5" r="21.8" fill="url(#brim)"/>
<text x="287.4" y="709.9" font-size="14.2" font-weight="bold" text-anchor="middle" fill="#111" transform="rotate(16 287.4 709.9)" dy="5">10.3</text>
<circle cx="321.9" cy="756.4" r="21.8" fill="url(#bl7)"/><circle cx="321.9" cy="756.4" r="21.8" fill="#fff" fill-opacity="0.22" filter="url(#tx)"/><circle cx="321.9" cy="756.4" r="21.8" fill="url(#brim)"/>
<text x="338.4" y="731.5" font-size="14.2" font-weight="bold" text-anchor="middle" fill="#111" transform="rotate(31 338.4 731.5)" dy="5">13.7</text>
<circle cx="357.3" cy="787.9" r="21.8" fill="url(#bl8)"/><circle cx="357.3" cy="787.9" r="21.8" fill="#fff" fill-opacity="0.22" filter="url(#tx)"/><circle cx="357.3" cy="787.9" r="21.8" fill="url(#brim)"/>
<text x="380.4" y="769.9" font-size="14.2" font-weight="bold" text-anchor="middle" fill="#111" transform="rotate(50 380.4 769.9)" dy="5">15.6</text>
<circle cx="380.4" cy="825.9" r="21.8" fill="url(#bl9)"/><circle cx="380.4" cy="825.9" r="21.8" fill="#fff" fill-opacity="0.22" filter="url(#tx)"/><circle cx="380.4" cy="825.9" r="21.8" fill="url(#brim)"/>
<text x="408.2" y="817.8" font-size="14.2" font-weight="bold" text-anchor="middle" fill="#111" transform="rotate(66 408.2 817.8)" dy="5">18.4</text>
<circle cx="389.4" cy="868.2" r="21.8" fill="url(#bl10)"/><circle cx="389.4" cy="868.2" r="21.8" fill="#fff" fill-opacity="0.22" filter="url(#tx)"/><circle cx="389.4" cy="868.2" r="21.8" fill="url(#brim)"/>
<text x="419.3" y="864.3" font-size="14.2" font-weight="bold" text-anchor="middle" fill="#111" transform="rotate(82 419.3 864.3)" dy="5">22.8</text>
<path d="M126.5 828.4C126.8 815 133 803.5 150 791.5C168 780 192 774.4 215.3 774.2C245 774 270 777.5 290 785C310 793.5 322.5 804.5 327.4 816.3L338.6 816.9L332.8 828.6L319 815.7L322 816.2C317 806 306 796.5 288 788C268 780.5 244 777.4 215.3 777.7C194 778.2 172 784 155.5 795.5C141.5 806 135.4 816.5 134.6 828.4Z" fill="url(#cg)"/>
<text x="229.5" y="776.2" font-size="16.2" font-weight="bold" font-style="italic" text-anchor="middle" fill="#555" filter="url(#sh)" textLength="97" lengthAdjust="spacingAndGlyphs">Compression</text>
<text x="228.3" y="775" font-size="16.2" font-weight="bold" font-style="italic" text-anchor="middle" fill="#0a0a0a" textLength="97" lengthAdjust="spacingAndGlyphs">Compression</text>
<path d="M213.4 782.3H247.6L259.2 801.6Q231.5 807.6 203.8 801.6Z" fill="url(#lp)"/>
<text x="231.7" y="795" font-size="12" font-weight="bold" text-anchor="middle" fill="#141414">355 nm</text>
<path d="M224.5 796V808" stroke="#d48af2" stroke-width="1.3"/><path d="M221.2 806.2H227.8L224.5 812.4Z" fill="#d48af2"/>
<path d="M232.6 796V808" stroke="#d48af2" stroke-width="1.3"/><path d="M229.29999999999998 806.2H235.9L232.6 812.4Z" fill="#d48af2"/>
<path d="M241 796V808" stroke="#d48af2" stroke-width="1.3"/><path d="M237.7 806.2H244.3L241 812.4Z" fill="#d48af2"/>
<path d="M115 842.4H129.6V832L138.4 840V832L153.4 845.2L138.4 858.4V850.4L129.6 858.4V848.3H115Z" fill="#000"/>
<path d="M350.2 842.4H335.6V832L326.8 840V832L311.8 845.2L326.8 858.4V850.4L335.6 858.4V848.3H350.2Z" fill="#000"/>
<polygon points="156.7,835.9 159.5,826.9 165.0,820.4 170.0,817.1 174.0,819.4 195.6,847.9 174.0,876.4 170.0,878.7 165.0,875.4 159.5,868.9 156.7,859.9" fill="#d5dbe2"/><polygon points="174.0,819.4 195.6,847.9 174.4,825.1" fill="#f7f9fb"/><polygon points="174.4,825.1 195.6,847.9 174.7,830.8" fill="#6f7a87"/><polygon points="174.7,830.8 195.6,847.9 175.0,836.5" fill="#eef2f6"/><polygon points="175.0,836.5 195.6,847.9 175.1,842.2" fill="#2c3239"/><polygon points="175.1,842.2 195.6,847.9 175.2,847.9" fill="#b7c8de"/><polygon points="175.2,847.9 195.6,847.9 175.1,853.6" fill="#fafbfd"/><polygon points="175.1,853.6 195.6,847.9 175.0,859.3" fill="#4d5660"/><polygon points="175.0,859.3 195.6,847.9 174.7,865.0" fill="#dfe6ee"/><polygon points="174.7,865.0 195.6,847.9 174.4,870.7" fill="#8794a3"/><polygon points="174.4,870.7 195.6,847.9 174.0,876.4" fill="#f2f5f8"/><polygon points="176.0,838.9 186.0,844.9 195.6,847.9 186.0,851.9 176.0,857.9 180.0,847.9" fill="#aab9cc" fill-opacity="0.8"/><polygon points="175.0,827.9 183.0,839.9 177.0,843.9" fill="#2a3037" fill-opacity="0.75"/><polygon points="175.0,868.9 184.0,854.9 178.0,850.9" fill="#eef2f6" fill-opacity="0.9"/><polygon points="174.0,819.4 168.6,825.1 164.5,829.7 174.4,825.1" fill="#f2f5f8" fill-opacity="0.92"/><polygon points="174.4,825.1 164.5,829.7 160.4,834.2 174.7,830.8" fill="#5f6975" fill-opacity="0.92"/><polygon points="174.7,830.8 160.4,834.2 156.7,838.8 175.0,836.5" fill="#e6ebf1" fill-opacity="0.92"/><polygon points="175.0,836.5 156.7,838.8 156.7,843.3 175.1,842.2" fill="#a3b2c4" fill-opacity="0.92"/><polygon points="175.1,842.2 156.7,843.3 156.7,847.9 175.2,847.9" fill="#fbfcfd" fill-opacity="0.92"/><polygon points="175.2,847.9 156.7,847.9 156.7,852.5 175.1,853.6" fill="#3c444d" fill-opacity="0.92"/><polygon points="175.1,853.6 156.7,852.5 156.7,857.0 175.0,859.3" fill="#e9eef3" fill-opacity="0.92"/><polygon points="175.0,859.3 156.7,857.0 160.4,861.6 174.7,865.0" fill="#818d9b" fill-opacity="0.92"/><polygon points="174.7,865.0 160.4,861.6 164.5,866.1 174.4,870.7" fill="#f4f6f9" fill-opacity="0.92"/><polygon points="174.4,870.7 164.5,866.1 168.6,870.7 174.0,876.4" fill="#4f5964" fill-opacity="0.92"/><polygon points="156.7,836.9 165.0,840.9 165.0,855.9 156.7,858.9" fill="#f6f8fa" fill-opacity="0.9"/><polygon points="162.0,833.9 173.0,844.9 163.0,849.9" fill="#353c44" fill-opacity="0.8"/><polygon points="163.0,851.9 172.0,848.9 166.0,862.9" fill="#8d99a8" fill-opacity="0.8"/><polygon points="156.7,835.9 159.5,826.9 165.0,820.4 170.0,817.1 174.0,819.4 195.6,847.9 174.0,876.4 170.0,878.7 165.0,875.4 159.5,868.9 156.7,859.9" fill="none" stroke="#7a838e" stroke-width="0.5"/>
<polygon points="308.5,835.9 305.7,826.9 300.2,820.4 295.2,817.1 291.2,819.4 269.6,847.9 291.2,876.4 295.2,878.7 300.2,875.4 305.7,868.9 308.5,859.9" fill="#d5dbe2"/><polygon points="291.2,819.4 269.6,847.9 290.8,825.1" fill="#f7f9fb"/><polygon points="290.8,825.1 269.6,847.9 290.5,830.8" fill="#6f7a87"/><polygon points="290.5,830.8 269.6,847.9 290.2,836.5" fill="#eef2f6"/><polygon points="290.2,836.5 269.6,847.9 290.1,842.2" fill="#2c3239"/><polygon points="290.1,842.2 269.6,847.9 290.0,847.9" fill="#b7c8de"/><polygon points="290.0,847.9 269.6,847.9 290.1,853.6" fill="#fafbfd"/><polygon points="290.1,853.6 269.6,847.9 290.2,859.3" fill="#4d5660"/><polygon points="290.2,859.3 269.6,847.9 290.5,865.0" fill="#dfe6ee"/><polygon points="290.5,865.0 269.6,847.9 290.8,870.7" fill="#8794a3"/><polygon points="290.8,870.7 269.6,847.9 291.2,876.4" fill="#f2f5f8"/><polygon points="289.2,838.9 279.2,844.9 269.6,847.9 279.2,851.9 289.2,857.9 285.2,847.9" fill="#aab9cc" fill-opacity="0.8"/><polygon points="290.2,827.9 282.2,839.9 288.2,843.9" fill="#2a3037" fill-opacity="0.75"/><polygon points="290.2,868.9 281.2,854.9 287.2,850.9" fill="#eef2f6" fill-opacity="0.9"/><polygon points="291.2,819.4 296.6,825.1 300.7,829.7 290.8,825.1" fill="#f2f5f8" fill-opacity="0.92"/><polygon points="290.8,825.1 300.7,829.7 304.8,834.2 290.5,830.8" fill="#5f6975" fill-opacity="0.92"/><polygon points="290.5,830.8 304.8,834.2 308.5,838.8 290.2,836.5" fill="#e6ebf1" fill-opacity="0.92"/><polygon points="290.2,836.5 308.5,838.8 308.5,843.3 290.1,842.2" fill="#a3b2c4" fill-opacity="0.92"/><polygon points="290.1,842.2 308.5,843.3 308.5,847.9 290.0,847.9" fill="#fbfcfd" fill-opacity="0.92"/><polygon points="290.0,847.9 308.5,847.9 308.5,852.5 290.1,853.6" fill="#3c444d" fill-opacity="0.92"/><polygon points="290.1,853.6 308.5,852.5 308.5,857.0 290.2,859.3" fill="#e9eef3" fill-opacity="0.92"/><polygon points="290.2,859.3 308.5,857.0 304.8,861.6 290.5,865.0" fill="#818d9b" fill-opacity="0.92"/><polygon points="290.5,865.0 304.8,861.6 300.7,866.1 290.8,870.7" fill="#f4f6f9" fill-opacity="0.92"/><polygon points="290.8,870.7 300.7,866.1 296.6,870.7 291.2,876.4" fill="#4f5964" fill-opacity="0.92"/><polygon points="308.5,836.9 300.2,840.9 300.2,855.9 308.5,858.9" fill="#f6f8fa" fill-opacity="0.9"/><polygon points="303.2,833.9 292.2,844.9 302.2,849.9" fill="#353c44" fill-opacity="0.8"/><polygon points="302.2,851.9 293.2,848.9 299.2,862.9" fill="#8d99a8" fill-opacity="0.8"/><polygon points="308.5,835.9 305.7,826.9 300.2,820.4 295.2,817.1 291.2,819.4 269.6,847.9 291.2,876.4 295.2,878.7 300.2,875.4 305.7,868.9 308.5,859.9" fill="none" stroke="#7a838e" stroke-width="0.5"/>
<polygon points="232.5,815.7 258.6,828.4 258.6,881.4 232.5,894.6 206.5,881.4 206.5,828.4" fill="none" stroke="#111" stroke-width="0.9" stroke-dasharray="2.6 1.3"/>
<path d="M229.6 834.1H235.4L238.8 839.4L235.4 844.6H229.6L226.2 839.4ZM229.6 844.6H235.4L238.8 849.9L235.4 855.2H229.6L226.2 849.9ZM229.6 855.2H235.4L238.8 860.5L235.4 865.7H229.6L226.2 860.5ZM229.6 865.7H235.4L238.8 871.0L235.4 876.3H229.6L226.2 871.0Z" fill="none" stroke="#3f9cec" stroke-width="1.3"/>
<path d="M208.6 838L212.79999999999998 841V849L208.6 852L204.4 849V841ZM208.6 841.5L212.79999999999998 845L208.6 848.5L204.4 845ZM208.6 856.5L212.79999999999998 859.5V867.5L208.6 870.5L204.4 867.5V859.5ZM208.6 860.0L212.79999999999998 863.5L208.6 867.0L204.4 863.5Z" fill="none" stroke="#555" stroke-width="0.8"/>
<path d="M208.6 832.5V837.5M208.6 871V876.5" stroke="#f2a070" stroke-width="1.1"/>
<path d="M256.4 838L260.59999999999997 841V849L256.4 852L252.2 849V841ZM256.4 841.5L260.59999999999997 845L256.4 848.5L252.2 845ZM256.4 856.5L260.59999999999997 859.5V867.5L256.4 870.5L252.2 867.5V859.5ZM256.4 860.0L260.59999999999997 863.5L256.4 867.0L252.2 863.5Z" fill="none" stroke="#555" stroke-width="0.8"/>
<path d="M256.4 832.5V837.5M256.4 871V876.5" stroke="#f2a070" stroke-width="1.1"/>
<ellipse cx="221.3" cy="822" rx="2.3" ry="4.4" fill="none" stroke="#444" stroke-width="0.8" transform="rotate(-28 221.3 822)"/>
<path d="M225.4 818.8l2.3 -1.4M217.2 825.2l-2.3 1.4" stroke="#a050e4" stroke-width="1.2"/>
<ellipse cx="243.7" cy="822" rx="2.3" ry="4.4" fill="none" stroke="#444" stroke-width="0.8" transform="rotate(28 243.7 822)"/>
<path d="M239.6 818.8l-2.3 -1.4M247.8 825.2l2.3 1.4" stroke="#a050e4" stroke-width="1.2"/>
<ellipse cx="221.3" cy="888.5" rx="2.3" ry="4.4" fill="none" stroke="#444" stroke-width="0.8" transform="rotate(28 221.3 888.5)"/>
<path d="M217.2 885.3l-2.3 -1.4M225.4 891.7l2.3 1.4" stroke="#a050e4" stroke-width="1.2"/>
<ellipse cx="243.7" cy="888.5" rx="2.3" ry="4.4" fill="none" stroke="#444" stroke-width="0.8" transform="rotate(-28 243.7 888.5)"/>
<path d="M247.8 885.3l2.3 -1.4M239.6 891.7l-2.3 1.4" stroke="#a050e4" stroke-width="1.2"/>
<text x="465.7" y="337.4" font-size="35" font-weight="normal" text-anchor="start" fill="#000">d</text>
<line x1="545.18" y1="325.60" x2="545.18" y2="585.00" stroke="#d9d9dd" stroke-width="0.9"/>
<line x1="559.56" y1="325.60" x2="559.56" y2="585.00" stroke="#d9d9dd" stroke-width="0.9"/>
<line x1="573.94" y1="325.60" x2="573.94" y2="585.00" stroke="#d9d9dd" stroke-width="0.9"/>
<line x1="588.32" y1="325.60" x2="588.32" y2="585.00" stroke="#d9d9dd" stroke-width="0.9"/>
<line x1="602.70" y1="325.60" x2="602.70" y2="585.00" stroke="#d9d9dd" stroke-width="0.9"/>
<line x1="617.08" y1="325.60" x2="617.08" y2="585.00" stroke="#d9d9dd" stroke-width="0.9"/>
<line x1="631.46" y1="325.60" x2="631.46" y2="585.00" stroke="#d9d9dd" stroke-width="0.9"/>
<line x1="645.84" y1="325.60" x2="645.84" y2="585.00" stroke="#d9d9dd" stroke-width="0.9"/>
<line x1="660.22" y1="325.60" x2="660.22" y2="585.00" stroke="#d9d9dd" stroke-width="0.9"/>
<line x1="674.60" y1="325.60" x2="674.60" y2="585.00" stroke="#d9d9dd" stroke-width="0.9"/>
<line x1="688.98" y1="325.60" x2="688.98" y2="585.00" stroke="#d9d9dd" stroke-width="0.9"/>
<line x1="703.36" y1="325.60" x2="703.36" y2="585.00" stroke="#d9d9dd" stroke-width="0.9"/>
<line x1="717.74" y1="325.60" x2="717.74" y2="585.00" stroke="#d9d9dd" stroke-width="0.9"/>
<line x1="732.12" y1="325.60" x2="732.12" y2="585.00" stroke="#d9d9dd" stroke-width="0.9"/>
<line x1="746.50" y1="325.60" x2="746.50" y2="585.00" stroke="#d9d9dd" stroke-width="0.9"/>
<line x1="530.80" y1="570.60" x2="760.80" y2="570.60" stroke="#d9d9dd" stroke-width="0.9"/>
<line x1="530.80" y1="556.19" x2="760.80" y2="556.19" stroke="#d9d9dd" stroke-width="0.9"/>
<line x1="530.80" y1="541.78" x2="760.80" y2="541.78" stroke="#d9d9dd" stroke-width="0.9"/>
<line x1="530.80" y1="527.38" x2="760.80" y2="527.38" stroke="#d9d9dd" stroke-width="0.9"/>
<line x1="530.80" y1="512.98" x2="760.80" y2="512.98" stroke="#d9d9dd" stroke-width="0.9"/>
<line x1="530.80" y1="498.57" x2="760.80" y2="498.57" stroke="#d9d9dd" stroke-width="0.9"/>
<line x1="530.80" y1="484.17" x2="760.80" y2="484.17" stroke="#d9d9dd" stroke-width="0.9"/>
<line x1="530.80" y1="469.76" x2="760.80" y2="469.76" stroke="#d9d9dd" stroke-width="0.9"/>
<line x1="530.80" y1="455.36" x2="760.80" y2="455.36" stroke="#d9d9dd" stroke-width="0.9"/>
<line x1="530.80" y1="440.95" x2="760.80" y2="440.95" stroke="#d9d9dd" stroke-width="0.9"/>
<line x1="530.80" y1="426.55" x2="760.80" y2="426.55" stroke="#d9d9dd" stroke-width="0.9"/>
<line x1="530.80" y1="412.14" x2="760.80" y2="412.14" stroke="#d9d9dd" stroke-width="0.9"/>
<line x1="530.80" y1="397.74" x2="760.80" y2="397.74" stroke="#d9d9dd" stroke-width="0.9"/>
<line x1="530.80" y1="383.33" x2="760.80" y2="383.33" stroke="#d9d9dd" stroke-width="0.9"/>
<line x1="530.80" y1="368.93" x2="760.80" y2="368.93" stroke="#d9d9dd" stroke-width="0.9"/>
<line x1="530.80" y1="354.52" x2="760.80" y2="354.52" stroke="#d9d9dd" stroke-width="0.9"/>
<line x1="530.80" y1="340.12" x2="760.80" y2="340.12" stroke="#d9d9dd" stroke-width="0.9"/>
<line x1="559.56" y1="325.71" x2="760.88" y2="527.38" stroke="#9a9a9a" stroke-width="0.8"/>
<g clip-path="url(#cie)"><g filter="url(#cb)"><polygon points="620.7,490.2 736.1,491.0 735.9,483.4" fill="url(#c0)"/><polygon points="620.7,490.2 730.7,485.2 730.2,478.0" fill="url(#c1)"/><polygon points="620.7,490.2 725.9,479.8 725.0,473.0" fill="url(#c2)"/><polygon points="620.7,490.2 721.4,474.9 720.2,468.4" fill="url(#c3)"/><polygon points="620.7,490.2 717.2,470.3 715.7,464.1" fill="url(#c4)"/><polygon points="620.7,490.2 713.3,466.0 711.5,460.0" fill="url(#c5)"/><polygon points="620.7,490.2 709.5,461.9 707.5,456.2" fill="url(#c6)"/><polygon points="620.7,490.2 706.0,458.1 703.7,452.6" fill="url(#c7)"/><polygon points="620.7,490.2 702.6,454.4 700.1,449.1" fill="url(#c8)"/><polygon points="620.7,490.2 699.3,450.8 696.5,445.7" fill="url(#c9)"/><polygon points="620.7,490.2 696.1,447.3 693.1,442.5" fill="url(#c10)"/><polygon points="620.7,490.2 692.9,443.9 689.8,439.3" fill="url(#c11)"/><polygon points="620.7,490.2 689.8,440.6 686.5,436.2" fill="url(#c12)"/><polygon points="620.7,490.2 686.8,437.3 683.2,433.1" fill="url(#c13)"/><polygon points="620.7,490.2 683.8,434.1 680.0,430.1" fill="url(#c14)"/><polygon points="620.7,490.2 680.8,430.9 676.8,427.1" fill="url(#c15)"/><polygon points="620.7,490.2 677.7,427.6 673.5,424.0" fill="url(#c16)"/><polygon points="620.7,490.2 674.6,424.4 670.2,421.0" fill="url(#c17)"/><polygon points="620.7,490.2 671.5,421.1 666.9,417.9" fill="url(#c18)"/><polygon points="620.7,490.2 668.4,417.8 663.5,414.8" fill="url(#c19)"/><polygon points="620.7,490.2 665.1,414.4 660.0,411.6" fill="url(#c20)"/><polygon points="620.7,490.2 661.7,410.9 656.5,408.4" fill="url(#c21)"/><polygon points="620.7,490.2 658.2,407.3 652.7,405.0" fill="url(#c22)"/><polygon points="620.7,490.2 654.6,403.6 648.9,401.5" fill="url(#c23)"/><polygon points="620.7,490.2 650.8,399.6 644.8,397.9" fill="url(#c24)"/><polygon points="620.7,490.2 646.7,395.5 640.5,394.0" fill="url(#c25)"/><polygon points="620.7,490.2 642.4,391.2 635.9,389.9" fill="url(#c26)"/><polygon points="620.7,490.2 637.8,386.5 631.0,385.6" fill="url(#c27)"/><polygon points="620.7,490.2 632.9,381.6 625.7,381.0" fill="url(#c28)"/><polygon points="620.7,490.2 627.4,376.3 620.0,376.1" fill="url(#c29)"/><polygon points="620.7,490.2 621.5,370.5 613.7,370.7" fill="url(#c30)"/><polygon points="620.7,490.2 615.0,364.4 606.8,365.0" fill="url(#c31)"/><polygon points="620.7,490.2 607.7,357.7 599.1,358.8" fill="url(#c32)"/><polygon points="620.7,490.2 599.6,350.7 590.5,352.3" fill="url(#c33)"/><polygon points="620.7,490.2 590.6,343.5 581.1,345.8" fill="url(#c34)"/><polygon points="620.7,490.2 580.6,336.3 570.7,339.3" fill="url(#c35)"/><polygon points="620.7,490.2 569.8,329.6 559.4,333.3" fill="url(#c36)"/><polygon points="620.7,490.2 558.4,324.4 547.7,328.8" fill="url(#c37)"/><polygon points="620.7,490.2 547.5,322.5 536.7,327.7" fill="url(#c38)"/><polygon points="620.7,490.2 539.2,327.3 528.7,333.0" fill="url(#c39)"/><polygon points="620.7,490.2 533.1,335.9 523.3,342.0" fill="url(#c40)"/><polygon points="620.7,490.2 528.6,346.0 519.4,352.4" fill="url(#c41)"/><polygon points="620.7,490.2 526.0,357.8 517.6,364.3" fill="url(#c42)"/><polygon points="620.7,490.2 524.3,369.3 516.6,375.9" fill="url(#c43)"/><polygon points="620.7,490.2 522.8,379.8 515.8,386.5" fill="url(#c44)"/><polygon points="620.7,490.2 522.7,390.7 516.4,397.4" fill="url(#c45)"/><polygon points="620.7,490.2 522.7,400.6 517.0,407.2" fill="url(#c46)"/><polygon points="620.7,490.2 522.6,409.5 517.5,416.1" fill="url(#c47)"/><polygon points="620.7,490.2 522.5,417.8 518.0,424.4" fill="url(#c48)"/><polygon points="620.7,490.2 523.2,425.8 519.2,432.4" fill="url(#c49)"/><polygon points="620.7,490.2 523.7,433.3 520.2,439.7" fill="url(#c50)"/><polygon points="620.7,490.2 524.3,440.2 521.2,446.6" fill="url(#c51)"/><polygon points="620.7,490.2 524.7,446.7 522.1,453.0" fill="url(#c52)"/><polygon points="620.7,490.2 525.2,452.8 523.0,459.1" fill="url(#c53)"/><polygon points="620.7,490.2 525.7,458.6 523.8,464.9" fill="url(#c54)"/><polygon points="620.7,490.2 526.4,464.2 524.9,470.5" fill="url(#c55)"/><polygon points="620.7,490.2 527.2,469.7 526.0,475.8" fill="url(#c56)"/><polygon points="620.7,490.2 527.9,474.9 527.1,481.0" fill="url(#c57)"/><polygon points="620.7,490.2 528.7,479.9 528.2,486.0" fill="url(#c58)"/><polygon points="620.7,490.2 529.4,484.8 529.2,490.8" fill="url(#c59)"/><polygon points="620.7,490.2 530.1,489.6 530.2,495.6" fill="url(#c60)"/><polygon points="620.7,490.2 530.8,494.3 531.2,500.2" fill="url(#c61)"/><polygon points="620.7,490.2 531.5,499.0 532.3,504.8" fill="url(#c62)"/><polygon points="620.7,490.2 532.5,503.6 533.5,509.4" fill="url(#c63)"/><polygon points="620.7,490.2 533.4,508.2 534.8,513.9" fill="url(#c64)"/><polygon points="620.7,490.2 534.4,512.8 536.1,518.4" fill="url(#c65)"/><polygon points="620.7,490.2 535.4,517.4 537.3,522.9" fill="url(#c66)"/><polygon points="620.7,490.2 536.4,522.0 538.6,527.5" fill="url(#c67)"/><polygon points="620.7,490.2 537.4,526.7 540.0,532.1" fill="url(#c68)"/><polygon points="620.7,490.2 538.6,531.5 541.4,536.8" fill="url(#c69)"/><polygon points="620.7,490.2 540.0,536.2 543.2,541.4" fill="url(#c70)"/><polygon points="620.7,490.2 541.5,541.1 544.9,546.1" fill="url(#c71)"/><polygon points="620.7,490.2 543.0,546.0 546.8,551.0" fill="url(#c72)"/><polygon points="620.7,490.2 544.6,551.2 548.7,556.0" fill="url(#c73)"/><polygon points="620.7,490.2 546.4,556.4 550.9,561.1" fill="url(#c74)"/><polygon points="620.7,490.2 548.4,561.8 553.2,566.3" fill="url(#c75)"/><polygon points="620.7,490.2 550.5,567.4 555.7,571.8" fill="url(#c76)"/><polygon points="620.7,490.2 553.0,572.9 558.5,577.2" fill="url(#c77)"/><polygon points="620.7,490.2 555.7,578.6 561.7,582.7" fill="url(#c78)"/><polygon points="620.7,490.2 559.0,584.0 565.3,587.9" fill="url(#c79)"/><polygon points="620.7,490.2 563.0,588.8 569.6,592.4" fill="url(#c80)"/><polygon points="620.7,490.2 567.5,593.1 574.4,596.4" fill="url(#c81)"/><polygon points="620.7,490.2 573.3,595.2 580.2,598.0" fill="url(#c82)"/><polygon points="620.7,490.2 581.0,592.0 587.7,594.4" fill="url(#c83)"/><polygon points="620.7,490.2 587.9,589.1 594.5,591.1" fill="url(#c84)"/><polygon points="620.7,490.2 594.3,586.5 600.6,588.1" fill="url(#c85)"/><polygon points="620.7,490.2 600.2,584.1 606.3,585.3" fill="url(#c86)"/><polygon points="620.7,490.2 605.6,581.9 611.6,582.7" fill="url(#c87)"/><polygon points="620.7,490.2 610.7,579.8 616.6,580.3" fill="url(#c88)"/><polygon points="620.7,490.2 615.6,577.8 621.3,578.0" fill="url(#c89)"/><polygon points="620.7,490.2 620.2,575.9 625.8,575.8" fill="url(#c90)"/><polygon points="620.7,490.2 624.6,574.1 630.0,573.7" fill="url(#c91)"/><polygon points="620.7,490.2 628.8,572.4 634.2,571.7" fill="url(#c92)"/><polygon points="620.7,490.2 632.9,570.7 638.1,569.7" fill="url(#c93)"/><polygon points="620.7,490.2 636.9,569.0 642.0,567.8" fill="url(#c94)"/><polygon points="620.7,490.2 640.8,567.4 645.8,565.9" fill="url(#c95)"/><polygon points="620.7,490.2 644.7,565.7 649.6,564.0" fill="url(#c96)"/><polygon points="620.7,490.2 648.5,564.1 653.3,562.2" fill="url(#c97)"/><polygon points="620.7,490.2 652.3,562.5 657.0,560.3" fill="url(#c98)"/><polygon points="620.7,490.2 656.1,560.9 660.6,558.4" fill="url(#c99)"/><polygon points="620.7,490.2 659.9,559.3 664.3,556.5" fill="url(#c100)"/><polygon points="620.7,490.2 663.8,557.6 668.1,554.6" fill="url(#c101)"/><polygon points="620.7,490.2 667.7,555.9 671.9,552.7" fill="url(#c102)"/><polygon points="620.7,490.2 671.7,554.1 675.8,550.7" fill="url(#c103)"/><polygon points="620.7,490.2 675.8,552.3 679.8,548.6" fill="url(#c104)"/><polygon points="620.7,490.2 680.1,550.5 683.9,546.4" fill="url(#c105)"/><polygon points="620.7,490.2 684.5,548.5 688.2,544.2" fill="url(#c106)"/><polygon points="620.7,490.2 689.2,546.5 692.7,541.9" fill="url(#c107)"/><polygon points="620.7,490.2 694.0,544.3 697.4,539.4" fill="url(#c108)"/><polygon points="620.7,490.2 699.2,542.0 702.4,536.8" fill="url(#c109)"/><polygon points="620.7,490.2 704.8,539.6 707.8,533.9" fill="url(#c110)"/><polygon points="620.7,490.2 710.8,536.9 713.6,530.9" fill="url(#c111)"/><polygon points="620.7,490.2 717.3,534.0 719.9,527.6" fill="url(#c112)"/><polygon points="620.7,490.2 724.4,530.9 726.8,524.0" fill="url(#c113)"/><polygon points="620.7,490.2 732.4,527.4 734.6,520.0" fill="url(#c114)"/><polygon points="620.7,490.2 741.3,523.4 743.2,515.5" fill="url(#c115)"/><polygon points="620.7,490.2 751.5,519.0 753.1,510.3" fill="url(#c116)"/><polygon points="620.7,490.2 755.9,512.6 757.1,503.7" fill="url(#c117)"/><polygon points="620.7,490.2 748.5,504.5 749.2,496.1" fill="url(#c118)"/><polygon points="620.7,490.2 742.0,497.4 742.2,489.4" fill="url(#c119)"/></g></g>
<polygon points="580.9,583.6 580.9,583.6 580.9,583.6 580.8,583.6 580.8,583.6 580.8,583.6 580.8,583.6 580.8,583.6 580.7,583.6 580.7,583.6 580.7,583.6 580.7,583.6 580.6,583.6 580.6,583.6 580.6,583.6 580.6,583.6 580.5,583.6 580.5,583.6 580.4,583.6 580.4,583.6 580.3,583.6 580.3,583.6 580.2,583.6 580.2,583.6 580.1,583.5 580.0,583.5 579.9,583.4 579.8,583.3 579.7,583.2 579.5,583.1 579.4,583.0 579.2,582.9 579.0,582.7 578.8,582.5 578.6,582.3 578.3,582.1 578.1,581.9 577.8,581.6 577.5,581.3 577.1,581.0 576.7,580.7 576.3,580.3 575.8,579.9 575.3,579.5 574.8,579.0 574.2,578.5 573.6,577.9 572.9,577.2 572.2,576.4 571.5,575.6 570.7,574.7 569.8,573.5 568.8,572.1 567.7,570.4 566.5,568.3 565.2,566.0 563.8,563.3 562.3,560.0 560.7,556.2 558.9,551.8 557.1,546.8 555.0,541.0 552.8,534.5 550.6,527.2 548.3,518.9 546.1,509.8 543.9,500.0 541.7,489.3 539.5,477.8 537.6,466.1 535.8,454.1 534.3,441.8 533.2,429.9 532.4,418.3 531.9,407.0 531.9,396.4 532.4,386.4 533.4,377.1 534.8,368.9 536.8,361.8 539.2,355.8 542.0,351.1 545.1,347.8 548.6,345.8 552.2,344.8 555.9,344.7 559.8,345.7 563.6,347.0 567.5,348.6 571.5,350.6 575.3,352.8 579.0,355.0 582.7,357.4 586.3,359.8 589.8,362.3 593.3,365.0 596.8,367.7 600.3,370.5 603.8,373.4 607.2,376.3 610.7,379.3 614.1,382.4 617.5,385.5 621.0,388.7 624.4,391.9 627.8,395.2 631.2,398.4 634.7,401.8 638.1,405.1 641.5,408.4 644.9,411.8 648.3,415.1 651.7,418.5 655.1,421.8 658.5,425.2 661.9,428.5 665.2,431.8 668.5,435.1 671.8,438.4 675.0,441.6 678.2,444.8 681.3,448.0 684.4,451.1 687.5,454.1 690.5,457.1 693.4,460.0 696.2,462.8 699.0,465.5 701.6,468.2 704.2,470.8 706.6,473.2 708.9,475.5 711.1,477.7 713.3,479.8 715.3,481.8 717.2,483.8 719.0,485.5 720.7,487.2 722.3,488.8 723.8,490.2 725.1,491.6 726.4,492.9 727.6,494.1 728.7,495.2 729.7,496.2 730.6,497.1 731.5,498.0 732.3,498.8 733.0,499.5 733.7,500.2 734.4,500.9 735.0,501.5 735.6,502.1 736.1,502.6 736.7,503.1 737.1,503.6 737.6,504.1 738.0,504.5 738.4,504.9 738.7,505.2 739.1,505.5 739.3,505.8 739.6,506.1 739.8,506.3 740.1,506.5 740.3,506.7 740.4,506.9 740.5,507.0 740.7,507.2 741.2,507.7 741.7,508.2 742.1,508.6" fill="none" stroke="#111" stroke-width="0.9"/>
<path d="M572.2 576.4l-3.1 2.8M569.8 573.5l-2.4 1.7M566.5 568.3l-3.7 2.0M562.3 560.0l-2.7 1.2M557.1 546.8l-4.0 1.4M550.6 527.2l-2.9 0.8M543.9 500.0l-4.1 0.9M537.6 466.1l-3.0 0.5M533.2 429.9l-4.2 0.3M531.9 396.4l-3.0 -0.1M534.8 368.9l-4.1 -0.9M542.0 351.1l-2.4 -1.8M552.2 344.8l-0.8 -4.1M563.6 347.0l1.0 -2.8M575.3 352.8l2.1 -3.7M586.3 359.8l1.7 -2.5M596.8 367.7l2.6 -3.3M607.2 376.3l2.0 -2.3M617.5 385.5l2.8 -3.1M627.8 395.2l2.1 -2.2M638.1 405.1l2.9 -3.0M648.3 415.1l2.1 -2.1M658.5 425.2l3.0 -3.0M668.5 435.1l2.1 -2.1M678.2 444.8l3.0 -3.0M687.5 454.1l2.1 -2.1M696.2 462.8l3.0 -3.0M704.2 470.8l2.1 -2.1M711.1 477.7l3.0 -3.0M717.2 483.8l2.1 -2.1M722.3 488.8l3.0 -3.0M726.4 492.9l2.1 -2.1M729.7 496.2l3.0 -3.0" stroke="#222" stroke-width="0.8" fill="none"/>
<rect x="530.8" y="325.6" width="230.0" height="259.4" fill="none" stroke="#1c2a5e" stroke-width="1.5"/>
<line x1="526.20" y1="325.71" x2="530.80" y2="325.71" stroke="#2a3fc0" stroke-width="1.2"/>
<text x="523" y="333.1" font-size="16.3" font-weight="bold" text-anchor="end" fill="#000">0.9</text>
<line x1="526.20" y1="383.33" x2="530.80" y2="383.33" stroke="#2a3fc0" stroke-width="1.2"/>
<text x="523" y="389.8" font-size="16.3" font-weight="bold" text-anchor="end" fill="#000">0.7</text>
<line x1="526.20" y1="440.95" x2="530.80" y2="440.95" stroke="#2a3fc0" stroke-width="1.2"/>
<text x="523" y="446.5" font-size="16.3" font-weight="bold" text-anchor="end" fill="#000">0.5</text>
<line x1="526.20" y1="498.57" x2="530.80" y2="498.57" stroke="#2a3fc0" stroke-width="1.2"/>
<text x="523" y="503.2" font-size="16.3" font-weight="bold" text-anchor="end" fill="#000">0.3</text>
<line x1="526.20" y1="556.19" x2="530.80" y2="556.19" stroke="#2a3fc0" stroke-width="1.2"/>
<text x="523" y="560.0" font-size="16.3" font-weight="bold" text-anchor="end" fill="#000">0.1</text>
<text x="528.8" y="602.6" font-size="16" font-weight="bold" text-anchor="middle" fill="#000">0.0</text>
<text x="579.7" y="602.6" font-size="16" font-weight="bold" text-anchor="middle" fill="#000">0.2</text>
<text x="629.8" y="602.6" font-size="16" font-weight="bold" text-anchor="middle" fill="#000">0.4</text>
<text x="677" y="602.6" font-size="16" font-weight="bold" text-anchor="middle" fill="#000">0.6</text>
<text x="730" y="602.6" font-size="16" font-weight="bold" text-anchor="middle" fill="#000">0.8</text>
<text x="647" y="631.3" font-size="20" font-weight="bold" text-anchor="middle" fill="#000">X</text>
<text x="483.2" y="451.8" font-size="21.6" font-weight="bold" text-anchor="middle" fill="#000">Y</text>
<text x="544" y="340.5" font-size="16.5" font-weight="bold" text-anchor="start" fill="#1a1ad6">520</text>
<text x="598.6" y="365.6" font-size="16.5" font-weight="bold" text-anchor="start" fill="#1a1ad6">540</text>
<text x="639.9" y="402.4" font-size="16.5" font-weight="bold" text-anchor="start" fill="#1a1ad6">560</text>
<text x="681.3" y="443.5" font-size="16.5" font-weight="bold" text-anchor="start" fill="#1a1ad6">580</text>
<text x="711.8" y="476.5" font-size="16.5" font-weight="bold" text-anchor="start" fill="#1a1ad6">600</text>
<text x="731.3" y="495.4" font-size="16.5" font-weight="bold" text-anchor="start" fill="#1a1ad6">620</text>
<text x="744.8" y="517" font-size="16.5" font-weight="bold" text-anchor="start" fill="#1a1ad6">700</text>
<text x="509.2" y="434.5" font-size="13.5" font-weight="bold" text-anchor="start" fill="#1a1ad6">500</text>
<text x="524.5" y="520.2" font-size="14.5" font-weight="bold" text-anchor="start" fill="#1a1ad6">490</text>
<text x="534.7" y="557.6" font-size="13.8" font-weight="bold" text-anchor="start" fill="#1a1ad6">480</text>
<text x="547.6" y="579.3" font-size="13.5" font-weight="bold" text-anchor="start" fill="#1a1ad6">470</text>
<text x="554.5" y="590.5" font-size="13.5" font-weight="bold" text-anchor="start" fill="#1a1ad6">460</text>
<text x="604.1" y="591.6" font-size="13.5" font-weight="bold" text-anchor="start" fill="#1a1ad6">380</text>
<path d="M583 559.8C581 530 581.5 503 589 482C598 458 612 443 631 440C652 437.5 669 447 675.5 461C680 472 676 481 663.5 490.5" fill="none" stroke="#111" stroke-width="2.3" stroke-dasharray="7.5 3.2"/>
<path d="M670.5 483.2L662 491.3L671.8 493.4" fill="none" stroke="#111" stroke-width="1.8"/>
<circle cx="630.9" cy="418.3" r="2.5" fill="#0a0a0a"/><circle cx="645.6" cy="426.1" r="2.5" fill="#0a0a0a"/><circle cx="660.9" cy="435.4" r="2.5" fill="#0a0a0a"/><circle cx="674.7" cy="446.5" r="2.5" fill="#0a0a0a"/><circle cx="686.4" cy="458.5" r="2.5" fill="#0a0a0a"/><circle cx="684.9" cy="475.9" r="2.5" fill="#0a0a0a"/><circle cx="681.9" cy="483.4" r="2.5" fill="#0a0a0a"/><circle cx="676.2" cy="488.8" r="2.5" fill="#0a0a0a"/><circle cx="601.5" cy="433.9" r="2.5" fill="#0a0a0a"/><circle cx="585.9" cy="468.4" r="2.5" fill="#0a0a0a"/><circle cx="580.6" cy="490.9" r="2.5" fill="#0a0a0a"/><circle cx="576.1" cy="522" r="2.5" fill="#0a0a0a"/><circle cx="574" cy="537.9" r="2.5" fill="#0a0a0a"/><circle cx="574.6" cy="543.3" r="2.5" fill="#0a0a0a"/><circle cx="575.8" cy="550.2" r="2.5" fill="#0a0a0a"/>
<text x="798.8" y="337.6" font-size="35" font-weight="normal" text-anchor="start" fill="#000">e</text>
<line x1="845.30" y1="582.00" x2="845.30" y2="586.60" stroke="#000" stroke-width="1.4"/>
<line x1="877.55" y1="582.00" x2="877.55" y2="584.40" stroke="#000" stroke-width="1.4"/>
<line x1="909.80" y1="582.00" x2="909.80" y2="586.60" stroke="#000" stroke-width="1.4"/>
<line x1="942.05" y1="582.00" x2="942.05" y2="584.40" stroke="#000" stroke-width="1.4"/>
<line x1="974.30" y1="582.00" x2="974.30" y2="586.60" stroke="#000" stroke-width="1.4"/>
<line x1="1006.55" y1="582.00" x2="1006.55" y2="584.40" stroke="#000" stroke-width="1.4"/>
<line x1="1038.80" y1="582.00" x2="1038.80" y2="586.60" stroke="#000" stroke-width="1.4"/>
<line x1="1071.05" y1="582.00" x2="1071.05" y2="584.40" stroke="#000" stroke-width="1.4"/>
<line x1="1103.30" y1="582.00" x2="1103.30" y2="586.60" stroke="#000" stroke-width="1.4"/>
<line x1="835.20" y1="579.20" x2="840.00" y2="579.20" stroke="#000" stroke-width="1.4"/>
<line x1="837.60" y1="551.90" x2="840.00" y2="551.90" stroke="#000" stroke-width="1.4"/>
<line x1="835.20" y1="524.60" x2="840.00" y2="524.60" stroke="#000" stroke-width="1.4"/>
<line x1="837.60" y1="497.30" x2="840.00" y2="497.30" stroke="#000" stroke-width="1.4"/>
<line x1="835.20" y1="470.00" x2="840.00" y2="470.00" stroke="#000" stroke-width="1.4"/>
<line x1="837.60" y1="442.70" x2="840.00" y2="442.70" stroke="#000" stroke-width="1.4"/>
<line x1="835.20" y1="415.40" x2="840.00" y2="415.40" stroke="#000" stroke-width="1.4"/>
<line x1="837.60" y1="388.10" x2="840.00" y2="388.10" stroke="#000" stroke-width="1.4"/>
<line x1="835.20" y1="360.80" x2="840.00" y2="360.80" stroke="#000" stroke-width="1.4"/>
<line x1="837.60" y1="333.50" x2="840.00" y2="333.50" stroke="#000" stroke-width="1.4"/>
<text x="845.3" y="607.6" font-size="21.5" font-weight="bold" text-anchor="middle" fill="#000">0</text>
<text x="909.8" y="607.6" font-size="21.5" font-weight="bold" text-anchor="middle" fill="#000">6</text>
<text x="974.3" y="607.6" font-size="21.5" font-weight="bold" text-anchor="middle" fill="#000">12</text>
<text x="1038.8" y="607.6" font-size="21.5" font-weight="bold" text-anchor="middle" fill="#000">18</text>
<text x="1103.3" y="607.6" font-size="21.5" font-weight="bold" text-anchor="middle" fill="#000">24</text>
<text x="833.6" y="586.6" font-size="21.5" font-weight="bold" text-anchor="end" fill="#000">420</text>
<text x="833.6" y="532.0" font-size="21.5" font-weight="bold" text-anchor="end" fill="#000">480</text>
<text x="833.6" y="477.40000000000003" font-size="21.5" font-weight="bold" text-anchor="end" fill="#000">540</text>
<text x="833.6" y="422.8" font-size="21.5" font-weight="bold" text-anchor="end" fill="#000">600</text>
<text x="833.6" y="368.20000000000005" font-size="21.5" font-weight="bold" text-anchor="end" fill="#000">660</text>
<text x="978" y="633.8" font-size="20.4" font-weight="bold" text-anchor="middle" fill="#000">Pressure (GPa)</text>
<text x="791.4" y="457.4" font-size="19.3" font-weight="bold" text-anchor="middle" fill="#000" transform="rotate(-90 791.4 457.4)">Wavelength (nm)</text>
<polyline points="844.4,561.2 845.6,559.1 847.2,556.0 849.1,552.6 851.0,549.5 852.7,546.9 854.4,544.6 856.2,542.2 858.3,539.6 860.8,536.7 863.5,533.6 866.4,530.6 869.4,527.6 872.4,524.9 875.5,522.3 878.7,519.7 881.9,517.0 885.0,514.2 888.0,511.5 891.2,508.5 894.8,505.3 898.9,501.8 903.3,498.2 908.1,494.1 913.4,489.5 919.6,483.9 926.4,477.5 933.3,471.2 939.3,465.7 944.0,461.6 948.0,458.4 951.9,455.3 956.4,451.6 961.7,447.2 967.4,442.5 973.5,437.5 980.0,432.4 986.8,427.2 993.9,421.8 1001.5,416.1 1009.4,410.0 1017.7,403.4 1026.3,396.3 1035.4,388.8 1045.0,381.0 1056.3,371.9 1069.0,361.7 1080.5,352.4 1088.5,346.0" fill="none" stroke="#12a040" stroke-width="1.7" stroke-linejoin="round"/>
<path d="M845.4 551.1V567.1M842.1 551.1h6.6M842.1 567.1h6.6" stroke="#12a040" stroke-width="1.5" fill="none"/>
<path d="M850.6 539.1V555.1M847.3 539.1h6.6M847.3 555.1h6.6" stroke="#12a040" stroke-width="1.5" fill="none"/>
<path d="M854.0 538.2V554.2M850.7 538.2h6.6M850.7 554.2h6.6" stroke="#12a040" stroke-width="1.5" fill="none"/>
<path d="M858.3 525.4V541.4M855.0 525.4h6.6M855.0 541.4h6.6" stroke="#12a040" stroke-width="1.5" fill="none"/>
<path d="M869.4 514.7V530.7M866.1 514.7h6.6M866.1 530.7h6.6" stroke="#12a040" stroke-width="1.5" fill="none"/>
<path d="M881.9 505.7V521.7M878.6 505.7h6.6M878.6 521.7h6.6" stroke="#12a040" stroke-width="1.5" fill="none"/>
<path d="M894.8 490.2V506.2M891.5 490.2h6.6M891.5 506.2h6.6" stroke="#12a040" stroke-width="1.5" fill="none"/>
<path d="M913.4 473.1V489.1M910.1 473.1h6.6M910.1 489.1h6.6" stroke="#12a040" stroke-width="1.5" fill="none"/>
<path d="M939.3 453.9V469.9M936.0 453.9h6.6M936.0 469.9h6.6" stroke="#12a040" stroke-width="1.5" fill="none"/>
<path d="M956.4 441.4V457.4M953.1 441.4h6.6M953.1 457.4h6.6" stroke="#12a040" stroke-width="1.5" fill="none"/>
<path d="M993.2 419.8V441.8M989.9 419.8h6.6M989.9 441.8h6.6" stroke="#12a040" stroke-width="1.5" fill="none"/>
<path d="M1013.1 396.6V418.6M1009.8 396.6h6.6M1009.8 418.6h6.6" stroke="#12a040" stroke-width="1.5" fill="none"/>
<path d="M1043.4 376.9V398.9M1040.1 376.9h6.6M1040.1 398.9h6.6" stroke="#12a040" stroke-width="1.5" fill="none"/>
<path d="M1069.4 361.5V383.5M1066.1 361.5h6.6M1066.1 383.5h6.6" stroke="#12a040" stroke-width="1.5" fill="none"/>
<path d="M1091.0 333.3V355.3M1087.7 333.3h6.6M1087.7 355.3h6.6" stroke="#12a040" stroke-width="1.5" fill="none"/>
<circle cx="845.4" cy="559.1" r="6" fill="#12a040"/><circle cx="845.4" cy="559.1" r="6" fill="url(#gb)"/>
<circle cx="850.6" cy="547.1" r="6" fill="#12a040"/><circle cx="850.6" cy="547.1" r="6" fill="url(#gb)"/>
<circle cx="854.0" cy="546.2" r="6" fill="#12a040"/><circle cx="854.0" cy="546.2" r="6" fill="url(#gb)"/>
<circle cx="858.3" cy="533.4" r="6" fill="#12a040"/><circle cx="858.3" cy="533.4" r="6" fill="url(#gb)"/>
<circle cx="869.4" cy="522.7" r="6" fill="#12a040"/><circle cx="869.4" cy="522.7" r="6" fill="url(#gb)"/>
<circle cx="881.9" cy="513.7" r="6" fill="#12a040"/><circle cx="881.9" cy="513.7" r="6" fill="url(#gb)"/>
<circle cx="894.8" cy="498.2" r="6" fill="#12a040"/><circle cx="894.8" cy="498.2" r="6" fill="url(#gb)"/>
<circle cx="913.4" cy="481.1" r="6" fill="#12a040"/><circle cx="913.4" cy="481.1" r="6" fill="url(#gb)"/>
<circle cx="939.3" cy="461.9" r="6" fill="#12a040"/><circle cx="939.3" cy="461.9" r="6" fill="url(#gb)"/>
<circle cx="956.4" cy="449.4" r="6" fill="#12a040"/><circle cx="956.4" cy="449.4" r="6" fill="url(#gb)"/>
<circle cx="993.2" cy="430.8" r="6" fill="#12a040"/><circle cx="993.2" cy="430.8" r="6" fill="url(#gb)"/>
<circle cx="1013.1" cy="407.6" r="6" fill="#12a040"/><circle cx="1013.1" cy="407.6" r="6" fill="url(#gb)"/>
<circle cx="1043.4" cy="387.9" r="6" fill="#12a040"/><circle cx="1043.4" cy="387.9" r="6" fill="url(#gb)"/>
<circle cx="1069.4" cy="372.5" r="6" fill="#12a040"/><circle cx="1069.4" cy="372.5" r="6" fill="url(#gb)"/>
<circle cx="1091.0" cy="344.3" r="6" fill="#12a040"/><circle cx="1091.0" cy="344.3" r="6" fill="url(#gb)"/>
<rect x="840" y="325" width="267" height="257" fill="none" stroke="#1a1a1a" stroke-width="1.6"/>
<text x="856.5" y="403.4" font-size="22.1" font-weight="bold" text-anchor="start" fill="#000">W(P)=W<tspan font-size="14" dy="5">0</tspan><tspan dy="-5">+αP</tspan></text>
<text x="956.5" y="493.3" font-size="17" font-weight="bold" text-anchor="start" fill="#000">W<tspan font-size="11" dy="4">0</tspan><tspan dy="-4">=455.03 nm</tspan></text>
<text x="957.5" y="528.6" font-size="17" font-weight="bold" text-anchor="start" fill="#000">α=9.82 nm·GPa<tspan font-size="11" dy="-7">-1</tspan></text>
<text x="958" y="562" font-size="17" font-weight="bold" text-anchor="start" fill="#000">R<tspan font-size="11" dy="-7">2</tspan><tspan dy="7">=0.99</tspan></text>
<text x="457" y="648.5" font-size="35" font-weight="normal" text-anchor="start" fill="#000">f</text>
<line x1="527.40" y1="872.90" x2="527.40" y2="877.70" stroke="#000" stroke-width="1.4"/>
<line x1="558.24" y1="872.90" x2="558.24" y2="875.40" stroke="#000" stroke-width="1.4"/>
<line x1="589.08" y1="872.90" x2="589.08" y2="877.70" stroke="#000" stroke-width="1.4"/>
<line x1="619.92" y1="872.90" x2="619.92" y2="875.40" stroke="#000" stroke-width="1.4"/>
<line x1="650.76" y1="872.90" x2="650.76" y2="877.70" stroke="#000" stroke-width="1.4"/>
<line x1="681.60" y1="872.90" x2="681.60" y2="875.40" stroke="#000" stroke-width="1.4"/>
<line x1="712.44" y1="872.90" x2="712.44" y2="877.70" stroke="#000" stroke-width="1.4"/>
<line x1="743.28" y1="872.90" x2="743.28" y2="875.40" stroke="#000" stroke-width="1.4"/>
<line x1="774.12" y1="872.90" x2="774.12" y2="877.70" stroke="#000" stroke-width="1.4"/>
<line x1="513.60" y1="872.20" x2="518.40" y2="872.20" stroke="#000" stroke-width="1.4"/>
<line x1="515.90" y1="837.05" x2="518.40" y2="837.05" stroke="#000" stroke-width="1.4"/>
<line x1="513.60" y1="801.90" x2="518.40" y2="801.90" stroke="#000" stroke-width="1.4"/>
<line x1="515.90" y1="766.75" x2="518.40" y2="766.75" stroke="#000" stroke-width="1.4"/>
<line x1="513.60" y1="731.60" x2="518.40" y2="731.60" stroke="#000" stroke-width="1.4"/>
<line x1="515.90" y1="696.45" x2="518.40" y2="696.45" stroke="#000" stroke-width="1.4"/>
<line x1="513.60" y1="661.30" x2="518.40" y2="661.30" stroke="#000" stroke-width="1.4"/>
<text x="527.4" y="895.2" font-size="17.5" font-weight="bold" text-anchor="middle" fill="#000">0</text>
<text x="589.0799999999999" y="895.2" font-size="17.5" font-weight="bold" text-anchor="middle" fill="#000">6</text>
<text x="650.76" y="895.2" font-size="17.5" font-weight="bold" text-anchor="middle" fill="#000">12</text>
<text x="712.4399999999999" y="895.2" font-size="17.5" font-weight="bold" text-anchor="middle" fill="#000">18</text>
<text x="774.1199999999999" y="895.2" font-size="17.5" font-weight="bold" text-anchor="middle" fill="#000">24</text>
<text x="510.4" y="878.6" font-size="17.8" font-weight="bold" text-anchor="end" fill="#000">0.0</text>
<text x="510.4" y="808.3000000000001" font-size="17.8" font-weight="bold" text-anchor="end" fill="#000">1.0k</text>
<text x="510.4" y="738.0" font-size="17.8" font-weight="bold" text-anchor="end" fill="#000">2.0k</text>
<text x="510.4" y="667.7" font-size="17.8" font-weight="bold" text-anchor="end" fill="#000">3.0k</text>
<text x="654.5" y="921" font-size="20" font-weight="bold" text-anchor="middle" fill="#000">Pressure (GPa)</text>
<text x="466.3" y="773.6" font-size="19" font-weight="bold" text-anchor="middle" fill="#000" transform="rotate(-90 466.3 773.6)">Intensity (arb. units)</text>
<polyline points="527.5,736.7 532.2,717.4 535.3,707.9 539.4,664.3 549.9,669.7 562.6,686.5 574.6,702.3 592.2,718.2 616.5,738.8 633.1,773.7 667.8,798.4 687.4,820.9 716.4,845.6 761.6,862.4" fill="none" stroke="#1766b8" stroke-width="1.3"/>
<circle cx="527.5" cy="736.7" r="6" fill="#0f7fd8"/><circle cx="527.5" cy="736.7" r="6" fill="url(#gb)"/>
<circle cx="532.2" cy="717.4" r="6" fill="#0f7fd8"/><circle cx="532.2" cy="717.4" r="6" fill="url(#gb)"/>
<circle cx="535.3" cy="707.9" r="6" fill="#0f7fd8"/><circle cx="535.3" cy="707.9" r="6" fill="url(#gb)"/>
<circle cx="539.4" cy="664.3" r="6" fill="#0f7fd8"/><circle cx="539.4" cy="664.3" r="6" fill="url(#gb)"/>
<circle cx="549.9" cy="669.7" r="6" fill="#0f7fd8"/><circle cx="549.9" cy="669.7" r="6" fill="url(#gb)"/>
<circle cx="562.6" cy="686.5" r="6" fill="#0f7fd8"/><circle cx="562.6" cy="686.5" r="6" fill="url(#gb)"/>
<circle cx="574.6" cy="702.3" r="6" fill="#0f7fd8"/><circle cx="574.6" cy="702.3" r="6" fill="url(#gb)"/>
<circle cx="592.2" cy="718.2" r="6" fill="#0f7fd8"/><circle cx="592.2" cy="718.2" r="6" fill="url(#gb)"/>
<circle cx="616.5" cy="738.8" r="6" fill="#0f7fd8"/><circle cx="616.5" cy="738.8" r="6" fill="url(#gb)"/>
<circle cx="633.1" cy="773.7" r="6" fill="#0f7fd8"/><circle cx="633.1" cy="773.7" r="6" fill="url(#gb)"/>
<circle cx="667.8" cy="798.4" r="6" fill="#0f7fd8"/><circle cx="667.8" cy="798.4" r="6" fill="url(#gb)"/>
<circle cx="687.4" cy="820.9" r="6" fill="#0f7fd8"/><circle cx="687.4" cy="820.9" r="6" fill="url(#gb)"/>
<circle cx="716.4" cy="845.6" r="6" fill="#0f7fd8"/><circle cx="716.4" cy="845.6" r="6" fill="url(#gb)"/>
<circle cx="761.6" cy="862.4" r="6" fill="#0f7fd8"/><circle cx="761.6" cy="862.4" r="6" fill="url(#gb)"/>
<rect x="518.4" y="647.2" width="259.1" height="225.69999999999993" fill="none" stroke="#000" stroke-width="1.6"/>
<text x="800" y="648.5" font-size="35" font-weight="normal" text-anchor="start" fill="#000">g</text>
<linearGradient id="gg"><stop offset="0" stop-color="#27587f"/><stop offset="0.5" stop-color="#4a9a70"/><stop offset="0.85" stop-color="#68c85a"/><stop offset="1" stop-color="#6ccc58"/></linearGradient>
<linearGradient id="gp"><stop offset="0" stop-color="#6a10a8"/><stop offset="0.5" stop-color="#b4508c"/><stop offset="0.85" stop-color="#ea7858"/><stop offset="1" stop-color="#ee8450"/></linearGradient>
<rect x="842.5" y="648.00" width="208.0" height="11.7" fill="url(#gp)"/>
<text x="1053.1" y="657.6" font-size="10.2" font-weight="bold" text-anchor="start" fill="#7a18b4">This work</text>
<rect x="842.5" y="663.09" width="172.5" height="11.7" fill="url(#gg)"/>
<text x="1017.6" y="672.7" font-size="10.2" font-weight="bold" text-anchor="start" fill="#1e1e1e">(ETA)<tspan font-size="7" dy="3">2</tspan><tspan dy="-3">PbBr</tspan><tspan font-size="7" dy="3">4</tspan></text>
<rect x="842.5" y="678.18" width="164.8" height="11.7" fill="url(#gg)"/>
<text x="1009.9" y="687.8" font-size="10.2" font-weight="bold" text-anchor="start" fill="#1e1e1e">JUC-635</text>
<rect x="842.5" y="693.27" width="163.1" height="11.7" fill="url(#gg)"/>
<text x="1008.2" y="702.9" font-size="10.2" font-weight="bold" text-anchor="start" fill="#1e1e1e">[PP14]<tspan font-size="7" dy="3">2</tspan><tspan dy="-3">[MnBr</tspan><tspan font-size="7" dy="3">4</tspan><tspan dy="-3">]</tspan></text>
<rect x="842.5" y="708.36" width="154.1" height="11.7" fill="url(#gg)"/>
<text x="999.2" y="718.0" font-size="10.2" font-weight="bold" text-anchor="start" fill="#1e1e1e">1OC</text>
<rect x="842.5" y="723.45" width="140.0" height="11.7" fill="url(#gg)"/>
<text x="985.1" y="733.1" font-size="10.2" font-weight="bold" text-anchor="start" fill="#1e1e1e">DBTS</text>
<rect x="842.5" y="738.54" width="135.6" height="11.7" fill="url(#gg)"/>
<text x="980.7" y="748.1" font-size="10.2" font-weight="bold" text-anchor="start" fill="#1e1e1e">Cage-πOF-1</text>
<rect x="842.5" y="753.63" width="132.3" height="11.7" fill="url(#gg)"/>
<text x="977.4" y="763.2" font-size="10.2" font-weight="bold" text-anchor="start" fill="#1e1e1e">OMC:Cage-3</text>
<rect x="842.5" y="768.72" width="118.2" height="11.7" fill="url(#gg)"/>
<text x="963.3" y="778.3" font-size="10.2" font-weight="bold" text-anchor="start" fill="#1e1e1e">JUC-620</text>
<rect x="842.5" y="783.81" width="116.1" height="11.7" fill="url(#gg)"/>
<text x="961.2" y="793.4" font-size="10.2" font-weight="bold" text-anchor="start" fill="#1e1e1e">ETA<tspan font-size="7" dy="3">2</tspan><tspan dy="-3">PbI</tspan><tspan font-size="7" dy="3">4</tspan></text>
<rect x="842.5" y="798.90" width="112.1" height="11.7" fill="url(#gg)"/>
<text x="957.2" y="808.5" font-size="10.2" font-weight="bold" text-anchor="start" fill="#1e1e1e">BP4VA</text>
<rect x="842.5" y="813.99" width="108.0" height="11.7" fill="url(#gg)"/>
<text x="953.1" y="823.6" font-size="10.2" font-weight="bold" text-anchor="start" fill="#1e1e1e">DEF∈ZnETTB</text>
<rect x="842.5" y="829.08" width="105.7" height="11.7" fill="url(#gg)"/>
<text x="950.8" y="838.7" font-size="10.2" font-weight="bold" text-anchor="start" fill="#1e1e1e">Truxene</text>
<rect x="842.5" y="844.17" width="91.9" height="11.7" fill="url(#gg)"/>
<text x="937.0" y="853.8" font-size="10.2" font-weight="bold" text-anchor="start" fill="#1e1e1e">Carbazole</text>
<rect x="842.5" y="859.26" width="83.5" height="11.7" fill="url(#gg)"/>
<text x="928.6" y="868.9" font-size="10.2" font-weight="bold" text-anchor="start" fill="#1e1e1e">InP/ZnS</text>
<line x1="842.70" y1="872.00" x2="842.70" y2="876.80" stroke="#000" stroke-width="1.4"/>
<line x1="869.01" y1="872.00" x2="869.01" y2="874.50" stroke="#000" stroke-width="1.4"/>
<line x1="895.32" y1="872.00" x2="895.32" y2="876.80" stroke="#000" stroke-width="1.4"/>
<line x1="921.63" y1="872.00" x2="921.63" y2="874.50" stroke="#000" stroke-width="1.4"/>
<line x1="947.94" y1="872.00" x2="947.94" y2="876.80" stroke="#000" stroke-width="1.4"/>
<line x1="974.25" y1="872.00" x2="974.25" y2="874.50" stroke="#000" stroke-width="1.4"/>
<line x1="1000.56" y1="872.00" x2="1000.56" y2="876.80" stroke="#000" stroke-width="1.4"/>
<line x1="1026.87" y1="872.00" x2="1026.87" y2="874.50" stroke="#000" stroke-width="1.4"/>
<line x1="1053.18" y1="872.00" x2="1053.18" y2="876.80" stroke="#000" stroke-width="1.4"/>
<line x1="1079.49" y1="872.00" x2="1079.49" y2="874.50" stroke="#000" stroke-width="1.4"/>
<line x1="1105.80" y1="872.00" x2="1105.80" y2="876.80" stroke="#000" stroke-width="1.4"/>
<text x="842.7" y="894.6" font-size="17.8" font-weight="bold" text-anchor="middle" fill="#000">0</text>
<text x="895.3" y="894.6" font-size="17.8" font-weight="bold" text-anchor="middle" fill="#000">60</text>
<text x="947.9" y="894.6" font-size="17.8" font-weight="bold" text-anchor="middle" fill="#000">120</text>
<text x="1000.6" y="894.6" font-size="17.8" font-weight="bold" text-anchor="middle" fill="#000">180</text>
<text x="1053.2" y="894.6" font-size="17.8" font-weight="bold" text-anchor="middle" fill="#000">240</text>
<text x="1105.8" y="894.6" font-size="17.8" font-weight="bold" text-anchor="middle" fill="#000">300</text>
<text x="979.7" y="920.4" font-size="20.3" font-weight="bold" text-anchor="middle" fill="#000">Wavelength Shift (nm)</text>
<rect x="842.5" y="646.3" width="264.0" height="225.70000000000005" fill="none" stroke="#000" stroke-width="1.6"/>
</svg></body></html>
